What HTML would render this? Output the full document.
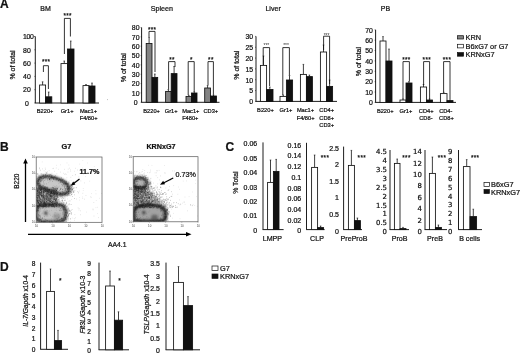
<!DOCTYPE html>
<html><head><meta charset="utf-8"><title>Figure</title>
<style>html,body{margin:0;padding:0;background:#fff;}svg{display:block;filter:blur(0.35px)}text{stroke:#111;stroke-width:0.22px;paint-order:stroke}text.t{stroke:none}</style></head>
<body><svg width="520" height="354" viewBox="0 0 520 354" font-family='"Liberation Sans", sans-serif'>
<defs><filter id="b1" x="-10%" y="-10%" width="120%" height="120%"><feGaussianBlur stdDeviation="0.95"/></filter><filter id="b2" x="-20%" y="-20%" width="140%" height="140%"><feGaussianBlur stdDeviation="1.6"/></filter></defs>
<rect width="520" height="354" fill="#fff"/>
<text x="0.00" y="8.30" font-size="12" text-anchor="start" font-weight="bold" fill="#111" >A</text>
<text x="45.60" y="11.10" font-size="7.0" text-anchor="middle" fill="#111" >BM</text>
<text x="14.90" y="65.00" font-size="7.0" text-anchor="middle" transform="rotate(-90 14.90 65.00)" fill="#111" >% of total</text>
<text x="28.20" y="39.28" font-size="6.9" text-anchor="middle" fill="#111" letter-spacing="-0.35">100</text>
<line x1="34.00" y1="36.50" x2="35.30" y2="36.50" stroke="#111" stroke-width="0.6"/>
<line x1="35.30" y1="36.50" x2="35.30" y2="103.00" stroke="#111" stroke-width="0.95"/>
<line x1="34.90" y1="103.00" x2="99.00" y2="103.00" stroke="#111" stroke-width="0.95"/>
<text x="26.90" y="105.78" font-size="6.9" text-anchor="middle" fill="#111" >0</text>
<line x1="34.30" y1="103.00" x2="35.30" y2="103.00" stroke="#111" stroke-width="0.5"/>
<text x="26.90" y="92.48" font-size="6.9" text-anchor="middle" fill="#111" >20</text>
<line x1="34.30" y1="89.70" x2="35.30" y2="89.70" stroke="#111" stroke-width="0.5"/>
<text x="26.90" y="79.18" font-size="6.9" text-anchor="middle" fill="#111" >40</text>
<line x1="34.30" y1="76.40" x2="35.30" y2="76.40" stroke="#111" stroke-width="0.5"/>
<text x="26.90" y="65.88" font-size="6.9" text-anchor="middle" fill="#111" >60</text>
<line x1="34.30" y1="63.10" x2="35.30" y2="63.10" stroke="#111" stroke-width="0.5"/>
<text x="26.90" y="52.58" font-size="6.9" text-anchor="middle" fill="#111" >80</text>
<line x1="34.30" y1="49.80" x2="35.30" y2="49.80" stroke="#111" stroke-width="0.5"/>
<line x1="42.60" y1="81.80" x2="42.60" y2="85.00" stroke="#111" stroke-width="0.8"/>
<line x1="41.80" y1="81.80" x2="43.40" y2="81.80" stroke="#111" stroke-width="0.6"/>
<rect x="39.60" y="85.00" width="6.00" height="18.00" fill="#fff" stroke="#111" stroke-width="0.85"/>
<line x1="48.70" y1="92.00" x2="48.70" y2="96.80" stroke="#111" stroke-width="0.8"/>
<line x1="47.90" y1="92.00" x2="49.50" y2="92.00" stroke="#111" stroke-width="0.6"/>
<rect x="45.60" y="96.80" width="6.20" height="6.20" fill="#111" stroke="#111" stroke-width="0.85"/>
<line x1="64.25" y1="61.00" x2="64.25" y2="63.60" stroke="#111" stroke-width="0.8"/>
<line x1="63.45" y1="61.00" x2="65.05" y2="61.00" stroke="#111" stroke-width="0.6"/>
<rect x="61.00" y="63.60" width="6.50" height="39.40" fill="#fff" stroke="#111" stroke-width="0.85"/>
<line x1="70.75" y1="41.00" x2="70.75" y2="49.00" stroke="#111" stroke-width="0.8"/>
<line x1="69.95" y1="41.00" x2="71.55" y2="41.00" stroke="#111" stroke-width="0.6"/>
<rect x="67.50" y="49.00" width="6.50" height="54.00" fill="#111" stroke="#111" stroke-width="0.85"/>
<line x1="86.00" y1="84.50" x2="86.00" y2="85.60" stroke="#111" stroke-width="0.8"/>
<line x1="85.20" y1="84.50" x2="86.80" y2="84.50" stroke="#111" stroke-width="0.6"/>
<rect x="83.00" y="85.60" width="6.00" height="17.40" fill="#fff" stroke="#111" stroke-width="0.85"/>
<line x1="92.00" y1="83.00" x2="92.00" y2="86.00" stroke="#111" stroke-width="0.8"/>
<line x1="91.20" y1="83.00" x2="92.80" y2="83.00" stroke="#111" stroke-width="0.6"/>
<rect x="89.00" y="86.00" width="6.00" height="17.00" fill="#111" stroke="#111" stroke-width="0.85"/>
<polyline points="43.40,72.00 43.40,65.70 48.40,65.70 48.40,89.00" fill="none" stroke="#111" stroke-width="0.85"/>
<text x="46.10" y="64.45" font-size="6.3" text-anchor="middle" fill="#111" letter-spacing="0.35">***</text>
<polyline points="64.40,54.00 64.40,18.40 70.40,18.40 70.40,36.50" fill="none" stroke="#111" stroke-width="0.85"/>
<text x="67.60" y="18.35" font-size="6.3" text-anchor="middle" fill="#111" letter-spacing="0.35">***</text>
<text x="45.10" y="112.70" font-size="5.7" text-anchor="middle" fill="#111" >B220+</text>
<text x="67.10" y="112.70" font-size="5.7" text-anchor="middle" fill="#111" >Gr1+</text>
<text x="88.50" y="112.70" font-size="5.7" text-anchor="middle" fill="#111" >Mac1+</text>
<text x="88.60" y="120.10" font-size="5.7" text-anchor="middle" fill="#111" >F4/80+</text>
<text x="161.90" y="11.00" font-size="7.15" text-anchor="middle" fill="#111" >Spleen</text>
<text x="126.50" y="67.70" font-size="7.0" text-anchor="middle" transform="rotate(-90 126.50 67.70)" fill="#111" >% of total</text>
<line x1="141.60" y1="27.50" x2="141.60" y2="102.30" stroke="#111" stroke-width="0.95"/>
<line x1="141.20" y1="102.30" x2="219.50" y2="102.30" stroke="#111" stroke-width="0.95"/>
<text x="135.70" y="105.08" font-size="6.9" text-anchor="middle" fill="#111" >0</text>
<line x1="140.60" y1="102.30" x2="141.60" y2="102.30" stroke="#111" stroke-width="0.5"/>
<text x="135.70" y="95.73" font-size="6.9" text-anchor="middle" fill="#111" >10</text>
<line x1="140.60" y1="92.95" x2="141.60" y2="92.95" stroke="#111" stroke-width="0.5"/>
<text x="135.70" y="86.38" font-size="6.9" text-anchor="middle" fill="#111" >20</text>
<line x1="140.60" y1="83.60" x2="141.60" y2="83.60" stroke="#111" stroke-width="0.5"/>
<text x="135.70" y="77.03" font-size="6.9" text-anchor="middle" fill="#111" >30</text>
<line x1="140.60" y1="74.25" x2="141.60" y2="74.25" stroke="#111" stroke-width="0.5"/>
<text x="135.70" y="67.68" font-size="6.9" text-anchor="middle" fill="#111" >40</text>
<line x1="140.60" y1="64.90" x2="141.60" y2="64.90" stroke="#111" stroke-width="0.5"/>
<text x="135.70" y="58.33" font-size="6.9" text-anchor="middle" fill="#111" >50</text>
<line x1="140.60" y1="55.55" x2="141.60" y2="55.55" stroke="#111" stroke-width="0.5"/>
<text x="135.70" y="48.98" font-size="6.9" text-anchor="middle" fill="#111" >60</text>
<line x1="140.60" y1="46.20" x2="141.60" y2="46.20" stroke="#111" stroke-width="0.5"/>
<text x="135.70" y="39.63" font-size="6.9" text-anchor="middle" fill="#111" >70</text>
<line x1="140.60" y1="36.85" x2="141.60" y2="36.85" stroke="#111" stroke-width="0.5"/>
<text x="135.70" y="30.28" font-size="6.9" text-anchor="middle" fill="#111" >80</text>
<line x1="140.60" y1="27.50" x2="141.60" y2="27.50" stroke="#111" stroke-width="0.5"/>
<line x1="149.10" y1="37.50" x2="149.10" y2="43.50" stroke="#111" stroke-width="0.8"/>
<line x1="148.30" y1="37.50" x2="149.90" y2="37.50" stroke="#111" stroke-width="0.6"/>
<rect x="146.20" y="43.50" width="5.80" height="58.80" fill="#838383" stroke="#111" stroke-width="0.85"/>
<line x1="154.85" y1="74.00" x2="154.85" y2="77.40" stroke="#111" stroke-width="0.8"/>
<line x1="154.05" y1="74.00" x2="155.65" y2="74.00" stroke="#111" stroke-width="0.6"/>
<rect x="152.00" y="77.40" width="5.70" height="24.90" fill="#111" stroke="#111" stroke-width="0.85"/>
<line x1="168.40" y1="89.50" x2="168.40" y2="91.40" stroke="#111" stroke-width="0.8"/>
<line x1="167.60" y1="89.50" x2="169.20" y2="89.50" stroke="#111" stroke-width="0.6"/>
<rect x="165.60" y="91.40" width="5.60" height="10.90" fill="#838383" stroke="#111" stroke-width="0.85"/>
<line x1="174.10" y1="66.50" x2="174.10" y2="73.60" stroke="#111" stroke-width="0.8"/>
<line x1="173.30" y1="66.50" x2="174.90" y2="66.50" stroke="#111" stroke-width="0.6"/>
<rect x="171.20" y="73.60" width="5.80" height="28.70" fill="#111" stroke="#111" stroke-width="0.85"/>
<line x1="188.75" y1="95.30" x2="188.75" y2="96.40" stroke="#111" stroke-width="0.8"/>
<line x1="187.95" y1="95.30" x2="189.55" y2="95.30" stroke="#111" stroke-width="0.6"/>
<rect x="186.00" y="96.40" width="5.50" height="5.90" fill="#838383" stroke="#111" stroke-width="0.85"/>
<line x1="194.25" y1="91.50" x2="194.25" y2="93.00" stroke="#111" stroke-width="0.8"/>
<line x1="193.45" y1="91.50" x2="195.05" y2="91.50" stroke="#111" stroke-width="0.6"/>
<rect x="191.50" y="93.00" width="5.50" height="9.30" fill="#111" stroke="#111" stroke-width="0.85"/>
<line x1="207.60" y1="85.50" x2="207.60" y2="88.00" stroke="#111" stroke-width="0.8"/>
<line x1="206.80" y1="85.50" x2="208.40" y2="85.50" stroke="#111" stroke-width="0.6"/>
<rect x="204.70" y="88.00" width="5.80" height="14.30" fill="#838383" stroke="#111" stroke-width="0.85"/>
<line x1="213.50" y1="95.00" x2="213.50" y2="96.00" stroke="#111" stroke-width="0.8"/>
<line x1="212.70" y1="95.00" x2="214.30" y2="95.00" stroke="#111" stroke-width="0.6"/>
<rect x="210.50" y="96.00" width="6.00" height="6.30" fill="#111" stroke="#111" stroke-width="0.85"/>
<polyline points="149.00,37.00 149.00,31.40 155.00,31.40 155.00,72.00" fill="none" stroke="#111" stroke-width="0.85"/>
<text x="152.20" y="31.75" font-size="6.3" text-anchor="middle" fill="#111" letter-spacing="0.35">***</text>
<polyline points="168.60,89.00 168.60,61.60 175.00,61.60 175.00,67.00" fill="none" stroke="#111" stroke-width="0.85"/>
<text x="172.00" y="62.15" font-size="6.3" text-anchor="middle" fill="#111" letter-spacing="0.35">**</text>
<polyline points="188.20,95.00 188.20,61.60 194.20,61.60 194.20,91.00" fill="none" stroke="#111" stroke-width="0.85"/>
<text x="191.40" y="62.15" font-size="6.3" text-anchor="middle" fill="#111" letter-spacing="0.35">*</text>
<polyline points="208.00,85.00 208.00,61.60 213.40,61.60 213.40,94.80" fill="none" stroke="#111" stroke-width="0.85"/>
<text x="210.90" y="62.15" font-size="6.3" text-anchor="middle" fill="#111" letter-spacing="0.35">**</text>
<text x="151.60" y="112.70" font-size="5.7" text-anchor="middle" fill="#111" >B220+</text>
<text x="171.20" y="112.70" font-size="5.7" text-anchor="middle" fill="#111" >Gr1+</text>
<text x="190.80" y="112.70" font-size="5.7" text-anchor="middle" fill="#111" >Mac1+</text>
<text x="210.80" y="112.70" font-size="5.7" text-anchor="middle" fill="#111" >CD3+</text>
<text x="190.30" y="120.30" font-size="5.7" text-anchor="middle" fill="#111" >F480+</text>
<line x1="107.00" y1="99.60" x2="107.60" y2="99.60" stroke="#666" stroke-width="0.7"/>
<text x="273.10" y="11.20" font-size="7.1" text-anchor="middle" fill="#111" >Liver</text>
<text x="239.50" y="65.20" font-size="7.0" text-anchor="middle" transform="rotate(-90 239.50 65.20)" fill="#111" >% of total</text>
<line x1="256.00" y1="36.40" x2="256.00" y2="101.40" stroke="#111" stroke-width="0.95"/>
<line x1="255.60" y1="101.40" x2="337.00" y2="101.40" stroke="#111" stroke-width="0.95"/>
<text x="253.20" y="104.18" font-size="6.9" text-anchor="end" fill="#111" >0</text>
<line x1="255.00" y1="101.40" x2="256.00" y2="101.40" stroke="#111" stroke-width="0.5"/>
<text x="253.20" y="93.35" font-size="6.9" text-anchor="end" fill="#111" >5</text>
<line x1="255.00" y1="90.57" x2="256.00" y2="90.57" stroke="#111" stroke-width="0.5"/>
<text x="253.20" y="82.52" font-size="6.9" text-anchor="end" fill="#111" >10</text>
<line x1="255.00" y1="79.73" x2="256.00" y2="79.73" stroke="#111" stroke-width="0.5"/>
<text x="253.20" y="71.68" font-size="6.9" text-anchor="end" fill="#111" >15</text>
<line x1="255.00" y1="68.90" x2="256.00" y2="68.90" stroke="#111" stroke-width="0.5"/>
<text x="253.20" y="60.85" font-size="6.9" text-anchor="end" fill="#111" >20</text>
<line x1="255.00" y1="58.07" x2="256.00" y2="58.07" stroke="#111" stroke-width="0.5"/>
<text x="253.20" y="50.02" font-size="6.9" text-anchor="end" fill="#111" >25</text>
<line x1="255.00" y1="47.23" x2="256.00" y2="47.23" stroke="#111" stroke-width="0.5"/>
<text x="253.20" y="39.18" font-size="6.9" text-anchor="end" fill="#111" >30</text>
<line x1="255.00" y1="36.40" x2="256.00" y2="36.40" stroke="#111" stroke-width="0.5"/>
<line x1="263.50" y1="56.00" x2="263.50" y2="65.40" stroke="#111" stroke-width="0.8"/>
<line x1="262.70" y1="56.00" x2="264.30" y2="56.00" stroke="#111" stroke-width="0.6"/>
<rect x="260.40" y="65.40" width="6.20" height="36.00" fill="#fff" stroke="#111" stroke-width="0.85"/>
<line x1="269.80" y1="87.00" x2="269.80" y2="89.50" stroke="#111" stroke-width="0.8"/>
<line x1="269.00" y1="87.00" x2="270.60" y2="87.00" stroke="#111" stroke-width="0.6"/>
<rect x="266.60" y="89.50" width="6.40" height="11.90" fill="#111" stroke="#111" stroke-width="0.85"/>
<line x1="283.20" y1="95.00" x2="283.20" y2="96.40" stroke="#111" stroke-width="0.8"/>
<line x1="282.40" y1="95.00" x2="284.00" y2="95.00" stroke="#111" stroke-width="0.6"/>
<rect x="280.00" y="96.40" width="6.40" height="5.00" fill="#fff" stroke="#111" stroke-width="0.85"/>
<line x1="289.50" y1="75.50" x2="289.50" y2="80.00" stroke="#111" stroke-width="0.8"/>
<line x1="288.70" y1="75.50" x2="290.30" y2="75.50" stroke="#111" stroke-width="0.6"/>
<rect x="286.40" y="80.00" width="6.20" height="21.40" fill="#111" stroke="#111" stroke-width="0.85"/>
<line x1="303.40" y1="64.40" x2="303.40" y2="74.40" stroke="#111" stroke-width="0.8"/>
<line x1="302.60" y1="64.40" x2="304.20" y2="64.40" stroke="#111" stroke-width="0.6"/>
<rect x="300.40" y="74.40" width="6.00" height="27.00" fill="#fff" stroke="#111" stroke-width="0.85"/>
<line x1="309.40" y1="75.00" x2="309.40" y2="76.60" stroke="#111" stroke-width="0.8"/>
<line x1="308.60" y1="75.00" x2="310.20" y2="75.00" stroke="#111" stroke-width="0.6"/>
<rect x="306.40" y="76.60" width="6.00" height="24.80" fill="#111" stroke="#111" stroke-width="0.85"/>
<line x1="323.50" y1="45.00" x2="323.50" y2="52.00" stroke="#111" stroke-width="0.8"/>
<line x1="322.70" y1="45.00" x2="324.30" y2="45.00" stroke="#111" stroke-width="0.6"/>
<rect x="320.40" y="52.00" width="6.20" height="49.40" fill="#fff" stroke="#111" stroke-width="0.85"/>
<line x1="329.60" y1="80.00" x2="329.60" y2="86.40" stroke="#111" stroke-width="0.8"/>
<line x1="328.80" y1="80.00" x2="330.40" y2="80.00" stroke="#111" stroke-width="0.6"/>
<rect x="326.60" y="86.40" width="6.00" height="15.00" fill="#111" stroke="#111" stroke-width="0.85"/>
<polyline points="263.20,65.00 263.20,47.60 269.60,47.60 269.60,86.00" fill="none" stroke="#111" stroke-width="0.85"/>
<text x="266.40" y="47.40" font-size="5.0" text-anchor="middle" fill="#333" class="t">***</text>
<polyline points="282.80,95.00 282.80,47.60 289.40,47.60 289.40,75.00" fill="none" stroke="#111" stroke-width="0.85"/>
<text x="286.10" y="47.40" font-size="5.0" text-anchor="middle" fill="#333" class="t">***</text>
<polyline points="323.60,50.00 323.60,36.20 329.60,36.20 329.60,84.00" fill="none" stroke="#111" stroke-width="0.85"/>
<text x="326.60" y="36.60" font-size="5.0" text-anchor="middle" fill="#333" class="t">***</text>
<text x="265.40" y="112.20" font-size="5.7" text-anchor="middle" fill="#111" >B220+</text>
<text x="286.00" y="112.20" font-size="5.7" text-anchor="middle" fill="#111" >Gr1+</text>
<text x="305.50" y="112.20" font-size="5.7" text-anchor="middle" fill="#111" >Mac1+</text>
<text x="326.70" y="112.20" font-size="5.7" text-anchor="middle" fill="#111" >CD4+</text>
<text x="305.60" y="120.20" font-size="5.7" text-anchor="middle" fill="#111" >F4/80+</text>
<text x="326.70" y="120.20" font-size="5.7" text-anchor="middle" fill="#111" >CD8+</text>
<text x="326.70" y="127.20" font-size="5.7" text-anchor="middle" fill="#111" >CD3+</text>
<text x="385.40" y="11.20" font-size="7.0" text-anchor="middle" fill="#111" >PB</text>
<text x="361.50" y="61.60" font-size="7.0" text-anchor="middle" transform="rotate(-90 361.50 61.60)" fill="#111" >% of total</text>
<line x1="375.60" y1="29.80" x2="375.60" y2="102.40" stroke="#111" stroke-width="0.95"/>
<line x1="375.20" y1="102.40" x2="456.00" y2="102.40" stroke="#111" stroke-width="0.95"/>
<text x="372.90" y="105.18" font-size="6.9" text-anchor="end" fill="#111" >0</text>
<line x1="374.60" y1="102.40" x2="375.60" y2="102.40" stroke="#111" stroke-width="0.5"/>
<text x="372.90" y="94.81" font-size="6.9" text-anchor="end" fill="#111" >10</text>
<line x1="374.60" y1="92.03" x2="375.60" y2="92.03" stroke="#111" stroke-width="0.5"/>
<text x="372.90" y="84.44" font-size="6.9" text-anchor="end" fill="#111" >20</text>
<line x1="374.60" y1="81.66" x2="375.60" y2="81.66" stroke="#111" stroke-width="0.5"/>
<text x="372.90" y="74.07" font-size="6.9" text-anchor="end" fill="#111" >30</text>
<line x1="374.60" y1="71.29" x2="375.60" y2="71.29" stroke="#111" stroke-width="0.5"/>
<text x="372.90" y="63.70" font-size="6.9" text-anchor="end" fill="#111" >40</text>
<line x1="374.60" y1="60.91" x2="375.60" y2="60.91" stroke="#111" stroke-width="0.5"/>
<text x="372.90" y="53.33" font-size="6.9" text-anchor="end" fill="#111" >50</text>
<line x1="374.60" y1="50.54" x2="375.60" y2="50.54" stroke="#111" stroke-width="0.5"/>
<text x="372.90" y="42.96" font-size="6.9" text-anchor="end" fill="#111" >60</text>
<line x1="374.60" y1="40.17" x2="375.60" y2="40.17" stroke="#111" stroke-width="0.5"/>
<text x="372.90" y="32.58" font-size="6.9" text-anchor="end" fill="#111" >70</text>
<line x1="374.60" y1="29.80" x2="375.60" y2="29.80" stroke="#111" stroke-width="0.5"/>
<line x1="383.00" y1="36.60" x2="383.00" y2="41.00" stroke="#111" stroke-width="0.8"/>
<line x1="382.20" y1="36.60" x2="383.80" y2="36.60" stroke="#111" stroke-width="0.6"/>
<rect x="380.00" y="41.00" width="6.00" height="61.40" fill="#fff" stroke="#111" stroke-width="0.85"/>
<line x1="389.00" y1="49.00" x2="389.00" y2="61.00" stroke="#111" stroke-width="0.8"/>
<line x1="388.20" y1="49.00" x2="389.80" y2="49.00" stroke="#111" stroke-width="0.6"/>
<rect x="386.00" y="61.00" width="6.00" height="41.40" fill="#111" stroke="#111" stroke-width="0.85"/>
<line x1="403.00" y1="99.00" x2="403.00" y2="100.00" stroke="#111" stroke-width="0.8"/>
<line x1="402.20" y1="99.00" x2="403.80" y2="99.00" stroke="#111" stroke-width="0.6"/>
<rect x="400.00" y="100.00" width="6.00" height="2.40" fill="#fff" stroke="#111" stroke-width="0.85"/>
<line x1="409.00" y1="81.50" x2="409.00" y2="83.00" stroke="#111" stroke-width="0.8"/>
<line x1="408.20" y1="81.50" x2="409.80" y2="81.50" stroke="#111" stroke-width="0.6"/>
<rect x="406.00" y="83.00" width="6.00" height="19.40" fill="#111" stroke="#111" stroke-width="0.85"/>
<line x1="423.50" y1="84.50" x2="423.50" y2="87.00" stroke="#111" stroke-width="0.8"/>
<line x1="422.70" y1="84.50" x2="424.30" y2="84.50" stroke="#111" stroke-width="0.6"/>
<rect x="420.40" y="87.00" width="6.20" height="15.40" fill="#fff" stroke="#111" stroke-width="0.85"/>
<line x1="429.55" y1="99.00" x2="429.55" y2="100.00" stroke="#111" stroke-width="0.8"/>
<line x1="428.75" y1="99.00" x2="430.35" y2="99.00" stroke="#111" stroke-width="0.6"/>
<rect x="426.60" y="100.00" width="5.90" height="2.40" fill="#111" stroke="#111" stroke-width="0.85"/>
<line x1="443.70" y1="92.30" x2="443.70" y2="93.60" stroke="#111" stroke-width="0.8"/>
<line x1="442.90" y1="92.30" x2="444.50" y2="92.30" stroke="#111" stroke-width="0.6"/>
<rect x="440.40" y="93.60" width="6.60" height="8.80" fill="#fff" stroke="#111" stroke-width="0.85"/>
<line x1="450.00" y1="100.00" x2="450.00" y2="100.60" stroke="#111" stroke-width="0.8"/>
<line x1="449.20" y1="100.00" x2="450.80" y2="100.00" stroke="#111" stroke-width="0.6"/>
<rect x="447.00" y="100.60" width="6.00" height="1.80" fill="#111" stroke="#111" stroke-width="0.85"/>
<polyline points="403.00,99.00 403.00,61.60 409.40,61.60 409.40,81.00" fill="none" stroke="#111" stroke-width="0.85"/>
<text x="406.40" y="62.15" font-size="6.3" text-anchor="middle" fill="#111" letter-spacing="0.35">***</text>
<polyline points="423.60,85.00 423.60,61.60 429.60,61.60 429.60,99.00" fill="none" stroke="#111" stroke-width="0.85"/>
<text x="426.80" y="62.15" font-size="6.3" text-anchor="middle" fill="#111" letter-spacing="0.35">***</text>
<polyline points="443.60,92.40 443.60,61.60 450.00,61.60 450.00,99.50" fill="none" stroke="#111" stroke-width="0.85"/>
<text x="447.00" y="62.15" font-size="6.3" text-anchor="middle" fill="#111" letter-spacing="0.35">***</text>
<text x="385.20" y="112.70" font-size="5.7" text-anchor="middle" fill="#111" >B220+</text>
<text x="405.90" y="112.70" font-size="5.7" text-anchor="middle" fill="#111" >Gr1+</text>
<text x="426.20" y="112.70" font-size="5.7" text-anchor="middle" fill="#111" >CD4+</text>
<text x="445.80" y="112.70" font-size="5.7" text-anchor="middle" fill="#111" >CD4-</text>
<text x="425.90" y="120.10" font-size="5.7" text-anchor="middle" fill="#111" >CD8-</text>
<text x="446.40" y="120.10" font-size="5.7" text-anchor="middle" fill="#111" >CD8+</text>
<rect x="457.40" y="35.70" width="6.20" height="3.30" fill="#838383" stroke="#111" stroke-width="0.7"/>
<rect x="457.40" y="44.30" width="6.20" height="3.60" fill="#fff" stroke="#111" stroke-width="0.7"/>
<rect x="457.40" y="52.60" width="6.20" height="3.60" fill="#111" stroke="#111" stroke-width="0.7"/>
<text x="465.60" y="39.80" font-size="7.35" text-anchor="start" fill="#111" >KRN</text>
<text x="465.60" y="48.60" font-size="7.35" text-anchor="start" fill="#111" >B6xG7 or G7</text>
<text x="465.60" y="57.30" font-size="7.35" text-anchor="start" fill="#111" >KRNxG7</text>
<text x="0.00" y="150.60" font-size="12" text-anchor="start" font-weight="bold" fill="#111" >B</text>
<text x="66.50" y="149.30" font-size="7.4" text-anchor="middle" font-weight="bold" fill="#111" >G7</text>
<text x="161.00" y="149.00" font-size="7.2" text-anchor="middle" font-weight="bold" fill="#111" >KRNxG7</text>
<text x="19.20" y="181.20" font-size="6.5" text-anchor="middle" transform="rotate(-90 19.20 181.20)" fill="#111" >B220</text>
<text x="117.20" y="246.80" font-size="6.8" text-anchor="middle" fill="#111" >AA4.1</text>
<line x1="25.50" y1="222.00" x2="25.50" y2="162.00" stroke="#000" stroke-width="1.3"/>
<polygon points="25.5,158.6 23.2,163.6 27.8,163.6" fill="#000"/>
<line x1="28.00" y1="234.30" x2="187.00" y2="234.30" stroke="#000" stroke-width="1.3"/>
<polygon points="191.5,234.3 186,232 186,236.6" fill="#000"/>
<clipPath id="c1"><rect x="36.2" y="157" width="65.8" height="65.30000000000001"/></clipPath>
<g clip-path="url(#c1)">
<g filter="url(#b2)" opacity="0.55">
<rect x="34.2" y="202.5" width="33" height="22" rx="7" fill="#777"/>
<ellipse cx="53.5" cy="185.5" rx="19" ry="9" transform="rotate(17 53.5 185.5)" fill="#777"/>
<rect x="34.2" y="186" width="24" height="22" fill="#888"/>
</g>
<g filter="url(#b1)">
<rect x="36.5" y="205.2" width="28.6" height="16.2" rx="5.5" fill="#c2c2c2" stroke="#333" stroke-width="2.7"/>
<ellipse cx="45.8" cy="213.2" rx="1.9" ry="2.1" fill="#4a4a4a"/>
<ellipse cx="57" cy="216.5" rx="4" ry="3" fill="#9a9a9a"/>
<path d="M39.4 178.4 C43 175.2 52 176.6 60 179.8 C67.4 182.8 70 187.5 68 191.2 C65.8 195 59 194.6 54 192.4 C48 189.8 42 188.6 39 185.6 C37.2 183.6 37.4 180.2 39.4 178.4Z" fill="#c8c8c8" stroke="#3a3a3a" stroke-width="2.7"/>
</g>
<path d="M39.4 200.4h0.55M47.5 194.9h0.55M46.9 188.7h0.55M37.7 189.7h0.55M53.6 190.4h0.55M49.4 206.0h0.55M44.5 206.5h0.55M54.2 193.5h0.55M38.7 193.9h0.55M44.0 199.8h0.55M47.7 189.2h0.55M40.5 200.9h0.55M42.8 199.1h0.55M42.5 203.1h0.55M53.0 191.9h0.55M47.2 204.6h0.55M45.5 189.4h0.55M52.1 190.9h0.55M37.0 200.7h0.55M74.3 198.5h0.55M44.6 198.9h0.55M45.8 204.0h0.55M56.1 196.5h0.55M56.4 199.9h0.55M44.3 203.4h0.55M44.3 200.7h0.55M45.9 191.2h0.55M37.4 202.6h0.55M41.4 195.4h0.55M49.6 198.0h0.55M43.6 203.4h0.55M38.8 194.2h0.55M50.5 206.2h0.55M39.9 192.4h0.55M46.4 199.2h0.55M36.3 196.0h0.55M48.1 206.1h0.55M55.5 200.5h0.55M55.1 202.8h0.55M38.1 203.0h0.55M44.6 190.0h0.55M41.0 191.2h0.55M43.3 189.0h0.55M39.4 189.9h0.55M36.7 204.6h0.55M38.2 190.0h0.55M43.5 194.9h0.55M54.0 206.9h0.55M46.4 189.6h0.55M43.4 193.0h0.55M37.8 206.0h0.55M39.3 198.3h0.55M47.3 206.6h0.55M38.8 200.9h0.55M43.9 191.2h0.55M60.0 193.6h0.55M53.2 206.7h0.55M41.1 203.1h0.55M36.8 197.4h0.55M36.8 188.5h0.55M41.6 201.2h0.55M46.2 195.9h0.55M71.0 194.3h0.55M41.0 191.7h0.55M49.3 205.1h0.55M38.8 196.6h0.55M38.0 200.2h0.55M41.8 202.6h0.55M44.9 202.8h0.55M53.0 206.5h0.55M44.6 206.0h0.55M37.4 190.4h0.55M39.4 205.2h0.55M52.1 206.6h0.55M57.0 194.0h0.55M39.0 188.3h0.55M46.3 205.7h0.55M54.5 203.7h0.55M41.5 193.6h0.55M48.5 192.9h0.55M39.0 205.3h0.55M45.8 199.1h0.55M50.0 195.4h0.55M53.4 197.5h0.55M45.4 191.5h0.55M53.0 191.3h0.55M51.4 198.6h0.55M47.1 198.6h0.55M36.4 189.1h0.55M41.4 193.3h0.55M54.2 202.2h0.55M37.1 195.9h0.55M53.0 200.9h0.55M47.4 197.1h0.55M36.8 201.0h0.55M46.3 198.2h0.55M40.1 203.8h0.55M38.8 196.4h0.55M41.3 189.4h0.55M42.5 190.1h0.55M65.4 200.2h0.55M54.7 206.4h0.55M56.2 195.6h0.55M57.0 203.8h0.55M45.3 197.8h0.55M40.3 194.1h0.55M53.9 195.8h0.55M43.2 199.9h0.55M37.6 206.7h0.55M38.4 206.4h0.55M41.8 188.8h0.55M37.1 195.4h0.55M43.5 203.4h0.55M39.3 205.5h0.55M50.9 189.7h0.55M50.7 196.1h0.55M55.9 200.1h0.55M60.0 188.3h0.55M50.0 196.1h0.55M47.8 205.6h0.55M38.9 198.0h0.55M38.5 191.1h0.55M40.4 193.9h0.55M52.1 193.5h0.55M39.9 194.6h0.55M41.5 188.3h0.55M44.8 196.5h0.55M39.1 189.1h0.55M51.1 203.7h0.55M46.8 201.1h0.55M43.0 193.9h0.55M41.5 195.1h0.55M37.3 190.5h0.55M51.8 192.9h0.55M38.0 204.0h0.55M55.4 200.4h0.55M41.3 193.6h0.55M39.5 196.5h0.55M56.4 206.5h0.55M41.3 206.3h0.55M43.7 188.0h0.55M46.2 197.6h0.55M46.8 188.1h0.55M38.1 195.6h0.55M36.7 193.8h0.55M48.5 198.1h0.55M48.4 204.6h0.55M43.0 206.7h0.55M51.4 200.2h0.55M53.7 204.9h0.55M54.8 201.7h0.55M47.1 197.1h0.55M49.3 203.1h0.55M61.8 200.7h0.55M51.1 191.6h0.55M39.0 194.9h0.55M53.8 198.6h0.55M51.0 196.8h0.55M53.0 202.2h0.55M47.4 200.5h0.55M51.7 192.8h0.55M41.8 201.9h0.55M51.7 206.5h0.55M44.2 197.1h0.55M51.3 202.3h0.55M39.7 189.9h0.55M51.8 193.8h0.55M36.5 189.2h0.55M50.3 201.2h0.55M40.6 192.8h0.55M46.0 196.9h0.55M55.0 191.8h0.55M38.6 196.2h0.55M37.2 206.4h0.55M41.8 192.0h0.55M40.7 189.8h0.55M56.2 190.5h0.55M54.1 197.2h0.55M39.1 205.0h0.55M36.7 188.1h0.55M45.7 193.7h0.55M43.4 194.0h0.55M45.9 187.0h0.55M40.0 205.5h0.55M42.2 205.0h0.55M44.0 195.5h0.55M47.4 195.6h0.55M37.2 189.9h0.55M43.2 192.7h0.55M36.2 197.2h0.55M44.0 206.2h0.55M47.2 203.2h0.55M64.7 198.0h0.55M53.4 188.0h0.55M58.5 199.9h0.55M37.2 205.6h0.55M46.1 194.5h0.55M51.7 206.5h0.55M50.0 193.7h0.55M44.5 191.2h0.55M40.6 205.2h0.55M40.8 205.2h0.55M43.3 196.0h0.55M40.2 189.7h0.55M38.1 192.5h0.55M48.2 204.9h0.55M48.6 197.5h0.55M43.3 189.2h0.55M56.5 190.4h0.55M49.4 204.4h0.55M41.9 192.7h0.55M45.6 206.1h0.55M43.7 204.5h0.55M36.9 201.5h0.55M54.6 187.0h0.55M55.7 203.7h0.55M39.3 206.4h0.55M38.5 190.9h0.55M50.5 205.9h0.55M50.5 196.1h0.55M37.0 202.9h0.55M55.5 200.3h0.55M38.9 192.8h0.55M55.2 201.0h0.55M37.7 198.0h0.55M44.3 192.2h0.55M48.0 196.2h0.55M37.0 199.9h0.55M46.3 191.9h0.55M37.8 201.1h0.55M36.7 197.5h0.55M45.7 200.3h0.55M41.4 191.5h0.55M43.3 196.0h0.55M44.2 201.8h0.55M40.5 206.4h0.55M53.4 192.4h0.55M52.2 193.6h0.55M59.9 196.9h0.55M40.9 195.9h0.55M43.7 194.9h0.55M56.7 190.7h0.55M37.5 195.5h0.55M38.7 204.7h0.55M68.6 193.6h0.55M55.9 202.2h0.55M50.2 195.2h0.55M43.2 191.2h0.55M42.1 194.7h0.55M36.7 189.5h0.55M39.7 203.4h0.55M48.9 195.6h0.55M46.1 195.1h0.55M40.9 204.9h0.55M44.8 203.4h0.55M48.7 187.8h0.55M37.5 205.5h0.55M51.9 205.1h0.55M41.9 206.2h0.55M37.9 193.3h0.55M36.3 202.4h0.55M58.4 199.7h0.55M46.3 196.5h0.55M37.8 206.1h0.55M41.5 196.2h0.55M55.7 191.5h0.55M38.1 202.5h0.55M62.2 193.6h0.55M43.8 202.9h0.55M40.3 202.3h0.55M37.6 188.6h0.55M43.0 206.6h0.55M47.2 188.7h0.55M46.7 201.5h0.55M41.1 195.9h0.55M37.0 200.5h0.55M48.0 189.4h0.55M53.2 192.9h0.55M44.0 202.0h0.55M41.4 192.7h0.55M54.8 199.0h0.55M44.5 206.9h0.55M41.1 203.4h0.55M42.7 196.5h0.55M36.6 203.8h0.55M47.5 189.4h0.55M56.6 199.1h0.55M39.1 194.4h0.55M46.5 202.6h0.55M39.6 189.1h0.55M49.2 192.1h0.55M39.2 191.9h0.55M48.8 200.4h0.55M36.4 194.2h0.55M41.0 191.1h0.55M47.3 198.0h0.55M38.3 195.5h0.55M49.6 189.7h0.55M50.8 195.8h0.55M42.7 206.1h0.55M48.1 194.8h0.55M54.3 206.9h0.55M40.3 201.8h0.55M36.3 205.1h0.55M53.4 195.7h0.55M44.3 187.3h0.55M49.7 205.3h0.55M49.3 195.0h0.55M39.3 193.4h0.55M55.6 190.1h0.55M53.1 206.4h0.55M38.9 205.9h0.55M38.2 196.7h0.55M55.6 195.4h0.55M55.2 190.2h0.55M54.1 191.4h0.55M54.0 203.8h0.55M40.8 195.6h0.55M44.3 190.3h0.55M51.4 205.0h0.55M48.0 202.4h0.55M53.8 190.2h0.55M47.8 199.9h0.55M45.0 199.1h0.55M50.0 196.5h0.55M36.7 199.8h0.55M41.1 202.5h0.55M44.7 196.5h0.55M38.9 196.2h0.55M45.5 197.7h0.55M49.6 189.6h0.55M38.5 202.6h0.55M37.3 197.6h0.55M56.2 190.6h0.55M58.9 203.3h0.55M56.8 197.3h0.55M36.8 205.3h0.55M52.8 205.7h0.55M43.6 202.4h0.55M55.0 193.2h0.55M46.5 205.4h0.55M41.7 197.6h0.55M37.0 191.5h0.55M55.9 200.9h0.55M49.2 190.4h0.55M49.1 199.7h0.55M54.5 198.5h0.55M54.7 190.0h0.55M47.6 199.6h0.55M53.0 193.0h0.55M47.9 202.3h0.55M39.9 202.1h0.55M53.4 192.8h0.55M42.4 206.7h0.55M50.1 193.9h0.55M36.9 190.8h0.55M51.5 204.9h0.55M41.0 200.4h0.55M36.3 194.7h0.55M43.7 192.3h0.55M48.6 191.9h0.55M43.1 196.5h0.55M55.9 192.6h0.55M38.2 200.1h0.55M39.0 192.3h0.55M49.7 198.7h0.55M49.8 196.4h0.55M50.1 201.7h0.55M55.2 188.8h0.55M44.7 192.5h0.55M52.6 188.2h0.55M56.0 190.7h0.55M49.0 197.6h0.55M39.6 193.2h0.55M37.2 204.9h0.55M44.2 201.3h0.55M53.9 202.2h0.55M51.8 196.6h0.55M38.4 192.4h0.55M43.2 202.2h0.55M48.6 192.3h0.55M45.4 203.0h0.55M41.8 200.2h0.55M54.4 191.3h0.55M47.0 191.7h0.55M37.2 205.9h0.55M49.6 193.6h0.55M55.3 200.0h0.55M61.7 200.3h0.55M62.5 201.0h0.55M41.3 195.7h0.55M47.1 191.2h0.55M41.3 188.6h0.55M38.2 189.1h0.55M38.8 193.9h0.55M36.8 188.8h0.55M50.6 201.7h0.55M48.6 194.9h0.55M52.3 203.4h0.55M62.0 205.3h0.55M47.5 189.1h0.55M38.6 188.7h0.55M43.7 203.5h0.55M54.6 192.7h0.55M38.3 202.4h0.55M42.9 196.1h0.55M41.6 193.4h0.55M44.5 206.3h0.55M54.1 199.7h0.55M44.9 196.3h0.55M45.3 193.9h0.55M45.7 204.2h0.55M53.4 191.2h0.55M40.4 202.5h0.55M38.5 187.1h0.55M46.5 203.1h0.55M46.6 194.6h0.55M38.4 192.7h0.55M50.9 197.5h0.55M49.6 189.5h0.55M69.7 200.9h0.55M45.3 195.0h0.55M54.9 189.6h0.55M45.7 187.5h0.55M41.7 205.1h0.55M44.2 204.8h0.55M45.9 198.1h0.55M36.6 194.0h0.55M39.5 204.0h0.55M56.4 201.8h0.55M45.4 202.7h0.55M38.8 196.8h0.55M36.9 193.0h0.55M45.3 203.9h0.55M39.5 192.7h0.55M47.2 191.1h0.55M40.2 206.5h0.55M65.0 189.0h0.55M56.9 203.1h0.55M57.6 195.7h0.55M49.6 190.0h0.55M44.4 188.6h0.55M52.8 201.2h0.55M49.5 196.8h0.55M48.9 195.7h0.55M48.6 198.5h0.55M44.3 195.4h0.55M51.4 204.7h0.55M44.7 200.6h0.55M62.3 196.1h0.55M49.4 189.9h0.55M52.6 201.5h0.55M36.2 196.1h0.55M50.9 195.2h0.55M44.3 200.1h0.55M40.0 194.8h0.55M56.7 188.7h0.55M39.6 202.9h0.55M42.6 198.5h0.55M51.3 197.7h0.55M37.0 203.6h0.55M44.8 206.0h0.55M50.6 195.5h0.55M65.2 194.1h0.55M42.0 195.6h0.55M45.0 196.0h0.55M64.3 194.0h0.55M40.9 202.1h0.55M45.9 203.0h0.55M40.7 190.5h0.55M37.9 203.2h0.55M53.9 191.5h0.55M39.7 194.1h0.55M47.0 196.4h0.55M47.7 190.4h0.55M59.6 194.1h0.55M37.7 192.1h0.55M40.1 188.1h0.55M49.7 192.6h0.55M42.5 197.1h0.55M49.6 200.5h0.55M55.7 204.2h0.55M53.6 205.2h0.55M53.0 199.7h0.55M36.4 206.1h0.55M56.6 192.0h0.55M39.2 192.4h0.55M40.8 205.1h0.55M42.8 190.4h0.55M55.2 200.4h0.55M51.6 202.8h0.55M43.2 197.6h0.55M56.5 195.8h0.55M46.5 191.7h0.55M46.6 189.1h0.55M39.2 197.3h0.55M47.5 204.4h0.55M53.9 196.9h0.55M50.2 204.0h0.55M45.0 206.3h0.55M49.6 200.1h0.55M49.0 201.0h0.55M39.9 193.6h0.55M52.3 205.0h0.55M51.3 199.9h0.55M54.3 195.0h0.55M47.2 202.6h0.55M45.3 196.0h0.55M53.6 193.6h0.55M37.3 195.1h0.55M41.9 197.6h0.55M50.2 193.6h0.55M42.5 199.1h0.55M56.7 202.7h0.55M51.4 204.8h0.55M37.2 193.7h0.55M40.2 205.5h0.55M49.7 205.2h0.55M56.9 199.3h0.55M42.4 200.6h0.55M50.2 196.7h0.55M54.0 189.0h0.55M37.0 202.7h0.55M43.7 203.5h0.55M47.3 198.2h0.55M42.5 196.0h0.55M45.2 200.2h0.55M53.3 187.8h0.55M53.2 198.9h0.55M42.3 195.9h0.55M44.3 199.2h0.55M52.0 195.2h0.55M49.7 192.0h0.55M36.5 188.1h0.55M38.1 189.4h0.55M60.2 189.6h0.55M51.3 192.6h0.55M51.1 190.7h0.55M52.5 201.6h0.55M36.9 199.6h0.55M42.0 196.2h0.55M37.1 201.3h0.55M36.5 200.4h0.55M72.3 188.6h0.55M51.5 191.2h0.55M41.1 194.4h0.55M45.4 200.9h0.55M52.9 194.9h0.55M36.6 199.6h0.55M44.3 202.9h0.55M40.1 192.8h0.55M56.7 201.4h0.55M53.9 193.6h0.55M62.3 199.0h0.55M45.2 204.9h0.55M50.6 199.4h0.55M39.9 203.1h0.55M36.2 193.0h0.55M48.5 203.5h0.55M61.8 203.2h0.55M43.2 198.4h0.55M54.1 203.3h0.55M47.3 188.7h0.55M52.9 191.8h0.55M42.9 205.6h0.55M48.9 200.9h0.55M40.5 192.8h0.55M40.2 188.8h0.55M51.2 202.4h0.55M48.4 205.0h0.55M52.0 198.8h0.55M40.2 191.4h0.55M38.4 194.3h0.55M44.7 197.8h0.55M37.1 206.9h0.55M38.4 200.0h0.55M46.7 193.9h0.55M36.6 188.6h0.55M51.9 204.3h0.55M48.1 193.0h0.55M66.5 202.3h0.55M51.4 206.3h0.55M37.0 191.8h0.55M38.0 189.0h0.55M54.5 196.7h0.55M40.5 199.0h0.55M38.7 206.2h0.55M48.1 200.2h0.55M38.9 200.4h0.55M45.6 191.0h0.55M46.1 187.8h0.55M43.6 205.2h0.55M36.7 203.7h0.55M52.7 201.5h0.55M40.9 189.9h0.55M36.6 205.8h0.55M41.9 202.2h0.55M43.0 192.9h0.55M46.3 191.2h0.55M39.2 200.9h0.55M51.3 191.7h0.55M55.7 192.2h0.55M54.1 204.3h0.55M45.9 188.9h0.55M47.9 203.8h0.55M48.4 203.5h0.55M49.4 190.7h0.55M37.4 201.6h0.55M39.2 204.5h0.55M44.8 191.0h0.55M53.8 194.4h0.55M46.5 194.0h0.55M40.0 189.3h0.55M64.0 200.4h0.55M46.2 193.4h0.55M40.4 194.9h0.55M46.6 207.0h0.55M45.7 204.9h0.55M51.5 193.6h0.55M42.9 187.3h0.55M40.4 187.0h0.55M42.7 197.5h0.55M45.3 205.3h0.55M48.2 190.6h0.55M52.4 201.5h0.55M37.9 189.7h0.55M47.4 191.1h0.55M36.5 201.2h0.55M44.4 188.3h0.55M40.9 195.2h0.55M60.2 193.7h0.55M44.9 204.3h0.55M36.5 205.3h0.55M54.5 193.1h0.55M53.7 195.0h0.55M44.0 199.3h0.55M47.1 196.5h0.55M38.7 201.6h0.55M44.4 201.2h0.55M52.0 189.2h0.55M45.4 206.1h0.55M47.0 198.1h0.55M36.6 206.4h0.55M40.0 190.0h0.55M53.4 188.6h0.55M50.9 191.7h0.55M48.8 199.0h0.55M51.0 190.0h0.55M37.1 189.5h0.55M46.7 193.3h0.55M44.7 190.6h0.55M54.3 190.8h0.55M51.9 191.1h0.55M40.4 205.8h0.55M45.0 204.0h0.55M44.5 205.9h0.55M41.7 193.7h0.55M56.8 203.3h0.55M45.0 203.3h0.55M52.2 206.2h0.55M41.8 192.0h0.55M49.5 194.9h0.55M37.7 196.2h0.55M36.6 190.6h0.55M41.7 199.7h0.55M68.7 204.7h0.55M55.8 192.3h0.55M40.5 192.5h0.55M55.6 199.8h0.55M47.1 196.2h0.55M39.0 200.0h0.55M48.7 206.2h0.55M41.8 196.9h0.55M39.3 190.4h0.55M42.4 195.7h0.55M41.3 189.7h0.55M53.8 199.6h0.55M49.9 191.8h0.55M47.8 196.2h0.55M49.1 196.9h0.55M41.3 192.2h0.55M44.2 199.1h0.55M43.6 204.4h0.55M47.9 197.3h0.55M56.9 193.6h0.55M39.0 204.4h0.55M37.5 195.4h0.55M51.6 190.1h0.55M56.3 202.0h0.55M43.3 194.7h0.55M40.6 199.3h0.55M43.5 201.8h0.55M51.4 202.2h0.55M52.7 201.5h0.55M55.9 187.1h0.55M56.5 198.7h0.55M56.4 198.9h0.55M52.7 204.6h0.55M47.4 196.2h0.55M46.7 192.9h0.55M47.9 195.3h0.55M52.7 204.1h0.55M45.5 191.5h0.55M39.2 198.9h0.55M38.0 205.5h0.55M53.9 203.9h0.55M40.4 205.2h0.55M37.2 198.7h0.55M55.5 202.7h0.55M57.2 197.8h0.55M50.6 195.4h0.55M48.7 194.7h0.55M50.4 200.5h0.55M38.3 195.1h0.55M48.0 198.9h0.55M52.0 195.8h0.55M39.8 206.9h0.55M47.3 203.5h0.55M42.9 206.6h0.55M43.0 204.9h0.55M36.7 203.4h0.55M47.4 190.1h0.55M46.9 197.6h0.55M40.0 200.0h0.55M45.7 194.1h0.55M38.9 195.2h0.55M39.3 193.1h0.55M48.1 203.8h0.55M50.2 191.7h0.55M47.8 193.1h0.55M36.5 197.6h0.55M49.1 189.4h0.55M52.1 190.0h0.55M39.8 197.9h0.55M42.7 199.3h0.55M38.3 202.4h0.55M51.2 194.7h0.55M41.8 189.9h0.55M37.0 198.6h0.55M45.6 195.3h0.55M54.9 199.1h0.55M54.3 192.0h0.55M55.7 204.2h0.55M55.1 203.5h0.55M48.9 206.2h0.55M56.1 192.6h0.55M51.3 192.2h0.55M54.6 197.2h0.55M43.4 191.9h0.55M43.7 191.5h0.55M40.7 189.3h0.55M44.3 195.7h0.55M38.8 203.7h0.55M41.3 191.6h0.55M41.2 188.7h0.55M53.6 193.8h0.55M51.0 189.8h0.55M53.7 190.4h0.55M53.8 203.3h0.55M43.6 201.7h0.55M56.3 192.0h0.55M46.2 196.1h0.55M51.0 193.0h0.55M36.5 198.8h0.55M41.4 199.6h0.55M54.5 190.3h0.55M47.6 193.1h0.55M51.6 198.4h0.55M44.4 189.6h0.55M54.1 194.1h0.55M49.8 189.2h0.55M43.8 197.5h0.55M37.6 193.9h0.55M38.8 201.6h0.55M44.7 205.3h0.55M56.8 189.6h0.55M36.8 200.9h0.55M54.9 194.0h0.55M50.0 201.3h0.55M54.0 194.7h0.55M39.1 205.3h0.55M42.5 201.3h0.55M37.0 191.1h0.55M42.6 195.2h0.55M42.7 200.1h0.55M53.8 198.8h0.55M36.6 200.7h0.55M36.2 203.9h0.55M51.2 192.7h0.55M54.1 199.5h0.55M41.3 190.1h0.55M43.9 202.0h0.55M50.8 195.5h0.55M66.3 203.6h0.55M38.1 206.0h0.55M55.7 201.1h0.55M45.7 196.1h0.55M50.9 196.1h0.55M55.7 190.4h0.55M53.5 187.9h0.55M39.9 197.9h0.55M46.4 199.8h0.55M41.4 189.1h0.55M44.8 191.8h0.55M39.1 201.4h0.55M37.0 197.3h0.55M55.9 194.7h0.55M54.8 190.7h0.55M43.2 203.5h0.55M52.2 191.2h0.55M46.6 199.0h0.55M52.3 203.8h0.55M42.3 194.8h0.55M37.5 193.3h0.55M50.9 196.5h0.55M43.0 196.9h0.55M39.7 189.4h0.55M57.0 202.3h0.55M51.3 206.6h0.55M38.5 197.3h0.55M40.2 198.3h0.55M55.5 200.2h0.55M54.9 192.0h0.55M39.1 188.5h0.55M44.3 203.8h0.55M40.1 200.1h0.55M43.8 202.7h0.55M40.0 201.8h0.55M40.1 203.7h0.55M43.9 198.5h0.55M53.7 192.5h0.55M48.1 199.9h0.55M44.6 205.9h0.55M46.7 191.0h0.55M48.4 189.5h0.55M65.4 190.3h0.55M56.6 189.7h0.55M45.4 191.6h0.55M63.0 204.1h0.55M36.7 195.5h0.55M50.1 197.8h0.55M43.3 196.3h0.55M50.1 190.3h0.55M45.5 198.7h0.55M40.3 189.6h0.55M45.9 206.5h0.55M63.1 204.3h0.55M55.1 203.2h0.55M50.4 199.6h0.55M48.2 206.1h0.55M49.8 193.7h0.55M54.8 188.5h0.55M50.5 196.5h0.55M50.1 195.1h0.55M44.9 198.1h0.55M44.5 190.2h0.55M54.9 198.4h0.55M54.3 192.8h0.55M47.3 192.8h0.55M47.8 192.3h0.55M38.6 197.8h0.55M37.9 195.8h0.55M45.4 204.4h0.55M51.2 202.4h0.55M57.0 201.7h0.55M53.6 195.4h0.55M56.4 198.7h0.55M40.8 189.7h0.55M45.8 194.4h0.55M48.7 192.0h0.55M51.1 196.1h0.55M39.8 199.4h0.55M65.1 204.4h0.55M51.9 194.5h0.55M48.3 200.6h0.55M45.9 201.7h0.55M45.6 201.4h0.55M48.9 189.9h0.55M53.1 190.1h0.55M41.1 190.9h0.55M53.8 199.0h0.55M36.6 190.1h0.55M45.8 190.7h0.55M42.3 201.1h0.55M39.2 204.6h0.55M50.7 203.4h0.55M49.0 190.0h0.55M54.5 203.2h0.55M40.0 203.5h0.55M37.3 194.9h0.55M39.5 204.1h0.55M54.5 199.6h0.55M43.1 192.1h0.55M39.7 190.4h0.55M46.0 199.0h0.55M43.6 188.1h0.55M43.2 188.4h0.55M56.9 188.9h0.55M50.3 193.2h0.55M46.7 193.0h0.55M47.3 206.2h0.55M38.4 187.7h0.55M52.4 204.6h0.55M49.5 194.3h0.55M52.9 204.6h0.55M50.9 200.6h0.55M52.2 202.1h0.55M49.5 194.7h0.55M44.7 189.1h0.55M43.0 206.8h0.55M43.9 192.6h0.55M43.5 190.6h0.55M54.5 196.6h0.55M48.1 193.7h0.55M37.6 193.7h0.55M51.5 198.5h0.55M53.2 198.7h0.55M40.0 199.0h0.55M62.8 194.1h0.55M61.6 188.4h0.55M55.1 193.2h0.55M36.7 191.1h0.55M51.0 192.1h0.55M40.4 199.5h0.55M48.5 200.0h0.55M51.6 206.3h0.55M58.6 204.5h0.55M39.1 191.6h0.55M54.6 200.2h0.55M48.4 191.2h0.55M51.9 200.3h0.55M50.5 194.4h0.55M44.9 188.9h0.55M44.5 199.0h0.55M45.9 188.3h0.55M50.3 198.3h0.55M54.3 201.5h0.55M38.2 191.0h0.55M52.3 189.7h0.55M42.9 195.5h0.55M48.6 198.5h0.55M46.3 201.8h0.55M51.1 202.5h0.55M43.7 193.2h0.55M51.4 192.6h0.55M56.0 190.5h0.55M46.2 200.5h0.55M38.4 194.2h0.55M39.4 188.8h0.55M39.0 189.1h0.55M47.9 191.5h0.55M59.5 194.3h0.55M39.9 202.0h0.55M38.0 202.6h0.55M56.8 197.5h0.55M39.1 193.9h0.55M48.2 205.1h0.55M51.6 189.2h0.55M39.3 195.0h0.55M53.0 195.2h0.55M42.8 205.9h0.55M37.9 192.2h0.55M41.1 191.9h0.55M46.7 199.9h0.55M57.1 192.1h0.55M39.5 204.4h0.55M38.7 203.5h0.55M43.2 197.2h0.55M59.4 190.2h0.55M48.8 198.6h0.55M45.1 191.2h0.55M51.8 204.3h0.55M54.3 206.9h0.55M36.7 190.1h0.55M54.9 187.2h0.55M49.5 189.0h0.55M50.5 189.7h0.55M55.5 201.6h0.55M54.8 206.6h0.55M41.1 203.1h0.55M52.3 191.6h0.55M38.4 188.4h0.55M40.1 193.3h0.55M48.0 189.7h0.55M40.0 201.0h0.55M51.7 197.5h0.55M43.6 197.4h0.55M47.3 194.0h0.55M56.5 204.8h0.55M37.5 192.3h0.55M37.1 197.7h0.55M47.9 194.9h0.55M50.7 200.4h0.55M47.7 201.1h0.55M44.9 204.5h0.55M46.1 195.4h0.55M43.4 194.7h0.55M44.8 190.7h0.55M55.3 205.5h0.55M49.0 195.2h0.55M40.4 190.2h0.55M36.8 202.7h0.55M56.7 193.5h0.55M42.8 198.0h0.55M56.6 188.0h0.55M46.3 198.8h0.55M49.5 191.7h0.55M36.8 201.2h0.55M47.3 199.6h0.55M49.9 193.4h0.55M45.8 199.3h0.55M55.3 197.0h0.55M38.9 197.4h0.55M40.8 190.7h0.55M53.0 197.5h0.55M39.3 191.8h0.55M53.5 196.7h0.55M50.1 204.4h0.55M44.2 203.8h0.55M62.4 189.5h0.55M41.5 190.0h0.55M53.1 197.9h0.55M38.0 195.5h0.55M41.4 196.6h0.55M50.6 202.2h0.55M50.5 195.0h0.55M41.2 195.0h0.55M44.2 188.3h0.55M48.2 189.1h0.55M51.3 193.2h0.55M41.3 203.8h0.55M49.6 204.3h0.55M45.1 203.1h0.55M39.1 195.9h0.55M51.2 193.6h0.55M49.8 203.4h0.55M44.3 199.0h0.55M39.2 190.8h0.55M39.4 200.3h0.55M37.7 202.4h0.55M47.2 197.4h0.55M49.3 202.1h0.55M48.6 196.8h0.55M53.8 195.9h0.55M54.9 196.4h0.55M46.9 203.7h0.55M37.1 187.8h0.55M50.4 198.1h0.55M37.1 191.4h0.55M53.4 189.9h0.55M52.0 198.7h0.55M50.5 201.5h0.55M37.4 201.1h0.55M48.5 207.0h0.55M43.2 204.4h0.55M43.2 197.8h0.55M57.0 193.2h0.55M42.8 192.8h0.55M51.9 195.4h0.55M42.6 204.5h0.55M41.9 204.1h0.55M40.4 189.0h0.55M44.0 196.8h0.55M48.5 194.9h0.55M45.9 198.1h0.55M42.8 198.1h0.55M48.1 194.1h0.55M52.9 193.5h0.55M66.1 203.0h0.55M45.7 205.8h0.55M54.6 189.1h0.55M49.6 188.9h0.55M53.2 190.6h0.55M44.4 198.2h0.55M57.2 200.5h0.55M40.6 203.9h0.55M55.5 191.9h0.55M38.2 202.9h0.55M36.4 195.3h0.55M37.7 200.7h0.55M37.4 201.2h0.55M53.8 193.6h0.55M48.4 194.1h0.55M39.4 205.3h0.55M53.9 190.9h0.55M66.6 206.6h0.55M36.9 195.2h0.55M39.1 188.9h0.55M51.5 196.2h0.55M53.5 189.3h0.55M59.0 206.9h0.55M58.2 197.5h0.55M43.5 202.3h0.55M55.7 189.8h0.55M54.3 199.4h0.55M38.1 190.7h0.55M55.0 204.1h0.55M55.6 188.6h0.55M56.5 194.5h0.55M38.7 193.7h0.55M41.4 202.1h0.55M52.7 193.7h0.55M47.9 189.8h0.55M52.7 199.3h0.55M36.9 197.8h0.55M49.8 190.5h0.55M43.6 195.1h0.55M39.9 190.3h0.55M56.0 194.3h0.55M47.4 190.0h0.55M54.7 190.2h0.55M47.5 190.2h0.55M39.6 198.2h0.55M43.9 191.8h0.55M40.5 190.4h0.55M54.5 197.5h0.55M47.6 187.3h0.55M60.9 198.4h0.55M38.0 191.6h0.55M42.4 187.6h0.55M47.1 193.5h0.55M45.2 188.7h0.55M41.1 199.3h0.55M37.4 191.9h0.55M56.8 188.8h0.55M41.1 200.8h0.55M50.2 196.2h0.55M57.6 187.2h0.55M48.4 188.8h0.55M51.6 200.9h0.55M43.4 190.7h0.55M40.8 194.3h0.55M43.7 206.9h0.55M52.5 202.6h0.55M38.3 202.0h0.55M42.4 203.9h0.55M54.8 188.8h0.55M41.1 206.3h0.55M43.0 201.9h0.55M53.6 205.8h0.55M37.0 203.0h0.55M45.3 203.7h0.55M62.7 204.4h0.55M56.4 198.1h0.55M63.7 202.7h0.55M53.8 192.4h0.55M45.8 192.5h0.55M55.3 201.0h0.55M60.7 194.8h0.55M41.9 205.8h0.55M56.6 195.1h0.55M49.9 203.9h0.55M48.7 203.9h0.55M52.4 187.3h0.55M53.3 196.0h0.55M36.7 196.1h0.55M40.7 194.7h0.55M44.7 188.8h0.55M50.9 196.4h0.55M44.1 203.1h0.55M50.5 188.8h0.55M40.7 206.2h0.55M40.9 204.9h0.55M46.4 204.9h0.55M46.7 206.2h0.55M57.0 191.6h0.55M45.2 187.0h0.55M56.0 196.6h0.55M50.8 192.0h0.55M38.3 198.5h0.55M49.8 205.6h0.55M37.4 200.3h0.55M49.3 196.4h0.55M49.5 199.6h0.55M47.2 200.9h0.55M51.9 197.0h0.55M56.7 189.1h0.55M43.4 196.0h0.55M52.5 204.8h0.55M36.2 193.5h0.55M56.2 204.9h0.55M48.5 199.0h0.55M44.4 202.2h0.55M39.9 192.6h0.55M40.7 195.4h0.55M53.2 200.0h0.55M42.3 206.3h0.55M48.5 200.8h0.55M39.6 198.9h0.55M39.7 189.8h0.55M54.6 191.1h0.55M48.6 190.4h0.55M37.3 193.7h0.55M56.5 206.3h0.55M42.7 205.9h0.55M42.9 196.3h0.55M41.7 195.5h0.55M56.4 193.1h0.55M55.3 196.6h0.55M52.0 193.3h0.55M52.1 196.9h0.55M50.3 202.3h0.55M43.8 205.4h0.55M42.3 200.0h0.55M52.4 188.8h0.55M54.6 198.3h0.55M55.9 193.0h0.55M37.7 198.4h0.55M42.5 203.2h0.55M42.6 200.3h0.55M49.2 199.7h0.55M38.4 205.8h0.55M50.1 193.8h0.55M53.1 194.6h0.55M54.5 198.1h0.55M50.3 205.1h0.55M43.3 189.3h0.55M46.7 204.2h0.55M48.8 198.5h0.55M53.9 203.0h0.55M42.9 190.0h0.55M36.6 205.0h0.55M52.7 201.9h0.55M53.3 189.6h0.55M59.3 201.1h0.55M37.0 199.1h0.55M41.4 192.5h0.55M40.9 189.8h0.55M61.1 194.2h0.55M40.2 188.4h0.55M36.7 199.6h0.55M42.0 189.1h0.55M47.9 203.3h0.55M53.6 190.1h0.55M49.4 194.5h0.55M48.1 192.1h0.55M37.2 191.2h0.55M42.5 187.6h0.55M52.4 187.6h0.55M45.1 189.2h0.55M39.2 195.0h0.55M48.6 192.3h0.55M54.5 206.9h0.55M48.3 206.7h0.55M46.2 190.5h0.55M50.5 201.5h0.55M43.4 191.6h0.55M42.1 191.7h0.55M39.2 197.3h0.55M40.4 201.4h0.55M41.8 198.6h0.55M59.1 206.0h0.55M40.1 201.5h0.55M45.0 187.3h0.55M39.8 201.4h0.55M37.3 190.3h0.55M49.3 206.8h0.55M37.1 191.3h0.55M55.1 203.3h0.55M38.3 190.0h0.55M52.5 197.0h0.55M57.4 196.5h0.55M49.3 189.6h0.55M48.0 197.7h0.55M41.5 188.4h0.55M44.5 206.6h0.55M51.6 195.3h0.55M68.9 203.8h0.55M36.5 192.1h0.55M44.2 188.2h0.55M39.7 187.9h0.55M51.4 197.7h0.55M43.0 199.9h0.55M56.1 191.1h0.55M55.2 195.3h0.55M48.6 190.4h0.55M45.8 199.1h0.55M38.1 201.1h0.55M37.6 201.8h0.55M46.1 195.6h0.55M38.5 200.0h0.55M46.3 196.4h0.55M55.3 199.4h0.55M41.2 206.8h0.55M44.4 203.0h0.55M51.6 187.8h0.55M56.7 203.3h0.55M37.2 192.6h0.55M53.4 191.4h0.55M54.3 205.4h0.55M39.4 188.3h0.55M44.7 189.1h0.55M38.4 203.1h0.55M47.0 190.0h0.55M44.9 204.8h0.55M63.5 198.1h0.55M36.6 197.0h0.55M57.0 188.6h0.55M47.7 193.5h0.55M36.4 202.2h0.55M53.6 203.4h0.55M38.8 200.4h0.55M45.2 190.1h0.55M50.3 197.9h0.55M38.2 201.9h0.55M40.0 194.4h0.55M52.2 190.8h0.55M41.5 206.6h0.55M41.7 189.3h0.55M36.4 199.0h0.55M45.8 195.7h0.55M54.8 201.7h0.55M61.3 205.3h0.55M36.9 200.6h0.55M39.6 195.6h0.55M50.5 195.8h0.55M66.5 192.1h0.55M43.5 194.2h0.55M45.5 206.6h0.55M57.8 203.7h0.55M46.0 202.1h0.55M41.4 195.8h0.55M41.0 204.8h0.55M47.6 202.5h0.55M57.3 202.9h0.55M38.4 203.7h0.55M49.4 195.0h0.55M56.5 191.1h0.55M49.8 198.2h0.55M62.1 200.8h0.55M53.2 188.8h0.55M42.2 205.2h0.55M41.7 201.6h0.55M42.9 200.7h0.55M49.6 201.9h0.55M36.3 187.6h0.55M47.0 191.2h0.55M56.5 200.2h0.55M50.0 199.4h0.55M37.9 188.3h0.55M43.8 190.7h0.55M46.6 206.4h0.55M41.0 192.5h0.55M39.0 193.1h0.55M50.7 196.5h0.55M42.0 188.9h0.55M50.7 187.6h0.55M58.3 191.5h0.55M43.0 192.6h0.55M40.2 205.2h0.55M50.0 199.2h0.55M55.9 190.6h0.55M38.2 206.7h0.55M49.9 198.8h0.55M37.6 188.3h0.55M60.8 194.3h0.55M62.4 189.8h0.55M36.3 197.5h0.55M41.4 203.1h0.55M44.2 202.5h0.55M40.3 192.2h0.55M43.9 200.2h0.55M54.5 189.0h0.55M49.6 203.7h0.55M36.8 196.3h0.55M45.9 201.5h0.55M38.7 197.1h0.55M41.0 196.4h0.55M37.6 194.9h0.55M55.9 198.5h0.55M40.9 202.1h0.55M54.5 206.3h0.55M62.1 197.5h0.55M39.8 204.4h0.55M37.9 193.0h0.55M57.6 196.2h0.55M49.9 193.4h0.55M50.1 194.9h0.55M56.9 197.2h0.55M36.4 200.4h0.55M36.7 196.9h0.55M43.1 197.7h0.55M46.7 199.5h0.55M51.7 205.9h0.55M56.2 204.1h0.55M55.2 191.5h0.55M48.8 205.1h0.55M40.8 188.7h0.55M39.2 191.6h0.55M64.9 195.0h0.55M52.8 187.3h0.55M37.9 197.2h0.55M52.1 196.8h0.55M43.3 203.7h0.55M57.2 196.7h0.55M56.4 194.1h0.55M43.4 200.7h0.55M44.1 191.1h0.55M42.9 187.0h0.55M37.0 198.2h0.55M51.6 189.8h0.55M38.7 206.2h0.55M39.1 197.9h0.55M54.8 189.1h0.55M39.7 199.1h0.55M44.8 204.9h0.55M58.6 192.4h0.55M63.2 195.2h0.55M55.4 190.0h0.55M42.3 193.5h0.55M46.2 197.6h0.55M46.8 203.1h0.55M43.1 191.9h0.55M36.8 198.7h0.55M65.0 190.9h0.55M55.0 198.8h0.55M50.7 192.9h0.55M43.9 198.0h0.55M57.5 188.5h0.55M47.4 200.4h0.55M47.3 187.2h0.55M50.4 201.5h0.55M51.2 202.7h0.55M45.2 206.2h0.55M44.8 206.3h0.55M68.2 191.6h0.55M49.3 202.3h0.55M40.9 192.1h0.55M36.9 190.6h0.55M45.0 189.5h0.55M56.0 199.0h0.55M51.0 196.3h0.55M46.3 188.3h0.55M52.1 190.2h0.55M56.4 202.6h0.55M48.7 201.1h0.55M51.7 190.9h0.55M39.6 203.4h0.55M46.4 204.0h0.55M44.1 187.3h0.55M51.4 193.2h0.55M36.3 191.3h0.55M41.1 187.1h0.55M41.8 201.5h0.55M43.0 205.7h0.55M37.0 190.0h0.55M47.2 194.1h0.55M46.3 192.9h0.55M38.0 191.1h0.55M49.3 201.2h0.55M52.8 201.8h0.55M46.5 191.6h0.55M40.4 190.1h0.55M37.9 194.7h0.55M39.4 203.0h0.55M48.5 191.6h0.55M61.0 203.1h0.55M36.9 200.3h0.55M39.1 191.7h0.55M38.5 200.0h0.55M41.6 196.0h0.55M51.4 188.6h0.55M42.4 191.4h0.55M49.6 201.1h0.55M43.9 193.2h0.55M41.7 192.2h0.55M41.0 202.7h0.55M43.6 202.9h0.55M42.8 201.7h0.55M49.0 189.7h0.55M47.0 190.9h0.55M70.8 204.5h0.55M40.4 190.3h0.55M47.1 194.9h0.55M60.0 189.1h0.55M44.3 197.2h0.55M50.2 192.2h0.55M46.2 201.5h0.55M40.6 194.4h0.55M55.7 205.7h0.55M48.4 199.7h0.55M37.0 206.6h0.55M45.7 189.6h0.55M49.2 193.7h0.55M52.0 202.6h0.55M38.0 195.5h0.55M56.4 189.0h0.55M52.3 190.6h0.55M37.7 191.1h0.55M53.7 191.2h0.55M52.3 196.1h0.55M38.8 192.6h0.55M44.3 201.8h0.55M43.5 205.1h0.55M56.3 199.5h0.55M46.0 201.6h0.55M42.5 206.2h0.55M53.3 194.4h0.55M41.6 196.9h0.55M42.9 190.0h0.55" stroke="#222" stroke-width="0.55" opacity="0.7" fill="none"/>
<path d="M64.8 183.3h0.55M55.2 177.7h0.55M41.8 188.7h0.55M64.3 180.8h0.55M65.7 183.7h0.55M57.0 179.1h0.55M37.5 174.3h0.55M46.4 188.2h0.55M65.6 182.7h0.55M42.4 187.0h0.55M41.6 186.6h0.55M66.6 195.0h0.55M53.9 194.2h0.55M45.0 177.8h0.55M67.6 184.9h0.55M67.1 186.5h0.55M63.3 179.3h0.55M56.1 178.9h0.55M61.9 181.1h0.55M36.2 186.7h0.55M65.8 182.0h0.55M41.3 189.3h0.55M60.8 182.3h0.55M68.1 182.1h0.55M70.8 184.2h0.55M55.5 176.1h0.55M48.2 177.3h0.55M65.9 184.1h0.55M40.6 179.7h0.55M59.2 179.6h0.55M59.4 179.3h0.55M43.7 188.3h0.55M51.2 193.3h0.55M71.2 192.3h0.55M60.4 180.3h0.55M68.9 193.5h0.55M54.7 177.9h0.55M35.8 185.3h0.55M62.0 179.9h0.55M44.2 177.3h0.55M62.5 185.4h0.55M53.9 177.6h0.55M43.9 190.7h0.55M63.4 192.4h0.55M39.0 176.7h0.55M39.9 181.9h0.55M34.9 184.3h0.55M55.4 192.0h0.55M44.7 186.9h0.55M48.7 174.5h0.55M64.3 194.3h0.55M40.9 177.7h0.55M38.0 183.7h0.55M63.9 192.1h0.55M35.1 178.6h0.55M44.9 187.1h0.55M54.3 193.1h0.55M54.3 190.7h0.55M70.0 184.5h0.55M39.9 186.4h0.55M51.1 176.7h0.55M46.5 190.1h0.55M43.8 189.1h0.55M39.9 179.4h0.55M37.6 180.6h0.55M68.7 188.3h0.55M65.3 189.1h0.55M57.8 192.9h0.55M64.4 186.0h0.55M65.1 184.1h0.55M39.7 187.7h0.55M68.8 191.2h0.55M31.6 178.7h0.55M66.3 187.8h0.55M33.5 178.8h0.55M61.4 193.3h0.55M43.1 176.4h0.55M43.5 178.7h0.55M50.5 191.9h0.55M33.9 178.8h0.55M36.4 181.8h0.55M42.6 188.6h0.55M52.1 177.7h0.55M51.2 191.3h0.55M35.3 179.0h0.55M71.8 185.9h0.55M55.7 191.6h0.55M55.2 179.6h0.55M51.7 177.9h0.55M62.6 182.8h0.55M75.9 187.5h0.55M34.8 182.8h0.55M70.6 195.7h0.55M47.3 175.9h0.55M60.2 191.9h0.55M71.3 190.8h0.55M42.9 188.8h0.55M56.3 192.6h0.55M59.1 192.2h0.55M45.0 191.0h0.55M60.6 194.2h0.55M57.7 194.4h0.55M45.8 189.3h0.55M36.7 181.3h0.55M33.8 182.8h0.55M69.4 187.9h0.55M35.4 181.4h0.55M64.1 196.0h0.55M61.4 196.1h0.55M72.4 189.5h0.55M40.3 185.3h0.55M40.0 188.3h0.55M49.7 177.9h0.55M66.9 183.6h0.55M34.5 175.2h0.55M53.3 177.9h0.55M44.9 187.2h0.55M43.0 185.4h0.55M38.5 183.8h0.55M45.1 175.1h0.55M54.1 177.5h0.55M41.2 187.2h0.55M65.9 182.9h0.55M49.3 179.0h0.55M40.5 189.2h0.55M39.7 185.3h0.55M59.9 196.3h0.55M62.6 179.3h0.55M68.2 191.1h0.55M33.6 179.7h0.55M39.3 187.6h0.55M39.2 179.8h0.55M67.4 186.9h0.55M45.0 188.4h0.55M42.9 186.0h0.55M50.9 190.7h0.55M42.2 186.8h0.55M70.6 186.4h0.55M38.2 179.0h0.55M64.1 180.9h0.55M60.6 193.9h0.55M57.2 193.5h0.55M68.8 193.0h0.55M53.7 192.3h0.55M68.0 192.5h0.55M52.1 175.5h0.55M72.1 186.3h0.55M68.1 186.7h0.55M68.8 194.9h0.55M57.1 193.0h0.55M55.6 177.8h0.55M64.5 192.5h0.55M66.8 184.1h0.55M66.3 188.6h0.55M70.6 192.7h0.55M70.3 191.7h0.55M51.3 178.0h0.55M60.0 193.5h0.55M57.6 192.2h0.55M67.5 188.6h0.55M38.8 187.9h0.55M39.6 185.9h0.55M50.9 192.6h0.55M78.4 192.8h0.55M50.8 177.1h0.55M62.2 194.9h0.55M41.9 188.0h0.55M38.5 179.6h0.55M47.4 175.5h0.55M60.0 179.9h0.55M44.5 180.5h0.55M39.9 176.4h0.55M46.6 187.6h0.55M69.0 182.9h0.55M67.5 186.3h0.55M59.0 193.6h0.55M39.7 186.3h0.55M60.8 180.7h0.55M59.2 180.0h0.55M60.5 180.5h0.55M39.8 184.7h0.55M53.4 179.5h0.55M31.7 184.7h0.55M67.7 187.0h0.55M43.1 177.7h0.55M48.8 192.7h0.55M69.7 185.8h0.55M59.8 182.7h0.55M69.3 189.9h0.55M56.0 179.8h0.55M50.4 191.4h0.55M64.8 183.5h0.55M37.7 181.2h0.55M72.4 196.5h0.55M69.6 187.2h0.55M56.4 179.7h0.55M36.6 176.3h0.55M39.7 184.2h0.55M73.9 187.9h0.55M67.6 195.1h0.55M47.3 193.1h0.55M33.2 182.6h0.55M53.1 178.0h0.55M42.8 174.4h0.55M62.4 191.3h0.55M55.2 193.4h0.55M46.0 177.2h0.55M71.9 186.9h0.55M73.0 188.3h0.55M39.4 177.9h0.55M61.6 180.9h0.55M63.6 184.0h0.55M35.8 185.3h0.55M63.7 193.4h0.55M55.8 177.4h0.55M71.8 194.1h0.55M65.5 188.8h0.55M62.6 193.4h0.55M45.1 177.8h0.55M62.9 180.8h0.55M68.2 191.4h0.55M65.3 183.0h0.55M70.8 185.2h0.55M35.9 181.7h0.55M52.3 177.9h0.55M67.0 187.0h0.55M59.2 195.7h0.55M66.9 196.1h0.55M57.4 192.5h0.55M60.3 194.0h0.55M64.5 186.7h0.55M51.3 192.7h0.55M70.0 186.3h0.55M37.8 173.9h0.55M70.9 189.4h0.55M41.6 180.7h0.55M64.5 183.4h0.55M69.4 186.4h0.55M60.3 181.4h0.55M53.3 190.9h0.55M33.3 181.4h0.55M62.8 186.3h0.55M60.0 193.3h0.55M41.6 185.2h0.55M60.8 195.1h0.55M34.1 179.9h0.55M50.1 190.8h0.55M57.4 177.9h0.55M37.9 175.9h0.55M36.6 187.7h0.55M71.9 189.1h0.55M40.1 177.7h0.55M67.5 188.5h0.55M43.8 190.5h0.55M70.0 191.9h0.55M47.4 191.6h0.55M47.6 180.4h0.55M49.6 178.6h0.55M38.0 187.9h0.55M39.2 179.3h0.55M65.0 183.7h0.55M43.3 178.5h0.55M45.3 191.1h0.55M69.9 189.3h0.55M71.4 194.6h0.55M56.1 193.6h0.55M32.7 178.7h0.55M45.7 175.0h0.55M46.3 172.9h0.55M49.4 179.2h0.55M51.6 177.2h0.55M37.6 184.0h0.55M68.8 188.9h0.55M73.7 192.2h0.55M34.9 184.4h0.55M61.6 182.2h0.55M70.6 191.4h0.55M64.7 181.7h0.55M67.3 194.8h0.55M66.4 184.6h0.55M40.5 180.9h0.55M32.2 185.0h0.55M49.0 174.8h0.55M72.7 190.4h0.55M65.0 193.8h0.55M60.6 192.9h0.55M43.9 186.9h0.55M63.9 188.5h0.55M67.2 189.4h0.55M59.3 192.5h0.55M53.1 179.1h0.55M67.5 185.6h0.55M50.7 192.7h0.55M62.4 194.8h0.55M40.0 177.3h0.55M38.5 180.8h0.55M41.9 179.2h0.55M39.0 179.2h0.55M72.9 192.3h0.55M52.7 193.3h0.55M56.4 178.7h0.55M51.9 195.0h0.55M64.1 192.1h0.55M42.9 188.9h0.55M57.4 178.8h0.55M66.5 181.3h0.55M43.7 183.8h0.55M41.6 177.3h0.55M59.0 194.5h0.55M43.1 189.1h0.55M65.1 192.6h0.55M46.7 189.4h0.55M34.9 179.2h0.55M60.8 193.6h0.55M47.2 189.4h0.55M50.1 174.7h0.55M37.1 183.8h0.55M64.6 194.4h0.55M64.1 183.0h0.55M44.0 177.7h0.55M66.0 191.6h0.55M65.5 193.7h0.55M54.8 178.7h0.55M58.6 192.2h0.55M48.8 179.1h0.55M67.8 194.4h0.55M70.3 185.8h0.55M38.8 185.5h0.55M57.6 195.6h0.55M72.7 191.0h0.55M43.5 188.7h0.55M54.5 195.2h0.55M39.8 185.4h0.55M59.8 192.6h0.55M60.2 189.1h0.55M66.9 186.5h0.55M63.2 192.0h0.55M57.3 193.7h0.55M49.3 179.8h0.55M47.1 190.9h0.55M71.0 187.6h0.55M60.8 192.5h0.55M33.4 180.3h0.55M49.4 175.7h0.55M39.0 177.3h0.55M51.9 177.7h0.55M61.6 180.0h0.55M70.2 193.3h0.55M40.4 177.9h0.55M50.5 178.6h0.55M41.2 187.1h0.55M68.0 189.0h0.55M35.9 183.2h0.55M53.1 177.9h0.55M65.3 183.8h0.55M65.6 184.2h0.55M51.9 176.7h0.55M46.7 176.0h0.55M72.9 191.6h0.55M67.4 184.2h0.55M67.5 189.6h0.55M61.4 177.9h0.55M61.0 184.4h0.55M47.0 179.1h0.55M68.2 187.8h0.55M37.9 179.9h0.55M38.2 181.5h0.55M34.5 179.1h0.55M40.0 177.3h0.55M34.4 179.5h0.55M40.7 181.4h0.55M58.8 194.9h0.55M38.3 179.4h0.55M49.9 175.0h0.55M58.1 180.5h0.55M69.2 186.9h0.55M38.7 180.5h0.55M37.1 185.3h0.55M51.0 176.8h0.55M53.6 179.5h0.55M55.0 192.1h0.55M45.3 190.4h0.55M41.1 187.6h0.55M55.2 191.2h0.55M53.1 193.3h0.55M49.3 179.2h0.55M44.5 177.4h0.55M66.3 191.8h0.55M35.6 188.4h0.55M35.8 178.8h0.55M45.3 174.3h0.55M53.6 192.5h0.55M40.4 189.5h0.55M54.4 176.8h0.55M38.3 181.4h0.55M34.9 180.5h0.55M51.1 175.4h0.55M63.6 184.2h0.55M39.4 183.6h0.55M71.6 189.7h0.55M58.8 194.5h0.55M71.2 186.9h0.55M63.2 183.5h0.55M72.2 185.0h0.55M35.8 183.8h0.55M36.3 187.1h0.55M66.0 195.3h0.55M40.5 185.5h0.55M40.9 177.4h0.55M38.7 186.0h0.55M37.6 186.7h0.55M56.8 178.9h0.55M44.4 188.6h0.55M56.9 191.9h0.55M68.0 190.8h0.55M48.4 189.6h0.55M57.4 195.6h0.55M53.3 190.6h0.55M42.1 178.7h0.55M68.2 191.6h0.55M45.4 188.7h0.55M40.1 181.0h0.55M64.4 194.3h0.55M35.6 184.4h0.55M40.1 187.5h0.55M69.5 189.8h0.55M52.3 193.3h0.55M41.7 178.4h0.55M35.8 187.0h0.55M62.3 180.7h0.55M49.3 191.9h0.55M66.9 189.1h0.55M67.1 192.0h0.55M42.2 176.3h0.55M59.1 178.9h0.55M42.1 186.0h0.55M61.4 180.0h0.55M56.1 178.1h0.55M35.9 183.1h0.55M36.8 182.2h0.55M55.5 194.0h0.55M66.4 193.5h0.55M43.1 186.8h0.55M46.8 191.4h0.55M52.0 181.5h0.55M59.5 193.6h0.55M39.8 180.9h0.55M66.0 183.5h0.55M55.9 194.4h0.55M44.4 188.4h0.55M43.8 178.2h0.55M66.1 192.9h0.55M69.2 188.3h0.55M45.5 176.4h0.55M38.7 179.6h0.55M66.2 182.3h0.55M47.0 187.4h0.55M38.4 187.9h0.55M36.5 185.3h0.55M45.3 175.0h0.55M38.8 183.2h0.55M60.1 179.7h0.55M35.4 182.1h0.55M53.8 179.2h0.55M71.0 192.3h0.55M46.3 173.3h0.55M49.0 178.8h0.55M56.9 193.7h0.55M58.4 192.5h0.55M51.1 190.7h0.55M43.5 175.5h0.55M60.7 195.6h0.55M38.4 180.5h0.55M65.1 195.8h0.55M37.9 181.4h0.55M46.0 189.8h0.55M49.4 179.1h0.55M58.3 180.1h0.55M38.9 177.6h0.55M65.3 181.3h0.55M39.0 178.0h0.55M39.8 183.3h0.55M72.3 189.7h0.55M62.5 191.8h0.55M37.4 173.7h0.55M71.8 189.7h0.55M53.3 178.3h0.55M60.9 196.9h0.55M62.9 181.9h0.55M67.7 185.1h0.55M35.0 183.0h0.55M41.4 180.6h0.55M67.4 183.4h0.55M38.9 189.8h0.55M69.1 191.5h0.55M68.4 193.5h0.55M42.3 176.4h0.55M46.6 191.2h0.55M46.7 193.4h0.55M64.1 184.3h0.55M65.3 188.8h0.55M47.6 191.9h0.55M71.2 187.2h0.55M53.7 191.0h0.55M69.0 195.2h0.55M43.3 178.0h0.55M68.1 183.2h0.55M33.0 181.3h0.55M58.6 180.6h0.55M70.7 188.7h0.55M48.2 191.2h0.55M52.3 190.1h0.55M50.2 178.1h0.55M55.0 193.9h0.55M67.7 188.0h0.55M34.1 179.5h0.55M69.8 191.7h0.55M62.9 184.7h0.55M40.9 187.8h0.55M53.8 176.9h0.55M47.5 178.5h0.55M62.2 195.1h0.55M65.8 186.4h0.55M59.6 179.8h0.55M56.8 193.4h0.55M60.5 181.8h0.55M65.7 193.3h0.55M32.4 180.1h0.55M41.5 186.5h0.55M38.2 183.5h0.55M70.9 190.9h0.55M62.2 182.4h0.55M41.4 179.9h0.55M62.3 192.7h0.55M58.0 180.1h0.55M61.4 178.0h0.55M47.7 176.4h0.55M48.7 178.5h0.55M70.6 188.5h0.55M37.0 184.7h0.55M35.7 179.6h0.55M67.6 183.6h0.55M38.4 186.1h0.55M38.4 177.0h0.55M56.8 192.0h0.55M36.6 183.2h0.55M36.5 180.1h0.55M69.1 187.1h0.55M57.7 196.1h0.55M38.2 177.4h0.55M36.7 178.5h0.55M43.3 191.6h0.55M53.2 177.7h0.55M43.3 174.9h0.55M41.3 186.8h0.55M44.7 176.9h0.55M48.9 176.2h0.55M53.9 176.7h0.55M68.1 195.3h0.55M64.0 190.3h0.55M51.3 193.3h0.55M67.7 194.0h0.55M36.7 180.9h0.55M34.2 181.7h0.55M39.5 187.0h0.55M61.6 191.5h0.55M54.3 194.4h0.55M65.3 193.9h0.55M49.6 176.4h0.55M54.4 188.8h0.55M69.4 192.1h0.55M66.6 186.9h0.55M39.5 185.8h0.55M71.1 188.3h0.55M39.9 180.9h0.55M57.8 178.8h0.55M62.4 182.4h0.55M38.2 185.1h0.55M64.6 185.2h0.55M36.6 177.2h0.55M38.8 182.6h0.55M39.5 178.7h0.55M68.0 183.4h0.55M68.3 184.5h0.55M74.6 190.7h0.55M43.5 176.8h0.55M63.5 182.9h0.55M46.2 190.5h0.55M51.7 177.7h0.55M45.8 178.0h0.55M46.2 177.1h0.55M37.6 183.3h0.55M45.3 188.8h0.55M62.6 193.2h0.55M47.8 177.6h0.55M43.4 191.7h0.55M37.6 178.4h0.55M53.6 178.7h0.55M68.4 193.3h0.55M52.9 178.0h0.55M39.6 187.2h0.55M34.1 179.5h0.55M35.6 184.5h0.55M45.2 191.2h0.55M67.9 188.6h0.55M53.7 194.0h0.55M68.4 188.8h0.55M66.0 181.3h0.55M39.0 185.8h0.55M63.4 192.6h0.55M63.7 189.9h0.55M56.7 194.5h0.55M37.0 183.2h0.55M60.2 192.8h0.55M43.3 181.8h0.55M71.0 185.4h0.55M52.8 191.5h0.55M68.3 191.5h0.55M34.9 182.7h0.55M41.3 178.2h0.55M50.6 174.6h0.55M66.9 195.1h0.55M46.2 190.4h0.55M40.6 186.7h0.55M63.4 193.7h0.55M61.6 194.1h0.55M54.4 193.7h0.55M57.4 194.0h0.55M33.5 178.4h0.55M34.0 184.2h0.55M51.2 192.5h0.55M74.2 194.8h0.55M55.2 175.8h0.55M34.5 184.8h0.55M40.4 176.9h0.55M67.2 192.4h0.55M50.6 179.3h0.55M49.3 190.5h0.55M35.5 180.1h0.55M47.2 192.3h0.55M40.8 177.9h0.55M43.5 175.7h0.55M67.7 193.9h0.55M53.6 191.5h0.55M62.3 192.1h0.55M52.4 177.9h0.55M44.5 186.4h0.55M48.0 192.8h0.55M77.6 191.6h0.55M64.3 187.1h0.55M50.4 192.8h0.55M55.6 191.7h0.55M67.0 189.5h0.55M42.5 180.2h0.55M68.2 193.9h0.55M50.7 191.5h0.55M41.7 176.5h0.55M51.4 176.2h0.55M65.5 193.3h0.55M37.8 181.8h0.55M45.5 177.1h0.55M57.4 193.4h0.55M67.8 188.3h0.55M38.6 186.9h0.55M50.0 177.4h0.55M42.5 185.3h0.55M40.9 178.8h0.55M69.9 188.2h0.55M71.9 189.3h0.55M46.0 183.9h0.55M64.4 182.3h0.55M51.4 175.3h0.55M72.8 188.0h0.55M50.8 189.8h0.55M58.5 180.8h0.55M40.3 187.1h0.55M61.9 179.5h0.55M49.0 179.5h0.55M60.5 195.1h0.55M55.8 194.9h0.55M42.2 189.0h0.55M52.0 177.2h0.55M54.2 193.8h0.55M63.4 183.2h0.55M46.2 190.3h0.55M73.0 192.1h0.55M37.6 183.6h0.55M66.1 183.5h0.55M34.1 187.3h0.55M53.7 193.0h0.55M50.9 192.8h0.55M51.3 177.5h0.55M41.8 178.7h0.55M47.6 191.0h0.55M64.0 187.8h0.55M73.0 184.6h0.55M64.1 194.2h0.55M51.5 177.8h0.55M61.0 181.3h0.55M60.1 182.1h0.55" stroke="#222" stroke-width="0.55" opacity="0.6" fill="none"/>
<path d="M59.1 220.6h0.55M38.4 219.0h0.55M56.5 222.0h0.55M53.0 205.7h0.55M42.6 208.3h0.55M56.1 206.2h0.55M38.4 210.2h0.55M37.0 222.2h0.55M62.5 218.6h0.55M68.1 208.8h0.55M42.8 207.2h0.55M52.7 206.6h0.55M39.1 216.0h0.55M44.1 222.6h0.55M61.2 218.5h0.55M51.1 221.5h0.55M44.2 204.4h0.55M61.1 220.4h0.55M37.6 213.9h0.55M71.4 213.2h0.55M35.2 216.8h0.55M57.1 220.4h0.55M67.1 211.8h0.55M35.0 216.4h0.55M64.8 214.4h0.55M66.6 210.8h0.55M35.5 219.1h0.55M39.8 209.5h0.55M51.8 222.5h0.55M36.6 220.1h0.55M42.4 206.8h0.55M38.5 207.6h0.55M67.5 213.3h0.55M68.7 214.3h0.55M66.0 219.5h0.55M59.7 205.0h0.55M44.6 202.3h0.55M38.0 208.9h0.55M35.2 208.3h0.55M50.2 223.1h0.55M37.7 206.0h0.55M38.9 220.6h0.55M35.8 214.0h0.55M49.6 203.7h0.55M55.7 204.9h0.55M38.5 208.2h0.55M64.4 205.1h0.55M66.1 216.1h0.55M61.9 207.3h0.55M63.8 209.3h0.55M58.9 204.4h0.55M37.7 209.3h0.55M40.1 219.6h0.55M36.6 205.8h0.55M45.4 219.4h0.55M37.6 209.9h0.55M59.6 210.4h0.55M64.2 214.9h0.55M38.6 215.4h0.55M65.6 211.8h0.55M41.7 208.1h0.55M35.0 211.5h0.55M46.7 204.2h0.55M44.2 222.0h0.55M64.8 205.4h0.55M68.0 215.5h0.55M41.2 205.7h0.55M40.3 219.4h0.55M52.8 222.5h0.55M40.3 208.5h0.55M45.7 219.6h0.55M53.0 205.7h0.55M66.3 210.7h0.55M37.1 220.7h0.55M41.7 221.5h0.55M37.2 210.3h0.55M52.9 203.9h0.55M49.4 222.8h0.55M33.9 213.9h0.55M59.4 205.7h0.55M41.9 217.6h0.55M64.4 216.9h0.55M43.0 222.2h0.55M45.4 223.0h0.55M46.5 205.0h0.55M55.9 204.8h0.55M32.6 213.0h0.55M59.2 203.3h0.55M54.5 224.8h0.55M52.5 222.1h0.55M69.6 213.6h0.55M61.7 218.0h0.55M52.2 203.8h0.55M57.5 206.8h0.55M65.1 212.7h0.55M68.1 208.0h0.55M45.3 221.6h0.55M58.6 207.2h0.55M36.6 209.7h0.55M34.1 210.7h0.55M63.4 221.9h0.55M51.4 221.0h0.55M46.0 204.8h0.55M53.2 204.7h0.55M52.2 204.2h0.55M48.2 223.3h0.55M52.3 206.3h0.55M60.0 221.9h0.55M61.6 218.5h0.55M61.2 223.3h0.55M65.3 217.7h0.55M43.5 205.7h0.55M64.9 218.3h0.55M64.4 205.4h0.55M38.0 218.5h0.55M42.3 221.6h0.55M51.6 223.5h0.55M53.4 206.1h0.55M35.6 211.7h0.55M39.8 219.4h0.55M47.2 222.3h0.55M54.8 224.7h0.55M44.1 221.5h0.55M38.1 204.4h0.55M38.5 214.4h0.55M68.8 209.3h0.55M39.4 215.8h0.55M50.6 222.0h0.55M50.3 224.1h0.55M52.5 203.2h0.55M56.7 218.5h0.55M32.5 214.8h0.55M37.4 220.8h0.55M42.3 218.6h0.55M60.8 219.2h0.55M62.9 209.8h0.55M42.9 205.9h0.55M47.1 224.1h0.55M40.2 215.8h0.55M65.0 207.9h0.55M60.6 210.7h0.55M61.8 221.1h0.55M62.7 209.7h0.55M40.1 217.4h0.55M71.0 212.8h0.55M58.0 204.6h0.55M39.3 220.5h0.55M51.1 204.8h0.55M36.5 215.2h0.55M56.1 204.1h0.55M49.1 201.2h0.55M53.8 224.6h0.55M41.3 219.2h0.55M64.4 206.9h0.55M64.8 210.6h0.55M62.3 218.9h0.55M63.0 216.8h0.55M36.2 216.5h0.55M65.3 212.6h0.55M36.2 218.5h0.55M59.8 223.2h0.55M36.6 211.1h0.55M36.7 217.8h0.55M33.2 213.9h0.55M33.4 217.2h0.55M54.9 222.5h0.55M67.1 216.8h0.55M54.0 203.3h0.55M63.5 207.3h0.55M32.7 217.7h0.55M36.0 211.4h0.55M65.5 217.3h0.55M43.5 205.6h0.55M63.3 209.4h0.55M57.7 205.0h0.55M35.2 210.2h0.55M41.9 205.6h0.55M34.4 214.3h0.55M66.4 215.5h0.55M49.0 221.1h0.55M35.8 216.7h0.55M58.2 222.8h0.55M56.1 206.5h0.55M41.2 221.7h0.55M55.7 206.0h0.55M39.8 218.8h0.55M34.3 209.4h0.55M41.0 202.4h0.55M35.9 211.6h0.55M43.3 221.3h0.55M52.5 223.0h0.55M36.2 216.7h0.55M62.3 206.2h0.55M47.0 220.7h0.55M52.3 222.6h0.55M49.0 205.1h0.55M41.5 221.3h0.55M56.3 206.3h0.55M62.5 212.9h0.55M71.2 214.3h0.55M64.3 205.8h0.55M38.4 219.8h0.55M52.5 204.4h0.55M54.2 203.5h0.55M35.7 210.5h0.55M64.2 215.3h0.55M52.7 203.8h0.55M69.3 213.5h0.55M50.5 221.9h0.55M42.5 207.7h0.55M36.3 216.7h0.55M54.3 220.9h0.55M38.1 211.8h0.55M55.5 221.4h0.55M45.2 222.0h0.55M41.3 221.6h0.55M49.6 204.7h0.55M49.7 204.4h0.55M62.9 219.9h0.55M63.2 218.5h0.55M50.9 222.0h0.55M62.8 207.2h0.55M65.1 210.1h0.55M44.5 202.7h0.55M36.3 210.0h0.55M71.3 210.1h0.55M66.1 214.2h0.55M56.6 223.4h0.55M36.2 217.6h0.55M59.1 205.5h0.55M43.6 224.8h0.55M49.2 223.1h0.55M54.7 223.6h0.55M63.7 220.5h0.55M57.8 222.1h0.55M33.3 217.2h0.55M46.8 220.5h0.55M49.0 204.5h0.55M40.4 223.0h0.55M37.9 210.3h0.55M35.7 214.9h0.55M63.8 206.9h0.55M35.6 206.1h0.55M65.2 206.2h0.55M66.2 215.4h0.55M36.8 211.6h0.55M58.3 206.0h0.55M41.9 204.3h0.55M56.1 221.5h0.55M65.4 212.6h0.55M57.1 222.2h0.55M49.2 222.5h0.55M63.9 220.5h0.55M59.3 223.0h0.55M55.8 203.0h0.55M62.3 205.5h0.55M62.7 220.6h0.55M31.9 215.6h0.55M64.6 209.8h0.55M68.2 210.7h0.55M39.7 223.5h0.55M55.6 222.0h0.55M34.7 210.6h0.55M60.1 206.0h0.55M52.9 204.1h0.55M61.7 218.1h0.55M69.3 210.6h0.55M48.5 202.9h0.55M44.8 221.7h0.55M51.0 205.2h0.55M68.2 216.4h0.55M56.0 205.0h0.55M34.6 215.3h0.55M37.2 211.1h0.55M66.0 214.9h0.55M61.2 206.1h0.55M46.2 207.6h0.55M68.5 209.9h0.55M69.1 210.5h0.55M49.1 203.1h0.55M34.7 205.9h0.55M35.7 217.2h0.55M37.2 207.9h0.55M65.2 215.1h0.55M65.1 209.1h0.55M61.8 221.0h0.55M66.9 213.2h0.55M59.8 220.4h0.55M62.7 208.3h0.55M60.3 219.4h0.55M37.2 218.5h0.55M37.1 218.1h0.55M66.9 217.0h0.55M66.3 210.8h0.55M59.6 205.6h0.55M45.8 204.9h0.55M36.2 213.9h0.55M35.0 212.8h0.55M57.1 202.9h0.55M34.2 219.0h0.55M49.8 223.0h0.55M40.0 204.8h0.55M34.8 209.0h0.55M36.6 212.8h0.55M67.0 212.8h0.55M43.2 222.1h0.55M44.2 223.1h0.55M68.1 215.7h0.55M61.3 210.2h0.55M45.7 204.3h0.55M49.5 204.0h0.55M49.6 205.1h0.55M54.4 221.1h0.55M52.9 204.7h0.55M57.8 220.6h0.55M57.5 202.8h0.55M67.9 212.1h0.55M64.3 219.8h0.55M48.9 204.2h0.55M53.0 205.9h0.55M39.4 212.8h0.55M42.5 206.7h0.55M43.2 206.6h0.55M51.4 204.8h0.55M35.3 208.9h0.55M35.5 218.5h0.55M38.1 217.0h0.55M39.2 219.2h0.55M40.1 216.7h0.55M67.9 219.9h0.55M66.5 214.5h0.55M37.8 216.1h0.55M38.5 208.7h0.55M68.1 214.5h0.55M63.3 206.1h0.55M36.0 215.5h0.55M42.0 224.2h0.55M60.1 204.6h0.55M51.6 222.9h0.55M56.3 202.6h0.55M36.4 215.2h0.55M55.9 203.9h0.55M61.9 206.0h0.55M38.4 208.5h0.55M66.4 212.6h0.55M59.4 220.0h0.55M65.8 217.0h0.55M56.5 205.1h0.55M45.1 207.5h0.55M66.3 209.4h0.55M37.4 206.3h0.55M35.5 218.5h0.55M51.0 224.8h0.55M61.5 219.5h0.55M52.5 222.0h0.55M42.7 223.2h0.55M35.7 217.1h0.55M48.7 204.9h0.55M40.9 224.3h0.55M44.3 221.0h0.55M37.1 207.0h0.55M38.6 206.3h0.55M40.9 206.4h0.55M62.7 220.4h0.55M35.4 209.8h0.55M38.1 206.4h0.55M62.7 208.5h0.55M37.4 208.7h0.55M48.9 223.0h0.55M50.2 222.3h0.55M35.2 217.3h0.55M56.4 222.0h0.55M62.1 220.7h0.55M36.9 220.0h0.55M51.6 205.2h0.55M37.2 219.7h0.55M53.1 203.1h0.55M64.0 209.3h0.55M51.0 224.5h0.55M44.5 205.0h0.55M39.4 219.9h0.55M63.9 206.8h0.55M41.3 220.5h0.55M37.4 212.1h0.55M55.2 223.1h0.55M43.6 204.0h0.55M32.4 210.4h0.55M36.3 217.4h0.55M65.4 217.5h0.55M58.7 204.2h0.55M36.5 210.7h0.55M46.9 223.5h0.55M48.8 221.6h0.55M55.1 202.5h0.55M45.1 203.2h0.55M61.6 218.9h0.55M67.2 216.3h0.55M33.9 211.7h0.55M57.2 206.0h0.55M51.5 222.3h0.55M66.9 212.4h0.55M64.5 215.9h0.55M66.7 212.4h0.55M65.8 221.5h0.55M43.4 207.0h0.55M45.5 224.5h0.55M64.9 219.5h0.55M70.4 211.9h0.55M41.5 206.4h0.55M49.4 222.0h0.55M65.2 218.6h0.55M38.9 207.4h0.55M41.1 221.6h0.55M67.4 209.0h0.55M51.2 223.9h0.55M40.8 204.3h0.55M33.2 212.8h0.55M66.2 221.1h0.55M58.4 222.0h0.55M32.7 215.1h0.55M36.5 210.5h0.55M39.6 214.9h0.55M66.6 216.0h0.55M44.5 222.0h0.55M59.1 219.6h0.55M60.5 219.4h0.55M46.4 223.7h0.55M61.4 218.5h0.55M44.6 204.4h0.55M58.8 220.4h0.55M42.6 205.7h0.55M59.7 222.2h0.55M36.7 219.5h0.55M34.4 210.2h0.55M38.8 211.0h0.55M66.4 219.1h0.55M41.5 223.8h0.55M63.6 209.4h0.55M51.9 206.2h0.55M37.4 209.5h0.55M62.8 219.9h0.55M63.0 206.4h0.55M44.9 220.9h0.55M65.0 219.6h0.55M46.6 203.8h0.55M60.1 208.5h0.55M43.5 223.3h0.55M44.4 203.0h0.55M40.4 220.1h0.55M59.4 204.7h0.55M34.8 215.9h0.55M44.8 221.1h0.55M35.2 212.7h0.55M43.9 219.0h0.55M46.6 206.5h0.55M51.8 202.6h0.55M37.0 210.5h0.55M63.9 206.7h0.55M55.9 204.6h0.55M56.7 222.9h0.55M70.2 210.9h0.55M34.4 211.7h0.55M37.9 210.7h0.55M36.5 210.3h0.55M65.2 218.9h0.55M61.0 220.6h0.55M44.6 206.4h0.55M46.4 206.2h0.55M65.8 209.4h0.55M51.9 223.0h0.55M53.6 203.3h0.55M52.8 202.8h0.55M57.4 219.2h0.55M50.8 204.5h0.55M39.5 218.6h0.55M66.7 211.1h0.55M53.7 204.6h0.55M49.8 205.0h0.55M34.5 214.3h0.55M61.4 207.8h0.55M45.6 206.2h0.55M56.7 204.1h0.55M35.0 211.7h0.55M63.7 207.8h0.55M48.6 206.6h0.55M60.7 221.3h0.55M43.1 221.2h0.55M42.5 218.7h0.55M66.6 213.2h0.55M62.1 219.9h0.55M63.7 217.4h0.55M50.3 222.5h0.55M32.1 217.3h0.55M60.6 204.3h0.55M37.6 210.4h0.55M37.7 207.6h0.55M38.9 223.8h0.55M49.3 204.6h0.55M58.8 204.6h0.55M41.7 221.6h0.55M58.5 218.0h0.55M60.5 203.8h0.55M66.7 211.0h0.55M68.3 215.0h0.55M48.9 224.3h0.55M45.8 223.0h0.55M44.8 206.4h0.55M46.5 221.9h0.55M50.0 204.8h0.55M38.3 214.9h0.55M35.5 215.6h0.55M34.8 215.6h0.55M37.9 206.5h0.55M65.3 205.4h0.55M61.3 205.5h0.55M57.2 220.8h0.55M49.4 222.6h0.55M58.7 217.3h0.55M65.8 213.8h0.55M36.7 207.5h0.55M64.0 220.1h0.55M63.1 208.8h0.55M43.6 221.6h0.55M67.8 211.3h0.55M37.2 208.3h0.55M36.2 211.1h0.55M49.4 201.2h0.55M63.3 219.1h0.55M38.0 221.4h0.55M66.4 211.0h0.55M50.7 225.9h0.55M50.0 223.4h0.55M37.8 210.4h0.55M67.6 209.2h0.55M67.2 210.2h0.55M57.4 205.5h0.55M62.6 214.3h0.55M50.7 224.5h0.55M41.1 220.0h0.55M47.4 204.8h0.55M39.6 203.8h0.55M67.8 218.3h0.55M45.9 204.9h0.55M65.9 218.2h0.55M67.7 213.4h0.55M54.6 205.6h0.55M69.0 211.5h0.55M49.2 222.2h0.55M31.8 212.2h0.55M43.5 205.4h0.55M58.6 206.7h0.55M61.1 205.1h0.55M56.1 222.7h0.55M35.8 211.4h0.55M34.2 208.4h0.55M32.7 217.9h0.55M56.4 220.9h0.55M35.2 218.0h0.55M69.7 213.7h0.55M63.0 221.3h0.55M50.6 223.9h0.55M59.9 208.6h0.55M59.9 223.8h0.55M37.9 207.9h0.55M39.0 221.6h0.55M51.9 223.1h0.55M36.2 208.1h0.55M65.1 217.8h0.55M45.1 203.9h0.55M35.3 217.2h0.55M66.1 212.7h0.55M33.6 215.1h0.55M58.0 220.3h0.55M43.0 223.0h0.55M55.5 204.2h0.55M39.2 206.3h0.55M34.9 216.4h0.55M50.8 204.3h0.55M43.6 205.6h0.55M38.2 207.1h0.55M51.5 205.4h0.55M44.6 204.5h0.55M39.5 207.9h0.55M34.8 215.7h0.55M30.7 209.6h0.55M39.8 211.0h0.55M43.2 222.1h0.55M50.1 202.3h0.55M51.1 221.3h0.55M44.3 216.7h0.55M63.2 210.6h0.55M62.5 205.9h0.55M54.5 220.7h0.55M70.2 218.5h0.55M46.6 220.5h0.55M39.7 206.3h0.55M65.4 209.5h0.55M65.3 217.6h0.55M66.1 215.6h0.55M35.0 211.9h0.55" stroke="#222" stroke-width="0.55" opacity="0.6" fill="none"/>
<path d="M46.1 214.2h0.55M47.1 190.3h0.55M56.3 201.5h0.55M41.4 197.3h0.55M39.3 168.2h0.55M74.3 181.5h0.55M55.8 195.0h0.55M77.3 170.0h0.55M45.4 211.7h0.55M65.0 173.9h0.55M40.2 196.3h0.55M57.7 190.7h0.55M98.4 217.6h0.55M61.5 217.6h0.55M39.3 175.6h0.55M70.2 169.9h0.55M52.2 202.1h0.55M64.9 184.9h0.55M41.5 196.7h0.55M85.5 169.1h0.55M47.2 171.7h0.55M53.4 220.8h0.55M69.3 168.2h0.55M59.3 190.5h0.55M63.2 211.7h0.55M59.0 210.6h0.55M39.1 168.7h0.55M47.0 173.0h0.55M58.9 195.9h0.55M70.8 180.7h0.55M43.1 185.5h0.55M44.9 168.1h0.55M58.8 209.6h0.55M38.6 211.3h0.55M92.8 209.8h0.55M67.8 218.1h0.55M45.1 208.5h0.55M38.3 180.2h0.55M45.3 221.4h0.55M54.1 171.3h0.55M46.8 221.9h0.55M40.8 194.8h0.55M44.1 209.4h0.55M61.7 186.2h0.55M67.3 205.9h0.55M55.0 215.9h0.55M51.7 207.8h0.55M76.0 199.0h0.55M60.1 172.1h0.55M51.7 173.2h0.55M40.4 170.6h0.55M46.7 206.7h0.55M39.8 179.1h0.55M66.4 207.0h0.55M50.2 180.3h0.55M63.4 198.5h0.55M49.9 176.0h0.55M46.9 214.7h0.55M70.6 177.3h0.55M74.0 182.3h0.55M43.9 184.3h0.55M36.6 197.2h0.55M84.1 199.2h0.55M41.7 202.4h0.55M69.4 187.8h0.55M55.9 168.0h0.55M74.9 174.8h0.55M41.0 174.0h0.55M41.8 175.1h0.55M67.9 169.1h0.55M38.6 182.0h0.55M36.3 188.6h0.55M36.6 182.0h0.55M37.7 181.2h0.55M46.4 187.4h0.55M56.5 185.5h0.55M77.8 207.9h0.55M41.2 194.6h0.55M52.2 216.6h0.55M36.5 192.7h0.55M47.5 216.1h0.55M75.3 174.6h0.55M64.4 174.3h0.55M36.4 185.2h0.55M60.4 201.9h0.55M58.5 201.5h0.55M42.2 168.9h0.55M42.0 213.2h0.55M67.7 172.1h0.55M72.0 209.5h0.55M45.8 178.8h0.55M54.1 214.4h0.55M53.7 188.6h0.55M73.9 218.5h0.55M38.0 204.4h0.55M64.9 180.6h0.55M43.6 211.0h0.55M43.0 178.0h0.55M47.9 202.6h0.55M49.6 202.4h0.55M78.8 208.6h0.55M42.9 179.3h0.55M49.3 181.1h0.55M39.1 175.9h0.55M54.3 215.9h0.55M45.7 203.4h0.55M49.4 199.9h0.55M44.3 196.6h0.55M45.8 198.6h0.55M37.8 200.5h0.55M69.3 181.0h0.55M54.5 199.8h0.55M55.9 219.1h0.55M39.9 189.4h0.55M60.5 213.3h0.55M48.9 221.3h0.55M39.6 206.7h0.55M63.4 202.5h0.55M92.7 209.0h0.55M51.0 179.7h0.55M57.7 180.5h0.55M46.1 210.2h0.55M42.4 194.4h0.55M70.2 191.1h0.55M45.7 221.4h0.55M70.2 221.9h0.55M41.5 204.1h0.55M52.6 194.8h0.55M58.5 187.3h0.55M45.0 169.4h0.55M62.9 184.6h0.55M41.3 173.7h0.55M44.6 177.3h0.55M37.0 192.0h0.55M51.2 196.6h0.55M57.3 189.0h0.55M39.0 198.2h0.55M39.4 220.4h0.55M40.2 185.2h0.55M56.3 208.1h0.55M75.4 168.3h0.55M37.9 175.2h0.55M41.9 189.6h0.55M56.5 188.8h0.55M59.3 199.1h0.55M41.3 220.0h0.55M54.8 212.7h0.55M59.2 186.1h0.55M90.1 196.9h0.55M48.6 199.4h0.55M69.4 188.2h0.55M51.0 202.7h0.55M46.5 187.9h0.55M84.3 182.9h0.55M48.5 182.6h0.55M45.9 194.3h0.55M47.0 179.4h0.55M37.5 211.0h0.55M56.5 210.3h0.55M46.6 206.5h0.55M39.1 216.1h0.55M46.8 187.3h0.55M46.0 216.1h0.55M59.1 193.8h0.55M36.8 194.8h0.55M48.8 170.7h0.55M59.3 199.0h0.55M74.6 214.6h0.55M50.9 193.3h0.55M56.6 173.8h0.55M40.4 207.1h0.55M85.7 195.5h0.55M70.0 219.5h0.55M63.9 200.1h0.55M78.6 176.9h0.55M50.1 181.0h0.55M53.4 199.5h0.55M56.2 192.9h0.55M48.1 206.8h0.55M38.5 197.0h0.55M51.3 218.7h0.55M75.0 217.8h0.55M44.5 189.0h0.55M37.0 192.3h0.55M37.7 216.9h0.55M72.5 175.5h0.55M93.7 216.0h0.55M38.4 192.3h0.55M55.4 195.9h0.55M51.0 210.4h0.55M43.2 221.2h0.55M52.6 168.6h0.55M43.7 208.5h0.55M42.5 190.9h0.55M50.2 215.4h0.55M43.3 180.3h0.55M45.1 172.1h0.55M39.0 189.0h0.55M56.5 206.7h0.55M39.8 169.9h0.55M63.5 173.3h0.55M38.9 199.3h0.55M54.7 212.8h0.55M42.7 205.3h0.55M43.8 170.8h0.55M43.4 182.2h0.55M74.0 220.3h0.55M80.0 214.7h0.55M63.9 209.2h0.55M63.7 193.5h0.55M65.9 174.4h0.55M37.0 179.7h0.55M56.9 201.7h0.55M58.2 214.3h0.55M39.3 220.5h0.55M36.4 182.2h0.55M40.1 174.0h0.55M80.2 210.8h0.55M58.7 200.9h0.55M53.3 168.3h0.55M60.0 209.6h0.55M55.0 195.9h0.55M48.0 203.3h0.55M46.4 172.3h0.55M49.3 211.0h0.55M46.6 197.5h0.55M71.5 199.4h0.55M80.6 180.9h0.55M75.9 187.9h0.55M53.5 191.5h0.55M93.6 202.5h0.55M66.6 177.8h0.55M53.1 193.6h0.55M45.7 206.5h0.55M62.2 185.0h0.55M39.5 200.3h0.55M46.8 202.0h0.55M58.5 183.6h0.55M37.2 196.8h0.55M62.5 180.1h0.55M38.6 187.2h0.55M62.0 181.7h0.55M60.8 218.7h0.55M76.7 181.4h0.55M64.2 169.3h0.55M49.6 214.2h0.55M44.8 191.8h0.55M54.2 204.9h0.55M47.4 210.5h0.55M53.9 204.8h0.55M45.0 179.7h0.55M41.4 181.9h0.55M67.0 198.9h0.55M42.4 217.9h0.55M82.6 193.3h0.55M52.7 195.9h0.55M41.0 218.6h0.55M60.3 194.3h0.55M56.8 178.7h0.55M36.5 201.7h0.55" stroke="#666" stroke-width="0.55" opacity="0.5" fill="none"/>
<path d="M69.7 189.5h0.55M97.2 207.3h0.55M41.9 161.9h0.55M82.3 197.0h0.55M79.1 191.0h0.55M38.6 188.0h0.55M91.2 197.3h0.55M39.1 167.7h0.55M95.7 193.8h0.55M47.0 203.8h0.55M97.0 213.6h0.55M78.7 210.0h0.55M42.0 188.7h0.55M89.5 181.2h0.55M45.7 213.7h0.55M82.6 160.5h0.55M40.4 194.5h0.55M99.0 198.3h0.55M93.9 166.5h0.55M74.1 171.3h0.55M58.0 169.3h0.55M66.7 162.9h0.55M79.4 200.1h0.55M95.7 207.6h0.55M41.2 213.9h0.55M71.9 218.0h0.55M68.6 165.0h0.55M82.5 170.7h0.55M101.0 193.4h0.55M95.6 190.5h0.55M57.7 201.1h0.55M82.9 188.5h0.55M54.3 186.1h0.55M83.2 174.2h0.55M46.6 190.0h0.55M79.5 164.1h0.55M54.1 220.2h0.55M53.8 207.9h0.55M56.3 165.3h0.55M68.2 213.9h0.55M87.3 163.0h0.55M82.5 198.5h0.55M67.9 201.2h0.55M70.5 171.3h0.55M82.0 168.0h0.55M56.6 212.8h0.55M73.6 191.7h0.55M82.9 190.5h0.55M61.5 194.2h0.55M37.7 181.8h0.55M38.8 221.7h0.55M95.9 200.5h0.55M46.6 213.0h0.55M54.8 209.9h0.55M79.0 197.5h0.55M85.0 176.6h0.55M91.1 193.6h0.55M86.0 212.1h0.55M52.9 185.5h0.55M60.0 164.8h0.55" stroke="#888" stroke-width="0.55" opacity="0.5" fill="none"/>
</g>
<rect x="36.20" y="157.00" width="65.80" height="65.30" fill="none" stroke="#555" stroke-width="0.7"/>
<line x1="36.20" y1="222.30" x2="36.20" y2="223.30" stroke="#666" stroke-width="0.4"/>
<text x="36.50" y="227.10" font-size="2.9" text-anchor="middle" fill="#444" class="t">10</text>
<line x1="35.20" y1="222.30" x2="36.20" y2="222.30" stroke="#666" stroke-width="0.4"/>
<text x="35.00" y="223.10" font-size="2.9" text-anchor="end" fill="#444" class="t">10</text>
<line x1="52.65" y1="222.30" x2="52.65" y2="223.30" stroke="#666" stroke-width="0.4"/>
<text x="52.95" y="227.10" font-size="2.9" text-anchor="middle" fill="#444" class="t">10</text>
<line x1="35.20" y1="205.98" x2="36.20" y2="205.98" stroke="#666" stroke-width="0.4"/>
<text x="35.00" y="206.78" font-size="2.9" text-anchor="end" fill="#444" class="t">10</text>
<line x1="69.10" y1="222.30" x2="69.10" y2="223.30" stroke="#666" stroke-width="0.4"/>
<text x="69.40" y="227.10" font-size="2.9" text-anchor="middle" fill="#444" class="t">10</text>
<line x1="35.20" y1="189.65" x2="36.20" y2="189.65" stroke="#666" stroke-width="0.4"/>
<text x="35.00" y="190.45" font-size="2.9" text-anchor="end" fill="#444" class="t">10</text>
<line x1="85.55" y1="222.30" x2="85.55" y2="223.30" stroke="#666" stroke-width="0.4"/>
<text x="85.85" y="227.10" font-size="2.9" text-anchor="middle" fill="#444" class="t">10</text>
<line x1="35.20" y1="173.32" x2="36.20" y2="173.32" stroke="#666" stroke-width="0.4"/>
<text x="35.00" y="174.12" font-size="2.9" text-anchor="end" fill="#444" class="t">10</text>
<line x1="102.00" y1="222.30" x2="102.00" y2="223.30" stroke="#666" stroke-width="0.4"/>
<text x="102.30" y="227.10" font-size="2.9" text-anchor="middle" fill="#444" class="t">10</text>
<line x1="35.20" y1="157.00" x2="36.20" y2="157.00" stroke="#666" stroke-width="0.4"/>
<text x="35.00" y="157.80" font-size="2.9" text-anchor="end" fill="#444" class="t">10</text>
<clipPath id="c2"><rect x="133.2" y="156.7" width="64.80000000000001" height="65.10000000000002"/></clipPath>
<g clip-path="url(#c2)">
<g filter="url(#b2)" opacity="0.55">
<rect x="131.2" y="203" width="36" height="22" rx="8" fill="#666"/>
<ellipse cx="140" cy="183.5" rx="9" ry="7.5" fill="#777"/>
<path d="M131.2 188 L146 188 L166 206 L131.2 208Z" fill="#8a8a8a"/>
</g>
<g filter="url(#b1)">
<path d="M133.79999999999998 220.8 L133.79999999999998 213 C133.79999999999998 206.6 140 205.2 149 205.2 C159 205.2 165.2 207 165.2 214 L165.2 217 C165.2 220 163.6 220.8 161 220.8Z" fill="#a2a2a2" stroke="#2c2c2c" stroke-width="3.2"/>
<ellipse cx="143.8" cy="212.6" rx="2" ry="2.2" fill="#4a4a4a"/>
<ellipse cx="154.5" cy="217" rx="3.6" ry="2.6" fill="#666"/>
<ellipse cx="140.0" cy="182.8" rx="6.6" ry="4.9" transform="rotate(10 140 182.8)" fill="#b4b4b4" stroke="#3a3a3a" stroke-width="2.6"/>
</g>
<path d="M141.7 205.3h0.55M148.8 198.0h0.55M149.1 205.4h0.55M139.7 201.1h0.55M144.4 197.8h0.55M133.3 190.9h0.55M153.7 200.7h0.55M170.7 205.8h0.55M137.1 207.3h0.55M144.2 188.3h0.55M146.2 193.9h0.55M143.6 207.1h0.55M142.3 202.8h0.55M144.9 206.5h0.55M142.8 187.2h0.55M147.6 187.5h0.55M145.0 206.9h0.55M143.6 195.4h0.55M163.7 199.4h0.55M139.6 205.7h0.55M153.9 193.2h0.55M134.7 200.2h0.55M138.8 200.4h0.55M136.6 205.8h0.55M166.1 194.0h0.55M138.0 190.3h0.55M151.8 200.0h0.55M141.4 202.3h0.55M134.8 189.5h0.55M180.5 204.2h0.55M159.6 203.4h0.55M140.7 198.0h0.55M142.0 204.1h0.55M154.5 200.7h0.55M138.0 189.9h0.55M147.1 204.9h0.55M147.3 203.2h0.55M160.1 187.3h0.55M134.8 187.4h0.55M140.1 206.9h0.55M151.7 193.9h0.55M151.5 197.7h0.55M149.3 199.9h0.55M141.2 207.1h0.55M146.0 192.1h0.55M135.0 189.1h0.55M150.7 189.2h0.55M134.2 195.5h0.55M137.6 187.3h0.55M137.2 205.5h0.55M136.0 187.0h0.55M138.3 191.7h0.55M133.7 195.3h0.55M147.2 195.2h0.55M143.6 194.9h0.55M135.3 207.0h0.55M141.9 190.2h0.55M144.6 193.7h0.55M157.6 201.9h0.55M137.8 194.0h0.55M139.5 206.4h0.55M145.2 193.0h0.55M137.4 197.7h0.55M152.2 195.1h0.55M137.9 201.6h0.55M148.9 198.3h0.55M143.4 201.8h0.55M141.0 187.9h0.55M136.8 188.5h0.55M138.4 190.0h0.55M152.1 200.6h0.55M153.1 191.1h0.55M135.7 191.4h0.55M141.5 201.0h0.55M133.4 198.7h0.55M162.7 200.9h0.55M148.2 195.4h0.55M145.4 195.7h0.55M147.7 188.0h0.55M156.0 194.2h0.55M156.3 200.1h0.55M150.0 205.0h0.55M143.6 194.2h0.55M142.7 191.6h0.55M144.3 190.6h0.55M148.8 197.2h0.55M171.9 207.0h0.55M142.4 206.8h0.55M142.6 204.4h0.55M134.8 207.5h0.55M152.5 205.2h0.55M145.5 195.6h0.55M143.3 195.3h0.55M144.5 192.0h0.55M141.7 188.7h0.55M150.9 205.3h0.55M141.4 192.5h0.55M139.9 204.3h0.55M141.2 190.6h0.55M145.4 193.2h0.55M144.1 187.8h0.55M135.0 204.0h0.55M136.7 190.5h0.55M147.1 203.7h0.55M135.0 191.1h0.55M134.9 187.8h0.55M141.3 201.6h0.55M133.3 196.4h0.55M152.4 206.7h0.55M143.8 195.2h0.55M161.4 197.1h0.55M141.6 198.8h0.55M134.9 193.6h0.55M145.3 206.5h0.55M151.0 204.5h0.55M147.0 198.2h0.55M149.8 190.4h0.55M136.6 189.6h0.55M136.3 198.4h0.55M133.4 189.6h0.55M170.3 200.4h0.55M165.2 200.5h0.55M169.1 197.5h0.55M136.1 196.8h0.55M166.9 204.9h0.55M140.0 196.5h0.55M136.7 190.8h0.55M136.5 198.8h0.55M135.2 190.8h0.55M142.8 201.2h0.55M142.2 199.6h0.55M160.8 192.5h0.55M160.7 201.0h0.55M156.1 204.2h0.55M144.1 202.8h0.55M141.9 206.0h0.55M150.2 207.3h0.55M138.2 204.1h0.55M148.8 200.9h0.55M153.7 196.0h0.55M138.5 194.7h0.55M153.5 197.9h0.55M136.2 205.2h0.55M133.6 196.2h0.55M135.4 188.1h0.55M139.9 205.4h0.55M145.2 191.0h0.55M153.4 200.9h0.55M146.7 195.0h0.55M147.2 206.9h0.55M148.5 197.2h0.55M136.8 195.1h0.55M152.4 201.2h0.55M152.2 206.4h0.55M148.7 202.7h0.55M135.5 188.1h0.55M151.4 188.0h0.55M142.5 205.1h0.55M133.3 190.0h0.55M158.3 196.6h0.55M139.6 204.9h0.55M145.1 197.3h0.55M146.7 202.0h0.55M138.2 205.1h0.55M141.1 194.6h0.55M138.0 196.6h0.55M148.9 201.5h0.55M148.9 196.9h0.55M139.7 186.3h0.55M136.0 198.0h0.55M135.1 207.1h0.55M136.9 190.5h0.55M140.3 189.4h0.55M141.5 186.9h0.55M140.2 192.0h0.55M133.7 192.7h0.55M146.2 205.9h0.55M137.0 199.1h0.55M146.6 188.5h0.55M134.8 188.0h0.55M142.0 198.1h0.55M157.0 199.5h0.55M142.6 206.0h0.55M137.3 190.1h0.55M135.4 201.5h0.55M137.6 195.2h0.55M155.9 192.2h0.55M139.3 198.3h0.55M134.5 202.4h0.55M145.6 199.6h0.55M148.4 194.3h0.55M136.4 200.7h0.55M136.3 189.7h0.55M139.1 192.9h0.55M150.6 204.7h0.55M134.9 206.9h0.55M138.6 186.8h0.55M134.8 186.8h0.55M148.4 202.8h0.55M144.7 186.2h0.55M135.7 188.7h0.55M137.7 196.4h0.55M134.2 193.6h0.55M156.1 207.2h0.55M152.5 204.6h0.55M170.2 205.7h0.55M142.1 198.4h0.55M134.4 193.1h0.55M138.1 190.8h0.55M148.7 193.1h0.55M162.2 202.9h0.55M140.7 187.9h0.55M159.0 204.6h0.55M133.9 191.2h0.55M155.0 201.3h0.55M146.6 198.9h0.55M138.3 189.1h0.55M146.2 186.4h0.55M157.0 199.9h0.55M138.5 193.2h0.55M155.9 196.5h0.55M135.3 187.6h0.55M134.3 197.2h0.55M148.0 191.7h0.55M135.8 190.5h0.55M159.3 194.0h0.55M134.6 205.4h0.55M144.8 198.2h0.55M143.6 186.2h0.55M138.6 188.5h0.55M154.5 197.4h0.55M133.7 192.4h0.55M138.5 206.0h0.55M138.0 204.0h0.55M143.1 205.5h0.55M160.5 204.9h0.55M165.3 205.4h0.55M142.2 191.5h0.55M140.9 203.6h0.55M152.7 205.8h0.55M177.9 203.7h0.55M134.5 198.6h0.55M141.4 202.2h0.55M145.7 197.0h0.55M135.5 197.2h0.55M147.0 204.6h0.55M142.2 204.6h0.55M153.7 197.2h0.55M134.1 198.6h0.55M134.6 195.8h0.55M139.3 207.3h0.55M142.8 187.7h0.55M134.5 191.6h0.55M137.3 203.6h0.55M142.4 203.6h0.55M144.2 206.5h0.55M162.4 194.2h0.55M144.2 198.0h0.55M134.4 201.0h0.55M133.9 191.8h0.55M136.4 188.3h0.55M146.5 207.1h0.55M142.3 200.9h0.55M150.6 193.0h0.55M157.4 197.6h0.55M148.4 203.3h0.55M138.2 198.8h0.55M141.3 188.8h0.55M134.2 193.2h0.55M145.6 189.0h0.55M135.0 191.3h0.55M133.4 187.0h0.55M152.0 195.9h0.55M148.1 188.8h0.55M137.3 202.5h0.55M145.4 197.9h0.55M147.9 207.8h0.55M146.4 207.5h0.55M142.4 191.7h0.55M136.3 195.3h0.55M147.3 192.9h0.55M160.8 201.2h0.55M149.5 190.0h0.55M134.6 197.1h0.55M152.5 204.7h0.55M148.0 203.3h0.55M136.1 203.1h0.55M137.6 196.5h0.55M142.0 191.9h0.55M141.7 196.0h0.55M159.1 197.8h0.55M145.8 192.2h0.55M135.4 192.0h0.55M141.4 204.7h0.55M145.9 206.2h0.55M145.9 205.9h0.55M190.4 205.0h0.55M138.1 192.7h0.55M133.2 187.5h0.55M142.9 186.3h0.55M149.7 191.6h0.55M135.7 189.4h0.55M135.2 188.7h0.55M136.8 188.7h0.55M139.0 188.3h0.55M149.9 186.9h0.55M147.5 203.7h0.55M147.2 192.6h0.55M138.0 204.0h0.55M136.2 207.0h0.55M148.6 190.9h0.55M140.5 187.0h0.55M136.3 188.1h0.55M140.4 200.7h0.55M135.3 200.8h0.55M145.1 190.7h0.55M152.6 205.2h0.55M150.6 199.7h0.55M144.7 187.3h0.55M149.4 197.3h0.55M158.6 199.0h0.55M134.4 197.7h0.55M141.0 192.1h0.55M133.8 186.1h0.55M148.9 197.5h0.55M145.4 190.6h0.55M149.3 197.2h0.55M142.1 196.1h0.55M144.3 197.2h0.55M160.4 197.3h0.55M137.0 203.3h0.55M138.3 191.7h0.55M141.5 192.9h0.55M143.9 192.5h0.55M135.1 208.0h0.55M149.0 201.4h0.55M147.7 206.3h0.55M156.5 207.1h0.55M149.4 194.3h0.55M148.1 193.0h0.55M136.7 189.2h0.55M145.1 193.7h0.55M137.1 196.2h0.55M173.3 206.2h0.55M140.7 202.9h0.55M140.1 186.2h0.55M136.7 190.4h0.55M140.5 196.5h0.55M138.9 188.9h0.55M142.5 191.4h0.55M134.9 201.1h0.55M136.7 204.4h0.55M143.5 202.6h0.55M139.7 191.8h0.55M159.2 201.3h0.55M166.2 200.4h0.55M144.5 198.1h0.55M136.6 195.3h0.55M149.5 207.6h0.55M142.6 187.7h0.55M133.8 207.4h0.55M164.4 202.5h0.55M133.4 190.0h0.55M137.3 198.1h0.55M135.3 187.8h0.55M144.2 206.2h0.55M143.6 203.4h0.55M158.9 189.5h0.55M146.1 189.1h0.55M144.5 188.2h0.55M163.4 203.4h0.55M139.1 193.4h0.55M144.3 186.9h0.55M146.4 197.2h0.55M137.6 202.8h0.55M141.3 190.7h0.55M136.3 204.7h0.55M142.5 202.0h0.55M139.6 186.9h0.55M136.0 202.8h0.55M137.7 201.8h0.55M138.4 186.9h0.55M133.9 200.1h0.55M135.5 204.4h0.55M147.9 205.7h0.55M147.9 200.3h0.55M146.8 206.4h0.55M150.0 202.9h0.55M150.4 196.8h0.55M136.6 195.1h0.55M139.9 193.4h0.55M138.3 192.9h0.55M147.4 202.4h0.55M146.5 204.6h0.55M148.8 188.8h0.55M136.1 203.2h0.55M149.1 194.5h0.55M167.2 199.4h0.55M137.6 200.4h0.55M139.2 198.5h0.55M147.9 194.9h0.55M149.3 202.6h0.55M133.3 198.5h0.55M144.0 207.9h0.55M141.2 198.8h0.55M136.6 188.0h0.55M136.8 201.5h0.55M149.4 191.6h0.55M135.5 196.7h0.55M160.2 206.0h0.55M133.4 188.0h0.55M135.7 199.8h0.55M146.7 197.8h0.55M140.7 200.7h0.55M152.7 205.1h0.55M143.0 203.5h0.55M150.6 188.6h0.55M151.1 193.5h0.55M137.7 190.6h0.55M140.5 195.2h0.55M152.7 201.6h0.55M142.9 207.0h0.55M133.3 195.4h0.55M133.4 195.2h0.55M143.4 186.5h0.55M145.8 188.5h0.55M147.2 192.6h0.55M134.9 186.7h0.55M137.4 188.4h0.55M141.5 188.0h0.55M170.8 196.5h0.55M157.4 187.1h0.55M144.7 190.0h0.55M144.4 207.1h0.55M149.7 203.1h0.55M143.1 193.9h0.55M140.4 207.5h0.55M147.8 191.6h0.55M146.0 195.6h0.55M135.6 198.4h0.55M156.7 188.0h0.55M151.3 194.8h0.55M133.8 197.1h0.55M164.1 202.2h0.55M135.2 194.4h0.55M143.2 199.6h0.55M135.0 186.4h0.55M140.3 193.7h0.55M167.5 202.2h0.55M135.6 188.0h0.55M158.8 206.9h0.55M141.1 204.5h0.55M169.3 206.7h0.55M138.5 186.8h0.55M151.2 203.2h0.55M146.8 189.3h0.55M145.4 187.8h0.55M136.4 201.1h0.55M157.6 189.9h0.55M145.2 191.6h0.55M159.2 204.0h0.55M138.1 195.7h0.55M139.8 195.2h0.55M134.1 187.6h0.55M144.5 192.2h0.55M156.7 194.0h0.55M169.8 205.3h0.55M148.7 205.7h0.55M145.0 201.6h0.55M136.7 198.4h0.55M134.8 192.9h0.55M137.3 200.0h0.55M146.5 193.5h0.55M145.2 207.6h0.55M164.6 207.9h0.55M171.6 207.0h0.55M142.0 197.6h0.55M137.7 203.4h0.55M135.6 196.7h0.55M168.2 199.7h0.55M141.5 201.3h0.55M135.4 196.1h0.55M143.6 187.4h0.55M165.3 194.4h0.55M136.3 189.0h0.55M135.3 199.4h0.55M136.3 191.0h0.55M160.0 206.4h0.55M135.6 186.3h0.55M151.1 196.7h0.55M145.4 195.3h0.55M134.1 197.5h0.55M144.2 193.4h0.55M133.8 204.6h0.55M138.9 203.8h0.55M148.9 197.0h0.55M142.8 204.6h0.55M137.1 186.3h0.55M166.5 196.8h0.55M147.1 206.5h0.55M139.3 194.9h0.55M133.4 202.6h0.55M147.6 197.4h0.55M148.4 186.9h0.55M168.1 190.2h0.55M137.9 189.1h0.55M135.8 191.9h0.55M150.0 206.4h0.55M133.7 186.4h0.55M148.9 204.7h0.55M142.1 188.2h0.55M169.9 207.4h0.55M152.6 203.7h0.55M137.0 190.8h0.55M133.9 188.7h0.55M157.6 198.7h0.55M134.0 188.9h0.55M140.1 206.4h0.55M176.2 202.6h0.55M141.9 207.5h0.55M133.4 190.5h0.55M143.4 199.8h0.55M159.2 199.1h0.55M136.1 197.7h0.55M147.3 192.9h0.55M151.5 187.1h0.55M147.9 196.7h0.55M150.1 195.5h0.55M155.4 204.5h0.55M166.4 198.8h0.55M160.3 199.1h0.55M136.7 193.4h0.55M136.2 188.3h0.55M136.5 206.3h0.55M158.0 206.5h0.55M165.0 199.4h0.55M143.1 202.4h0.55M136.8 187.7h0.55M141.6 202.3h0.55M135.5 198.3h0.55M135.0 191.8h0.55M164.7 199.6h0.55M140.7 202.5h0.55M146.4 195.9h0.55M147.6 195.5h0.55M158.6 205.5h0.55M135.1 192.6h0.55M138.7 186.2h0.55M135.6 201.1h0.55M150.9 207.9h0.55M145.4 201.8h0.55M161.0 204.6h0.55M142.0 189.1h0.55M139.6 192.0h0.55M148.3 194.3h0.55M135.7 192.5h0.55M142.6 187.3h0.55M152.3 201.3h0.55M134.7 194.7h0.55M134.6 188.8h0.55M142.6 186.4h0.55M137.6 191.0h0.55M137.1 197.6h0.55M133.3 207.2h0.55M158.0 205.5h0.55M141.9 197.2h0.55M144.4 197.8h0.55M156.6 206.7h0.55M140.2 201.0h0.55M137.7 204.1h0.55M151.7 193.0h0.55M149.8 207.3h0.55M149.4 202.6h0.55M146.7 203.2h0.55M144.1 187.3h0.55M138.5 201.8h0.55M148.8 193.5h0.55M145.9 194.4h0.55M146.0 201.0h0.55M141.1 197.6h0.55M139.0 196.6h0.55M140.9 192.3h0.55M137.5 194.6h0.55M142.6 207.5h0.55M135.0 197.1h0.55M141.7 186.6h0.55M138.2 194.5h0.55M137.0 207.6h0.55M136.7 198.9h0.55M133.9 191.4h0.55M137.6 193.4h0.55M140.1 196.7h0.55M149.0 192.0h0.55M141.8 197.4h0.55M138.3 202.5h0.55M137.8 200.4h0.55M135.1 196.6h0.55M162.0 193.7h0.55M136.5 204.7h0.55M144.8 186.1h0.55M151.9 204.1h0.55M138.3 196.9h0.55M135.6 194.2h0.55M156.9 199.8h0.55M135.8 187.2h0.55M159.4 192.2h0.55M143.0 192.5h0.55M142.1 206.8h0.55M143.0 207.6h0.55M138.4 189.8h0.55M137.4 195.8h0.55M160.6 205.5h0.55M137.5 187.6h0.55M134.1 192.8h0.55M141.5 188.9h0.55M139.8 202.0h0.55M153.6 207.3h0.55M135.5 200.2h0.55M148.5 188.9h0.55M158.0 205.5h0.55M143.7 189.1h0.55M163.8 201.3h0.55M155.0 202.8h0.55M137.9 186.5h0.55M137.3 202.2h0.55M140.0 186.1h0.55M156.7 202.1h0.55M133.4 194.1h0.55M145.2 193.2h0.55M163.4 194.0h0.55M144.5 190.9h0.55M133.5 195.7h0.55M138.5 192.8h0.55M171.6 196.3h0.55M148.8 204.8h0.55M144.1 203.6h0.55M134.2 207.4h0.55M161.3 204.2h0.55M155.7 206.2h0.55M137.7 194.5h0.55M140.7 186.2h0.55M134.5 186.0h0.55M149.6 207.8h0.55M151.0 186.3h0.55M137.1 193.9h0.55M156.8 200.8h0.55M155.2 196.7h0.55M150.8 202.7h0.55M156.2 196.5h0.55M142.8 196.9h0.55M155.5 196.5h0.55M135.9 202.2h0.55M135.1 193.4h0.55M148.7 200.8h0.55M157.2 194.3h0.55M157.7 203.1h0.55M141.2 194.4h0.55M146.3 199.3h0.55M151.7 186.7h0.55M138.9 187.4h0.55M191.9 205.6h0.55M158.7 201.9h0.55M133.5 201.8h0.55M143.1 188.6h0.55M154.2 204.8h0.55M145.0 190.8h0.55M146.5 197.0h0.55M134.4 196.8h0.55M152.1 196.1h0.55M136.6 207.5h0.55M147.6 206.0h0.55M152.6 194.4h0.55M156.3 199.1h0.55M140.6 192.6h0.55M152.5 200.9h0.55M151.0 196.9h0.55M146.0 200.2h0.55M133.3 186.1h0.55M160.0 205.7h0.55M137.2 204.3h0.55M175.0 205.6h0.55M157.9 194.6h0.55M141.0 202.0h0.55M144.0 195.2h0.55M140.2 194.1h0.55M149.0 204.7h0.55M148.6 187.3h0.55M135.0 198.3h0.55M141.4 200.1h0.55M163.3 205.2h0.55M142.1 194.4h0.55M133.2 191.5h0.55M145.7 204.7h0.55M146.6 200.1h0.55M142.8 190.1h0.55M133.5 198.7h0.55M142.0 190.1h0.55M135.8 191.8h0.55M151.1 202.3h0.55M154.8 202.5h0.55M156.9 194.3h0.55M138.8 198.1h0.55M140.7 198.8h0.55M155.2 206.0h0.55M144.2 186.2h0.55M136.7 195.0h0.55M153.4 206.0h0.55M139.9 186.2h0.55M150.5 199.7h0.55M145.6 204.3h0.55M137.8 188.9h0.55M141.1 191.5h0.55M138.4 186.8h0.55M140.3 197.6h0.55M140.7 206.7h0.55M142.3 194.2h0.55M147.4 200.1h0.55M144.8 189.3h0.55M145.2 187.0h0.55M140.6 188.9h0.55M134.7 187.1h0.55M139.4 206.4h0.55M142.2 201.2h0.55M140.7 187.2h0.55M144.3 187.9h0.55M164.4 206.0h0.55M147.9 202.6h0.55M147.5 197.2h0.55M149.2 200.4h0.55M133.6 204.4h0.55M147.8 192.6h0.55M149.7 207.2h0.55M144.5 193.6h0.55M137.6 190.6h0.55M135.2 193.8h0.55M141.8 196.5h0.55M150.6 192.2h0.55M140.8 188.5h0.55M140.9 196.7h0.55M154.8 200.9h0.55M134.3 190.9h0.55M143.3 193.2h0.55M156.6 205.6h0.55M149.3 194.7h0.55M137.7 196.1h0.55M153.9 206.9h0.55M137.9 188.0h0.55M140.6 204.6h0.55M137.0 192.6h0.55M133.6 201.2h0.55M140.3 197.3h0.55M159.0 202.4h0.55M133.3 191.8h0.55M144.8 187.1h0.55M137.3 206.6h0.55M147.4 193.9h0.55M147.7 187.7h0.55M138.6 188.6h0.55M137.3 188.2h0.55M151.4 203.4h0.55M159.4 195.1h0.55M135.9 193.1h0.55M146.8 197.8h0.55M143.4 204.0h0.55M138.5 201.5h0.55M143.0 197.1h0.55M135.5 198.0h0.55M134.8 203.9h0.55M147.5 195.9h0.55M157.5 198.2h0.55M134.7 202.3h0.55M159.8 206.1h0.55M135.8 187.2h0.55M141.3 200.0h0.55M138.9 190.8h0.55M134.2 189.8h0.55M148.8 197.9h0.55M135.7 186.3h0.55M133.3 197.6h0.55M137.0 187.2h0.55M138.0 189.3h0.55M138.0 196.2h0.55M135.1 189.6h0.55M157.4 193.1h0.55M136.8 187.6h0.55M134.6 200.3h0.55M169.1 202.6h0.55M135.4 189.2h0.55M162.9 201.9h0.55M154.7 204.7h0.55M158.9 195.6h0.55M135.0 194.4h0.55M140.5 191.6h0.55M134.5 189.1h0.55M139.7 206.4h0.55M150.4 207.4h0.55M140.3 201.2h0.55M135.6 194.0h0.55M144.6 192.4h0.55M139.8 207.4h0.55M156.3 191.9h0.55M138.8 187.7h0.55M145.0 203.3h0.55M141.5 204.4h0.55M150.0 195.4h0.55M135.8 206.8h0.55M154.2 206.5h0.55M151.3 202.0h0.55M157.3 200.4h0.55M137.0 202.8h0.55M136.4 190.3h0.55M136.3 198.0h0.55M138.7 188.3h0.55M150.2 207.9h0.55M142.9 202.1h0.55M136.8 195.4h0.55M154.1 199.4h0.55M152.4 193.1h0.55M139.7 186.5h0.55M154.0 200.2h0.55M142.6 203.7h0.55M156.5 204.1h0.55M146.5 188.8h0.55M137.7 188.1h0.55M138.6 189.7h0.55M146.0 206.6h0.55M146.6 192.1h0.55M135.2 206.7h0.55M147.8 192.7h0.55M148.2 198.5h0.55M157.3 206.8h0.55M149.4 198.0h0.55M135.5 187.0h0.55M146.6 188.6h0.55M142.1 200.2h0.55M147.8 204.1h0.55M133.5 204.5h0.55M149.0 197.8h0.55M157.6 207.7h0.55M138.7 187.7h0.55M142.3 205.8h0.55M135.5 200.5h0.55M133.5 190.3h0.55M148.4 189.6h0.55M161.0 206.0h0.55M133.5 207.6h0.55M165.7 203.6h0.55M139.3 206.6h0.55M146.9 201.3h0.55M141.2 201.5h0.55M140.1 194.0h0.55M142.5 189.1h0.55M151.2 196.4h0.55M143.1 190.7h0.55M154.5 206.6h0.55M147.1 200.2h0.55M142.4 190.4h0.55M147.2 199.5h0.55M152.5 190.1h0.55M137.5 199.6h0.55M144.6 191.4h0.55M148.5 187.2h0.55M147.8 196.5h0.55M133.9 186.1h0.55M138.8 188.3h0.55M143.8 192.4h0.55M138.4 195.9h0.55M135.6 204.2h0.55M138.1 202.7h0.55M140.6 187.7h0.55M152.8 193.0h0.55M136.3 197.1h0.55M156.8 204.7h0.55M133.3 187.0h0.55M135.6 189.0h0.55M142.0 205.8h0.55M160.1 187.2h0.55M147.8 194.9h0.55M139.3 198.2h0.55M136.6 193.4h0.55M134.9 194.1h0.55M161.8 201.3h0.55M155.2 190.0h0.55M138.6 189.8h0.55M163.1 193.7h0.55M151.3 186.6h0.55M152.7 201.2h0.55M138.6 204.5h0.55M139.7 188.1h0.55M141.9 202.6h0.55M141.5 201.7h0.55M138.2 202.8h0.55M158.3 201.4h0.55M145.8 206.9h0.55M140.6 191.4h0.55M152.1 191.8h0.55M151.6 205.9h0.55M167.8 198.8h0.55M159.0 207.4h0.55M147.7 194.2h0.55M154.1 196.1h0.55M145.5 195.2h0.55M138.0 205.8h0.55M144.8 189.2h0.55M134.0 189.8h0.55M137.7 198.5h0.55M155.2 199.6h0.55M149.1 198.0h0.55M145.7 201.0h0.55M137.0 186.5h0.55M136.3 189.5h0.55M139.8 199.1h0.55M145.1 194.3h0.55M165.5 204.3h0.55M152.6 207.2h0.55M137.5 207.7h0.55M135.9 202.8h0.55M145.8 197.5h0.55M164.4 204.6h0.55M153.0 200.7h0.55M145.6 199.0h0.55M140.2 194.9h0.55M157.9 201.7h0.55M143.6 205.3h0.55M154.6 187.9h0.55M136.1 190.3h0.55M143.7 203.9h0.55M136.5 186.3h0.55M136.8 195.4h0.55M134.8 186.3h0.55M147.2 192.3h0.55M145.8 191.6h0.55M150.7 194.9h0.55M142.2 192.3h0.55M142.2 193.8h0.55M133.4 195.4h0.55M139.0 202.5h0.55M133.3 193.7h0.55M134.9 198.5h0.55M147.7 198.3h0.55M143.6 194.0h0.55M149.6 187.4h0.55M153.1 205.9h0.55M143.6 198.0h0.55M152.1 195.0h0.55M150.7 193.0h0.55M138.8 187.3h0.55M163.0 199.2h0.55M144.8 202.6h0.55M142.5 201.2h0.55M140.7 198.5h0.55M136.9 193.6h0.55M148.5 201.2h0.55M144.1 203.3h0.55M138.5 188.4h0.55M144.5 201.3h0.55M136.7 192.5h0.55M145.4 201.9h0.55M147.9 201.7h0.55M137.9 187.4h0.55M134.3 203.8h0.55M155.3 196.8h0.55M142.6 195.8h0.55M135.5 202.5h0.55M151.3 196.1h0.55M150.9 197.7h0.55M153.3 207.6h0.55M133.4 197.7h0.55M136.6 187.2h0.55M139.4 198.8h0.55M142.5 192.0h0.55M141.9 192.4h0.55M140.2 189.8h0.55M144.1 187.8h0.55M144.2 207.4h0.55M138.2 192.2h0.55M160.0 194.0h0.55M134.4 188.2h0.55M141.4 198.6h0.55M139.9 193.8h0.55M150.8 195.8h0.55M148.8 196.6h0.55M143.4 187.5h0.55M152.2 195.6h0.55M135.6 194.6h0.55M136.7 200.3h0.55M146.1 201.1h0.55M145.6 204.8h0.55M143.3 191.8h0.55M135.7 198.2h0.55M149.3 194.6h0.55M164.1 201.2h0.55M144.6 208.0h0.55M145.2 194.0h0.55M151.9 205.1h0.55M144.5 189.9h0.55M137.2 197.9h0.55M160.5 194.1h0.55M149.5 207.0h0.55M138.7 198.1h0.55M145.7 206.5h0.55M159.2 198.5h0.55M151.8 199.6h0.55M156.1 200.1h0.55M142.1 200.3h0.55M156.2 197.6h0.55M153.6 193.0h0.55M134.6 200.9h0.55M139.1 204.5h0.55M151.4 207.0h0.55M142.8 205.9h0.55M146.4 197.0h0.55M145.6 187.0h0.55M151.6 199.1h0.55M134.1 196.3h0.55M135.7 194.8h0.55M141.2 191.5h0.55M142.2 199.4h0.55M141.1 205.7h0.55M135.3 186.3h0.55M152.4 204.4h0.55M135.0 186.7h0.55M152.9 188.3h0.55M133.3 187.0h0.55M148.5 193.1h0.55M135.5 190.9h0.55M162.5 200.2h0.55M153.5 188.1h0.55M140.8 192.5h0.55M138.5 190.7h0.55M135.6 186.7h0.55M146.0 202.4h0.55M134.3 203.9h0.55M136.5 198.9h0.55M150.0 204.7h0.55M146.4 195.4h0.55M149.5 204.1h0.55M135.9 196.9h0.55M141.1 196.4h0.55M158.2 204.4h0.55M149.4 200.4h0.55M134.3 202.9h0.55M147.7 188.9h0.55M133.9 197.8h0.55M151.8 193.3h0.55M134.9 189.7h0.55M157.4 199.2h0.55M135.5 188.5h0.55M133.7 207.4h0.55M154.0 190.1h0.55M151.9 201.8h0.55M150.9 201.4h0.55M146.4 195.0h0.55M137.9 196.3h0.55M153.8 201.7h0.55M154.0 193.3h0.55M139.1 205.5h0.55M139.4 199.0h0.55M140.0 191.3h0.55M137.3 201.9h0.55M136.7 202.2h0.55M137.4 187.0h0.55M154.0 198.8h0.55M144.6 198.0h0.55M144.9 206.5h0.55M157.1 204.2h0.55M134.5 197.2h0.55M138.9 201.5h0.55M146.1 200.6h0.55M145.2 196.0h0.55M140.7 206.2h0.55M140.7 206.9h0.55M173.0 202.8h0.55M156.7 195.6h0.55M144.7 189.4h0.55M133.9 194.5h0.55M133.2 203.3h0.55M161.2 190.7h0.55M137.2 192.2h0.55M143.9 201.9h0.55M143.9 192.0h0.55M139.9 191.4h0.55M171.3 204.1h0.55M141.4 189.5h0.55M145.9 186.6h0.55M142.0 198.0h0.55M162.8 207.1h0.55M134.5 191.7h0.55M145.0 194.8h0.55M140.0 202.5h0.55M139.0 193.0h0.55M154.7 205.7h0.55M146.2 200.2h0.55M140.5 191.0h0.55M150.0 203.9h0.55M143.1 205.3h0.55M164.0 192.5h0.55M143.6 192.7h0.55M141.0 197.9h0.55M144.5 199.8h0.55M141.4 195.3h0.55M151.9 202.0h0.55M138.0 198.6h0.55M142.4 189.3h0.55M134.2 194.0h0.55M135.8 202.9h0.55M155.4 197.5h0.55M134.9 187.5h0.55M133.8 188.8h0.55M138.4 205.1h0.55M160.6 197.2h0.55M138.5 195.0h0.55M152.3 193.6h0.55M142.6 196.2h0.55M160.9 201.8h0.55M134.5 197.3h0.55M155.6 202.3h0.55M133.9 195.2h0.55M158.1 206.6h0.55M134.7 198.3h0.55M152.7 188.3h0.55M143.3 191.3h0.55M134.0 203.0h0.55M151.2 192.2h0.55M133.8 199.1h0.55M137.8 204.5h0.55M133.6 197.5h0.55M145.8 198.2h0.55M136.0 202.3h0.55M136.9 191.1h0.55M155.0 200.0h0.55M149.5 202.0h0.55M139.1 194.1h0.55M137.8 199.4h0.55M135.2 200.2h0.55M147.5 189.1h0.55M175.8 207.4h0.55M144.0 200.7h0.55M134.8 190.7h0.55M150.5 194.3h0.55M134.8 201.2h0.55M149.2 190.8h0.55M150.9 207.2h0.55M144.2 206.4h0.55M140.5 207.9h0.55M139.1 191.4h0.55M139.5 196.8h0.55M143.0 202.1h0.55M139.6 186.4h0.55M144.2 201.6h0.55M140.8 191.7h0.55M134.0 186.3h0.55M143.5 205.0h0.55M145.2 206.6h0.55M139.8 194.1h0.55M135.0 195.1h0.55M148.7 205.3h0.55M164.6 206.1h0.55M138.6 191.1h0.55M135.9 200.3h0.55M148.9 198.0h0.55M145.5 190.8h0.55M140.5 199.4h0.55M137.9 203.1h0.55M138.6 190.1h0.55M154.6 195.6h0.55M135.3 196.0h0.55M141.8 201.3h0.55M144.2 194.2h0.55M137.3 191.9h0.55M134.0 189.6h0.55M143.7 189.4h0.55M140.8 205.2h0.55M139.1 189.5h0.55M133.8 198.3h0.55M137.9 206.3h0.55M141.6 201.5h0.55M145.3 195.6h0.55M134.6 188.1h0.55M156.3 192.3h0.55M154.5 205.8h0.55M152.1 189.1h0.55M138.9 195.3h0.55M141.4 191.4h0.55M143.4 186.5h0.55M136.0 190.7h0.55M137.8 191.7h0.55M141.2 203.3h0.55M141.8 205.2h0.55M137.0 198.6h0.55M147.6 192.5h0.55M147.4 198.3h0.55M133.5 192.0h0.55M163.8 206.2h0.55M140.6 193.7h0.55M138.1 196.2h0.55M140.2 198.8h0.55M151.9 197.9h0.55M139.7 187.0h0.55M140.1 189.3h0.55M150.3 198.0h0.55M147.7 205.5h0.55M134.2 199.4h0.55M142.3 205.2h0.55M163.5 206.5h0.55M148.1 198.1h0.55M141.3 195.6h0.55M149.3 201.7h0.55M149.9 203.5h0.55M147.7 206.8h0.55M146.3 194.2h0.55M135.0 197.9h0.55M133.6 203.0h0.55M137.0 201.9h0.55M141.2 190.2h0.55M143.2 189.0h0.55M134.6 197.5h0.55M147.0 207.0h0.55M140.1 187.2h0.55M150.7 200.9h0.55M142.3 199.2h0.55M135.9 187.0h0.55M141.9 197.8h0.55M143.5 194.7h0.55M139.5 205.4h0.55M155.5 198.5h0.55M140.7 192.3h0.55M137.9 192.6h0.55M138.0 190.2h0.55M151.4 194.0h0.55M140.3 188.6h0.55M140.7 198.1h0.55M138.1 200.4h0.55M133.2 204.0h0.55M144.4 205.1h0.55M138.1 195.4h0.55M149.6 204.3h0.55M154.4 188.0h0.55M157.3 205.9h0.55M142.6 207.4h0.55M146.5 201.9h0.55M142.6 207.0h0.55M138.2 205.9h0.55M165.6 206.2h0.55M147.3 190.7h0.55M149.3 198.6h0.55M152.2 206.2h0.55M137.6 189.7h0.55M139.4 192.0h0.55M143.6 205.7h0.55M146.8 203.7h0.55M136.1 186.0h0.55M144.4 188.6h0.55M176.9 207.2h0.55M144.5 192.2h0.55M138.4 194.1h0.55M145.3 206.0h0.55M148.8 192.3h0.55M136.2 188.4h0.55M140.6 190.2h0.55M137.3 198.6h0.55M145.1 205.3h0.55M134.9 194.1h0.55M133.2 198.1h0.55M135.0 186.7h0.55M134.3 196.3h0.55M143.7 199.6h0.55M136.3 204.4h0.55M151.1 207.4h0.55M175.4 207.4h0.55M145.6 194.1h0.55M138.1 203.3h0.55M134.8 189.7h0.55M149.0 198.0h0.55M134.1 207.8h0.55M134.2 194.5h0.55M151.7 205.3h0.55M143.6 199.2h0.55M144.8 204.5h0.55M156.8 207.0h0.55M149.7 207.4h0.55M138.9 200.3h0.55M143.9 202.1h0.55M150.4 194.5h0.55M140.4 201.8h0.55M138.6 188.2h0.55M139.0 198.2h0.55M141.5 192.5h0.55M162.5 194.2h0.55M152.7 197.6h0.55M148.2 198.1h0.55M146.4 203.9h0.55M146.5 197.5h0.55M133.9 190.1h0.55M140.5 190.7h0.55M136.9 186.9h0.55M139.0 195.1h0.55M136.9 202.6h0.55M143.4 195.9h0.55M146.3 203.5h0.55M148.0 201.0h0.55M142.9 191.8h0.55M141.5 202.4h0.55M137.6 186.7h0.55M144.3 207.7h0.55M143.2 206.5h0.55M141.0 187.1h0.55M142.4 201.0h0.55M148.3 203.2h0.55M134.5 187.9h0.55M141.6 190.7h0.55M133.6 199.6h0.55M145.3 205.7h0.55M141.9 205.6h0.55M137.9 198.9h0.55M135.2 187.2h0.55M135.9 190.8h0.55M136.4 197.1h0.55M147.9 204.0h0.55M133.4 195.1h0.55M135.3 199.4h0.55M153.1 195.6h0.55M142.6 193.4h0.55M148.4 206.4h0.55M151.5 197.6h0.55M143.7 196.6h0.55M143.0 196.8h0.55M156.5 208.0h0.55M164.9 192.7h0.55M134.9 203.9h0.55M136.3 198.2h0.55M140.9 195.2h0.55M142.4 195.4h0.55M137.6 196.6h0.55M150.8 198.6h0.55M147.8 201.6h0.55M133.2 190.3h0.55M137.0 196.4h0.55M151.5 200.9h0.55M144.0 199.3h0.55M142.8 187.0h0.55M140.8 206.3h0.55M145.3 201.5h0.55M135.7 188.9h0.55M134.6 200.2h0.55M142.2 187.9h0.55M138.4 192.1h0.55M154.5 194.8h0.55M136.3 205.5h0.55M134.7 190.5h0.55M135.4 205.6h0.55M137.9 192.3h0.55M136.1 194.7h0.55M133.7 206.3h0.55M133.5 197.7h0.55M137.0 198.6h0.55M140.7 206.5h0.55M169.2 205.2h0.55M146.2 200.6h0.55M137.8 198.8h0.55M134.2 195.2h0.55M140.0 205.0h0.55M138.7 200.7h0.55M153.1 205.2h0.55M138.1 189.2h0.55M143.2 205.9h0.55M149.7 203.6h0.55M137.7 197.2h0.55M150.7 193.1h0.55M172.5 207.3h0.55M152.7 207.9h0.55M143.3 200.5h0.55M171.8 206.0h0.55M149.8 203.5h0.55M144.3 192.2h0.55M145.0 189.6h0.55M135.0 191.6h0.55M141.7 206.0h0.55M143.4 207.9h0.55M151.4 202.4h0.55M151.6 201.1h0.55M137.4 188.8h0.55M138.9 191.3h0.55M145.7 200.5h0.55M134.9 191.3h0.55M168.7 203.2h0.55M135.5 206.5h0.55M142.2 196.7h0.55M137.7 204.3h0.55M142.5 196.6h0.55M144.5 199.0h0.55M134.1 202.3h0.55M153.0 200.7h0.55M139.3 197.6h0.55M150.4 193.6h0.55M147.8 203.0h0.55M136.2 195.6h0.55M163.7 201.2h0.55M138.2 203.8h0.55M134.4 206.7h0.55M137.0 195.9h0.55M148.0 188.2h0.55M153.9 198.9h0.55M143.6 193.5h0.55M136.5 194.3h0.55M161.6 200.1h0.55M133.6 192.6h0.55M144.5 203.6h0.55M135.3 199.3h0.55M160.6 207.7h0.55M154.6 201.3h0.55M137.7 198.5h0.55M140.3 192.3h0.55M163.3 204.0h0.55M142.3 207.2h0.55M147.2 194.7h0.55M156.7 201.5h0.55M166.1 202.4h0.55M133.9 194.4h0.55M138.4 203.2h0.55M136.6 195.4h0.55M136.0 196.9h0.55M138.5 205.8h0.55M161.1 202.7h0.55M143.2 200.5h0.55M140.1 200.8h0.55M150.9 198.9h0.55M136.3 193.8h0.55M145.5 205.9h0.55M143.4 200.3h0.55M140.9 189.4h0.55M159.4 196.2h0.55M137.6 203.6h0.55M145.2 191.2h0.55M147.7 203.6h0.55M140.5 194.5h0.55M137.2 190.6h0.55M150.7 192.9h0.55M140.9 188.3h0.55M147.6 207.7h0.55M161.0 194.5h0.55M158.7 201.9h0.55M141.0 196.1h0.55M137.4 189.4h0.55M137.3 196.4h0.55M138.2 196.5h0.55M140.6 189.8h0.55M142.0 200.6h0.55M147.4 203.2h0.55M138.2 187.7h0.55M147.0 190.7h0.55M145.3 189.0h0.55M149.4 207.5h0.55M140.3 197.9h0.55M140.6 200.8h0.55M147.2 201.9h0.55M149.7 196.7h0.55M137.9 188.6h0.55M135.5 196.4h0.55M141.5 197.5h0.55M152.3 201.5h0.55M136.3 200.7h0.55M142.2 195.3h0.55M133.8 186.2h0.55M138.1 198.5h0.55M145.1 194.8h0.55M134.1 193.5h0.55M165.8 205.0h0.55M144.8 192.1h0.55M137.4 188.9h0.55M183.8 202.1h0.55M144.7 206.0h0.55M133.9 205.9h0.55M141.8 203.8h0.55M135.4 188.4h0.55M142.7 201.5h0.55M148.0 187.2h0.55M148.2 197.3h0.55M156.4 195.9h0.55M136.5 191.0h0.55M147.1 201.5h0.55M141.9 192.9h0.55M136.0 191.0h0.55M141.0 190.2h0.55M150.5 205.2h0.55M148.9 203.8h0.55M155.4 200.9h0.55M172.9 206.5h0.55M149.6 204.5h0.55M159.3 200.1h0.55M142.5 186.7h0.55M148.9 198.0h0.55M142.6 206.9h0.55M169.8 207.6h0.55M133.9 193.5h0.55M133.9 203.6h0.55M143.0 187.9h0.55M133.2 187.6h0.55M135.8 200.0h0.55M140.8 191.4h0.55" stroke="#222" stroke-width="0.55" opacity="0.7" fill="none"/>
<path d="M141.3 177.7h0.55M137.8 188.6h0.55M147.2 181.3h0.55M131.8 185.3h0.55M146.6 179.1h0.55M137.5 179.3h0.55M149.4 184.4h0.55M134.9 178.5h0.55M147.4 189.8h0.55M143.7 189.2h0.55M148.1 185.3h0.55M138.6 189.1h0.55M134.6 180.8h0.55M134.2 182.7h0.55M137.1 187.7h0.55M135.4 179.4h0.55M149.0 183.2h0.55M133.9 181.4h0.55M142.7 187.6h0.55M135.3 178.4h0.55M142.3 175.3h0.55M137.2 183.9h0.55M134.1 181.6h0.55M131.7 182.9h0.55M150.7 181.8h0.55M136.6 189.1h0.55M134.5 180.0h0.55M129.9 183.4h0.55M137.7 188.5h0.55M146.6 186.6h0.55M148.0 179.3h0.55M136.3 177.5h0.55M148.8 184.7h0.55M147.2 181.9h0.55M135.5 184.9h0.55M145.6 185.7h0.55M132.9 183.0h0.55M140.0 180.0h0.55M136.7 177.0h0.55M131.5 182.8h0.55M147.7 184.7h0.55M134.3 181.2h0.55M139.3 190.8h0.55M132.1 177.1h0.55M139.8 178.9h0.55M144.6 179.9h0.55M146.4 185.2h0.55M133.5 179.5h0.55M133.5 187.3h0.55M139.6 188.5h0.55M146.6 180.5h0.55M136.5 186.3h0.55M139.5 176.1h0.55M141.8 190.8h0.55M144.3 175.1h0.55M146.4 177.7h0.55M150.0 184.3h0.55M145.0 175.5h0.55M138.2 189.4h0.55M140.5 187.2h0.55M137.9 178.5h0.55M145.2 178.2h0.55M138.9 177.5h0.55M136.5 176.5h0.55M135.3 187.3h0.55M149.7 180.9h0.55M146.6 186.4h0.55M150.0 182.5h0.55M150.6 182.8h0.55M145.3 187.7h0.55M142.8 189.9h0.55M149.6 182.9h0.55M145.1 182.4h0.55M136.5 175.7h0.55M148.2 186.2h0.55M147.0 182.5h0.55M146.7 188.5h0.55M134.3 182.7h0.55M142.2 186.3h0.55M133.1 181.1h0.55M143.9 182.9h0.55M144.8 187.0h0.55M140.0 179.8h0.55M137.7 186.7h0.55M132.6 184.6h0.55M136.1 186.6h0.55M143.9 179.3h0.55M146.1 183.6h0.55M140.9 178.3h0.55M134.2 187.4h0.55M146.4 188.7h0.55M145.0 182.4h0.55M136.5 177.3h0.55M149.6 183.0h0.55M147.3 183.2h0.55M144.4 188.9h0.55M139.3 188.5h0.55M145.1 179.2h0.55M133.2 185.8h0.55M132.2 182.2h0.55M136.5 187.3h0.55M135.8 187.8h0.55M131.0 182.9h0.55M145.0 177.6h0.55M132.5 179.3h0.55M148.6 186.8h0.55M146.6 189.1h0.55M143.8 188.5h0.55M138.5 191.1h0.55M146.7 189.5h0.55M136.6 177.6h0.55M135.6 181.1h0.55M136.1 189.0h0.55M144.7 185.0h0.55M137.9 176.6h0.55M144.1 189.7h0.55M134.6 183.6h0.55M138.1 186.6h0.55M143.7 184.1h0.55M132.1 181.0h0.55M134.7 179.1h0.55M145.0 182.0h0.55M147.4 181.6h0.55M143.0 185.7h0.55M139.8 188.5h0.55M143.7 180.2h0.55M141.4 177.9h0.55M135.7 177.7h0.55M145.0 186.2h0.55M134.3 186.6h0.55M137.1 179.5h0.55M145.6 184.8h0.55M145.4 180.2h0.55M137.7 181.4h0.55M134.4 177.1h0.55M136.8 180.0h0.55M150.5 185.2h0.55M144.9 178.2h0.55M134.4 187.2h0.55M145.5 177.1h0.55M140.7 176.7h0.55M142.6 189.5h0.55M140.2 177.4h0.55M130.7 187.9h0.55M142.7 188.0h0.55M146.2 178.9h0.55M146.3 183.9h0.55M148.6 184.8h0.55M142.4 191.7h0.55M134.0 185.9h0.55M147.8 177.3h0.55M139.6 179.0h0.55M136.3 181.8h0.55M134.5 179.8h0.55M149.5 182.0h0.55M140.8 174.6h0.55M132.6 185.5h0.55M135.6 186.2h0.55M132.5 180.0h0.55M144.6 178.6h0.55M135.5 177.5h0.55M136.9 178.7h0.55M147.8 178.4h0.55M143.4 179.6h0.55M136.2 179.5h0.55M133.3 182.6h0.55M148.3 182.3h0.55M138.0 188.5h0.55M140.9 189.5h0.55M141.0 178.2h0.55M142.0 186.7h0.55M148.7 189.6h0.55M134.3 180.5h0.55M150.1 186.6h0.55M137.2 178.2h0.55M134.6 191.5h0.55M134.6 175.2h0.55M134.9 178.4h0.55M146.8 180.2h0.55M140.1 177.9h0.55M134.0 187.8h0.55M134.6 175.7h0.55M134.6 189.4h0.55M148.5 185.7h0.55M141.0 189.8h0.55M140.3 177.1h0.55M139.4 190.1h0.55M142.6 177.8h0.55M139.9 178.6h0.55M143.9 186.5h0.55M144.9 176.7h0.55M142.9 187.8h0.55M146.7 186.1h0.55M135.3 192.0h0.55M139.1 188.5h0.55M142.2 177.6h0.55M141.8 177.6h0.55M146.8 179.6h0.55M143.2 177.7h0.55M146.4 181.8h0.55M132.4 175.6h0.55M137.7 176.9h0.55M144.2 189.9h0.55M136.5 179.8h0.55M148.5 184.3h0.55M151.1 183.9h0.55M143.8 190.3h0.55M145.9 188.2h0.55M141.3 179.9h0.55M147.7 179.8h0.55M148.4 182.1h0.55M142.9 176.4h0.55M135.9 189.3h0.55M135.6 179.4h0.55M140.1 188.8h0.55M135.1 185.4h0.55M139.1 177.1h0.55M143.5 187.7h0.55M142.2 189.1h0.55M139.4 179.6h0.55M143.1 177.6h0.55M150.1 183.4h0.55M136.6 187.1h0.55M142.2 178.3h0.55M141.5 186.8h0.55M141.9 189.7h0.55M136.8 178.5h0.55M146.6 186.9h0.55M135.4 177.7h0.55M143.6 180.3h0.55M136.3 177.8h0.55M137.1 181.5h0.55M132.3 182.0h0.55M147.8 186.6h0.55M145.2 186.3h0.55M132.6 180.7h0.55M143.7 178.4h0.55M146.2 175.6h0.55M142.7 187.9h0.55M146.7 185.3h0.55M141.8 188.9h0.55M148.0 184.2h0.55M143.9 176.0h0.55M144.6 184.8h0.55M148.9 184.2h0.55M137.0 187.1h0.55M138.6 178.9h0.55M144.6 187.7h0.55M145.3 186.5h0.55M143.8 183.9h0.55M141.4 187.8h0.55M133.1 183.6h0.55M133.0 183.1h0.55M133.0 186.4h0.55M143.8 176.7h0.55M143.8 176.5h0.55M135.8 181.5h0.55M142.6 174.8h0.55M147.2 183.1h0.55M131.3 185.5h0.55M143.5 179.4h0.55M134.5 182.8h0.55M145.7 179.8h0.55M144.1 188.9h0.55M140.9 192.3h0.55M130.6 180.5h0.55M142.0 179.3h0.55M141.7 189.4h0.55M144.9 180.3h0.55M140.0 176.7h0.55M146.9 177.7h0.55M133.8 185.9h0.55M143.3 178.8h0.55M132.4 184.1h0.55M137.9 188.5h0.55M134.1 189.9h0.55M135.3 179.3h0.55M142.0 176.8h0.55M141.5 178.0h0.55M142.7 186.7h0.55M131.3 183.1h0.55M136.5 181.3h0.55M135.1 178.8h0.55M145.0 178.1h0.55M147.8 183.9h0.55M137.5 176.3h0.55M137.0 175.6h0.55M139.8 186.5h0.55M140.5 189.9h0.55M147.3 187.2h0.55M145.8 182.2h0.55M146.5 185.0h0.55M146.9 180.1h0.55M143.4 191.2h0.55M139.2 190.1h0.55M138.4 190.2h0.55M133.9 180.8h0.55M144.6 186.7h0.55M134.6 182.8h0.55M134.5 188.2h0.55M145.3 189.6h0.55M134.0 177.7h0.55M138.1 178.9h0.55M142.3 187.4h0.55M145.1 181.0h0.55M139.9 188.7h0.55M133.7 188.3h0.55M142.8 177.9h0.55M144.9 186.6h0.55M141.1 188.3h0.55M138.6 187.1h0.55M132.8 187.1h0.55M146.6 177.5h0.55M130.7 186.4h0.55M142.1 178.5h0.55M147.0 179.2h0.55M135.8 179.0h0.55M139.1 179.3h0.55M147.3 181.7h0.55M138.9 184.8h0.55M137.4 190.7h0.55M144.3 180.6h0.55M137.1 184.3h0.55M143.3 190.5h0.55M144.5 188.7h0.55M132.7 186.6h0.55M135.2 186.8h0.55M136.2 188.1h0.55M130.9 182.8h0.55M147.2 179.6h0.55M134.1 176.2h0.55M134.1 183.4h0.55M150.1 184.2h0.55M145.0 177.8h0.55M135.7 189.7h0.55M130.9 181.4h0.55M131.4 184.6h0.55M132.2 180.0h0.55M138.4 177.1h0.55M143.8 178.4h0.55M137.8 187.4h0.55M143.4 177.1h0.55M131.6 185.8h0.55M145.4 188.4h0.55M149.6 183.9h0.55M132.7 185.1h0.55M150.5 183.2h0.55M130.2 181.0h0.55M143.4 182.9h0.55M138.1 178.7h0.55" stroke="#222" stroke-width="0.55" opacity="0.6" fill="none"/>
<path d="M135.8 220.0h0.55M153.7 204.9h0.55M140.8 206.3h0.55M137.9 206.4h0.55M164.9 209.9h0.55M126.1 211.1h0.55M153.9 223.2h0.55M167.4 209.2h0.55M154.3 222.5h0.55M153.8 223.1h0.55M151.4 222.0h0.55M140.3 205.8h0.55M150.2 222.7h0.55M158.8 222.6h0.55M165.8 216.7h0.55M141.6 205.8h0.55M161.7 215.9h0.55M136.3 207.7h0.55M144.2 221.4h0.55M141.6 222.5h0.55M166.1 216.9h0.55M153.8 223.0h0.55M140.1 222.7h0.55M155.2 223.2h0.55M133.4 213.2h0.55M148.9 206.0h0.55M152.0 205.7h0.55M166.3 216.2h0.55M143.9 205.9h0.55M165.3 218.6h0.55M157.5 222.8h0.55M158.4 207.1h0.55M159.0 206.3h0.55M163.5 207.4h0.55M150.3 220.7h0.55M135.6 215.4h0.55M130.9 218.8h0.55M163.8 210.1h0.55M145.2 205.1h0.55M167.0 215.1h0.55M160.9 210.6h0.55M164.8 211.6h0.55M150.5 223.6h0.55M156.7 221.8h0.55M147.2 225.2h0.55M139.4 220.9h0.55M131.0 214.9h0.55M160.5 209.4h0.55M138.3 220.8h0.55M167.3 209.7h0.55M135.9 207.6h0.55M133.5 213.4h0.55M161.4 210.2h0.55M155.0 206.2h0.55M134.7 216.8h0.55M136.4 216.6h0.55M131.1 212.6h0.55M162.5 213.2h0.55M138.8 220.0h0.55M158.3 207.6h0.55M150.1 222.0h0.55M155.2 205.1h0.55M145.5 204.6h0.55M160.2 220.8h0.55M135.0 208.8h0.55M162.8 217.6h0.55M136.3 209.6h0.55M148.0 222.0h0.55M139.5 221.4h0.55M134.3 221.2h0.55M146.4 205.8h0.55M147.0 222.4h0.55M139.9 204.5h0.55M157.2 219.7h0.55M148.8 223.4h0.55M136.1 220.0h0.55M146.2 203.8h0.55M159.0 220.4h0.55M136.6 220.5h0.55M133.2 209.4h0.55M131.7 213.7h0.55M164.2 207.9h0.55M138.9 207.8h0.55M144.8 221.8h0.55M150.5 203.3h0.55M166.1 211.3h0.55M137.9 206.8h0.55M152.8 204.9h0.55M155.2 220.8h0.55M141.2 205.1h0.55M146.3 221.6h0.55M136.9 215.2h0.55M137.3 218.7h0.55M144.4 207.4h0.55M165.7 209.6h0.55M149.5 220.1h0.55M141.5 205.7h0.55M139.7 221.8h0.55M165.1 210.9h0.55M166.2 209.4h0.55M166.5 212.8h0.55M156.2 206.6h0.55M165.8 217.6h0.55M140.8 221.6h0.55M150.2 223.5h0.55M158.6 207.3h0.55M133.8 214.4h0.55M167.0 216.7h0.55M128.2 217.1h0.55M163.5 210.4h0.55M160.4 217.9h0.55M159.9 221.8h0.55M165.3 217.4h0.55M148.8 204.4h0.55M145.8 204.7h0.55M144.7 205.2h0.55M153.9 205.0h0.55M167.1 212.6h0.55M153.7 204.5h0.55M140.0 206.0h0.55M157.1 221.2h0.55M164.1 218.8h0.55M136.4 214.5h0.55M165.5 214.0h0.55M137.7 221.9h0.55M158.7 222.1h0.55M139.8 223.0h0.55M141.4 206.2h0.55M135.4 208.0h0.55M169.1 211.8h0.55M164.7 218.9h0.55M154.0 221.6h0.55M139.5 206.0h0.55M154.7 221.8h0.55M131.8 213.8h0.55M168.8 213.2h0.55M165.1 215.1h0.55M158.3 221.9h0.55M133.2 208.4h0.55M134.3 210.7h0.55M143.2 203.6h0.55M143.1 219.7h0.55M158.1 223.0h0.55M161.1 208.3h0.55M159.9 221.1h0.55M160.3 220.0h0.55M160.8 219.5h0.55M139.3 205.6h0.55M163.0 210.9h0.55M134.1 218.9h0.55M136.9 219.8h0.55M149.1 222.9h0.55M147.0 204.4h0.55M136.4 216.5h0.55M134.6 218.7h0.55M167.9 213.7h0.55M136.8 209.7h0.55M131.1 214.3h0.55M145.6 221.5h0.55M164.0 208.1h0.55M162.3 208.3h0.55M152.2 223.8h0.55M167.2 210.9h0.55M168.2 214.6h0.55M133.3 216.0h0.55M159.4 221.2h0.55M134.2 213.8h0.55M165.8 216.9h0.55M142.1 221.6h0.55M135.1 208.3h0.55M151.7 221.0h0.55M165.8 214.6h0.55M135.3 213.9h0.55M144.5 207.0h0.55M158.0 206.5h0.55M155.6 206.1h0.55M149.8 207.3h0.55M166.1 216.6h0.55M162.4 209.3h0.55M154.8 204.2h0.55M157.8 221.4h0.55M166.1 215.8h0.55M166.2 211.3h0.55M163.4 220.7h0.55M161.3 211.0h0.55M147.7 222.6h0.55M132.9 215.9h0.55M144.6 203.7h0.55M135.6 210.2h0.55M164.9 211.3h0.55M167.9 215.0h0.55M168.8 212.0h0.55M159.3 206.4h0.55M128.4 216.9h0.55M135.7 210.3h0.55M160.2 208.4h0.55M161.8 209.0h0.55M141.1 224.0h0.55M142.0 204.8h0.55M143.5 223.6h0.55M165.5 213.5h0.55M164.3 211.9h0.55M162.2 219.8h0.55M163.5 214.6h0.55M126.9 216.9h0.55M167.9 220.8h0.55M139.0 207.4h0.55M164.8 210.3h0.55M135.4 210.0h0.55M158.5 220.7h0.55M141.1 222.4h0.55M132.2 214.0h0.55M136.3 219.5h0.55M153.5 221.9h0.55M133.4 212.5h0.55M153.4 221.6h0.55M160.6 219.7h0.55M154.7 204.4h0.55M150.1 221.8h0.55M154.4 223.9h0.55M170.3 216.5h0.55M143.0 221.7h0.55M146.7 221.9h0.55M153.0 204.9h0.55M161.9 208.0h0.55M157.5 207.1h0.55M166.3 210.0h0.55M158.7 223.1h0.55M167.0 213.0h0.55M148.9 205.9h0.55M144.7 223.6h0.55M165.5 218.1h0.55M131.6 216.4h0.55M148.4 221.6h0.55M152.6 221.4h0.55M162.8 208.9h0.55M156.5 220.7h0.55M137.0 220.3h0.55M155.4 221.2h0.55M155.9 223.1h0.55M144.3 219.6h0.55M133.4 214.7h0.55M138.5 222.3h0.55M139.7 221.5h0.55M160.1 218.8h0.55M139.1 221.2h0.55M148.4 205.1h0.55M165.2 216.5h0.55M134.7 212.5h0.55M151.0 221.9h0.55M140.2 221.1h0.55M134.8 212.4h0.55M151.1 221.9h0.55M164.8 213.9h0.55M149.8 203.8h0.55M160.1 211.7h0.55M145.1 206.0h0.55M144.7 205.0h0.55M135.1 218.1h0.55M135.4 208.0h0.55M145.7 205.0h0.55M153.7 221.8h0.55M136.5 205.8h0.55M167.5 209.1h0.55M138.1 207.3h0.55M151.0 203.5h0.55M140.9 220.5h0.55M161.9 209.6h0.55M151.6 205.6h0.55M160.9 208.8h0.55M136.4 208.6h0.55M161.5 218.9h0.55M132.7 210.4h0.55M152.8 225.4h0.55M162.4 208.5h0.55M133.4 209.3h0.55M140.8 223.2h0.55M163.1 219.1h0.55M142.6 223.1h0.55M131.2 212.1h0.55M143.1 221.5h0.55M155.9 206.6h0.55M142.3 205.8h0.55M170.0 215.8h0.55M151.0 225.4h0.55M132.1 211.7h0.55M159.2 205.8h0.55M163.2 208.5h0.55M165.3 214.9h0.55M139.4 218.6h0.55M162.8 208.0h0.55M147.1 221.4h0.55M159.9 222.4h0.55M131.5 212.3h0.55M155.7 221.7h0.55M144.1 222.2h0.55M140.5 205.3h0.55M162.2 221.3h0.55M162.9 207.3h0.55M168.3 208.2h0.55M165.5 211.9h0.55M167.6 218.3h0.55M166.0 212.2h0.55M160.1 220.5h0.55M160.7 218.4h0.55M154.1 203.1h0.55M141.6 221.8h0.55M133.4 211.3h0.55M133.3 220.9h0.55M139.0 205.3h0.55M164.7 213.6h0.55M159.8 219.4h0.55M130.6 215.3h0.55M139.5 207.6h0.55M133.2 216.0h0.55M152.4 222.8h0.55M156.4 222.4h0.55M149.9 204.6h0.55M165.3 213.6h0.55M152.6 220.6h0.55M157.7 207.8h0.55M150.5 224.2h0.55M144.9 221.7h0.55M148.9 222.7h0.55M147.4 204.2h0.55M143.1 208.8h0.55M141.0 219.9h0.55M134.9 208.7h0.55M160.1 210.6h0.55M134.8 214.9h0.55M131.8 217.1h0.55M132.3 214.8h0.55M165.5 214.4h0.55M148.1 222.9h0.55M162.8 207.5h0.55M135.5 209.2h0.55M131.0 214.6h0.55M132.3 211.8h0.55M134.9 217.7h0.55M136.9 208.0h0.55M135.8 207.7h0.55M167.3 209.7h0.55M161.2 208.7h0.55M149.5 205.7h0.55M133.7 216.3h0.55M135.3 211.1h0.55M148.4 206.1h0.55M137.9 219.3h0.55M140.2 220.5h0.55M135.4 216.7h0.55M137.7 219.7h0.55M163.7 206.5h0.55M154.8 221.5h0.55M139.7 207.8h0.55M140.8 206.2h0.55M138.3 220.7h0.55M135.8 212.8h0.55M142.0 207.8h0.55M141.0 207.3h0.55M163.2 221.5h0.55M160.6 208.6h0.55M143.4 205.3h0.55M132.1 211.3h0.55M165.1 217.3h0.55M135.2 208.7h0.55M167.9 213.7h0.55M133.3 212.2h0.55M151.8 223.7h0.55M149.3 224.8h0.55M148.1 202.6h0.55M136.0 222.5h0.55M165.3 206.9h0.55M165.0 219.4h0.55M164.5 213.0h0.55M133.9 217.0h0.55M134.3 209.6h0.55M150.4 223.3h0.55M161.4 208.1h0.55M140.4 222.1h0.55M162.3 210.8h0.55M135.3 210.0h0.55M150.7 223.4h0.55M162.6 219.1h0.55M157.8 204.9h0.55M164.1 214.1h0.55M158.8 221.3h0.55M143.3 204.9h0.55M159.3 223.2h0.55M161.5 207.7h0.55M160.0 221.5h0.55M154.4 223.0h0.55M167.5 212.0h0.55M139.4 219.2h0.55M166.6 218.3h0.55M165.0 218.9h0.55M156.6 221.2h0.55M156.3 221.9h0.55M140.3 217.4h0.55M146.1 205.7h0.55M142.6 222.2h0.55M140.5 221.4h0.55M166.9 219.7h0.55M136.7 219.7h0.55M165.5 211.8h0.55M137.3 208.1h0.55M153.9 221.9h0.55M159.1 206.1h0.55M156.4 205.6h0.55M155.4 223.6h0.55M164.6 219.2h0.55M159.2 205.8h0.55M159.1 220.3h0.55M132.6 213.1h0.55M145.1 205.5h0.55M161.0 219.8h0.55M165.1 218.4h0.55M134.2 212.0h0.55M167.0 207.4h0.55M147.9 206.4h0.55M141.2 221.5h0.55M134.8 215.3h0.55M134.1 216.8h0.55M161.7 205.2h0.55M160.1 206.9h0.55M143.3 222.9h0.55M131.8 213.8h0.55M150.6 205.1h0.55M151.4 207.3h0.55M143.8 223.5h0.55M140.9 222.1h0.55M162.6 206.4h0.55M151.3 205.6h0.55M147.8 206.0h0.55M165.5 211.2h0.55M152.8 207.9h0.55M158.0 219.9h0.55M150.9 205.8h0.55M161.0 220.0h0.55M133.9 209.2h0.55M162.4 208.7h0.55M167.3 213.0h0.55M130.2 214.8h0.55M140.2 222.1h0.55M166.4 210.4h0.55M159.8 205.2h0.55M133.2 213.8h0.55M163.0 216.7h0.55M167.7 213.4h0.55M164.8 217.3h0.55M165.7 212.3h0.55M154.1 221.9h0.55M153.2 221.1h0.55M134.1 215.8h0.55M135.5 219.5h0.55M163.9 217.0h0.55M138.1 212.2h0.55M136.7 218.8h0.55M148.7 204.9h0.55M142.8 204.6h0.55M162.6 220.5h0.55M143.2 203.2h0.55M165.5 217.4h0.55M158.7 205.7h0.55M145.3 203.9h0.55M166.0 210.3h0.55M146.5 205.4h0.55M133.1 217.9h0.55M167.0 210.0h0.55M165.6 214.8h0.55M160.3 208.6h0.55M132.7 215.2h0.55M165.8 220.8h0.55M143.2 205.5h0.55M158.2 221.9h0.55M161.0 205.4h0.55M162.0 222.6h0.55M167.3 209.2h0.55M131.9 211.8h0.55M134.5 208.3h0.55M165.8 213.4h0.55M133.6 209.9h0.55M165.1 213.7h0.55M147.1 205.7h0.55M162.0 207.5h0.55M129.8 209.7h0.55M149.4 204.9h0.55M146.8 204.0h0.55M145.6 203.3h0.55M164.1 219.2h0.55M152.3 222.8h0.55M150.6 204.7h0.55M140.1 219.2h0.55M166.0 210.2h0.55M132.5 217.3h0.55M148.7 222.6h0.55M149.2 206.8h0.55M142.6 221.1h0.55M134.1 211.2h0.55M130.6 211.8h0.55M157.2 203.9h0.55M152.1 204.3h0.55M149.5 204.4h0.55M154.3 207.1h0.55M137.2 217.1h0.55M151.2 221.8h0.55M136.8 220.0h0.55M152.2 205.7h0.55M132.9 208.0h0.55M162.3 214.7h0.55M139.5 206.7h0.55M157.1 208.4h0.55M161.1 215.3h0.55M133.4 218.1h0.55M144.3 224.1h0.55M140.9 206.2h0.55M136.9 208.0h0.55M141.4 221.7h0.55M136.0 206.0h0.55M152.9 222.5h0.55M164.8 216.7h0.55M165.8 206.4h0.55M164.3 213.5h0.55M148.9 206.0h0.55M133.9 212.0h0.55M167.4 210.3h0.55M154.3 222.2h0.55M136.2 212.1h0.55M166.0 209.1h0.55M135.5 206.8h0.55M162.1 220.8h0.55M131.7 211.6h0.55M135.6 215.3h0.55M160.8 223.0h0.55M134.3 214.4h0.55M164.7 216.5h0.55M137.4 218.6h0.55M137.4 220.0h0.55M138.9 206.0h0.55M135.7 213.0h0.55M131.1 213.6h0.55M158.3 221.3h0.55M139.7 204.8h0.55M138.2 207.1h0.55M150.7 205.9h0.55M134.8 209.3h0.55M136.8 207.0h0.55M161.3 204.9h0.55M156.5 206.3h0.55M135.1 209.0h0.55M161.6 206.2h0.55M147.9 221.4h0.55M166.6 214.8h0.55M163.4 220.0h0.55M153.4 203.2h0.55M166.7 219.4h0.55M160.7 223.9h0.55M153.6 207.0h0.55M148.6 206.0h0.55M163.7 219.1h0.55M162.8 215.7h0.55M164.8 210.7h0.55M130.5 212.2h0.55M134.2 210.9h0.55M159.6 206.8h0.55M130.7 212.3h0.55M156.3 222.8h0.55M134.6 217.4h0.55M156.7 219.9h0.55M145.4 224.0h0.55M156.0 221.8h0.55M136.4 208.1h0.55M139.8 205.9h0.55M163.9 220.3h0.55M168.4 211.7h0.55M164.9 217.6h0.55M164.3 216.8h0.55M169.7 214.9h0.55M164.0 208.7h0.55M166.8 214.5h0.55M134.9 218.9h0.55M141.5 222.5h0.55M165.7 220.4h0.55M136.8 206.4h0.55M162.8 221.2h0.55M155.6 223.1h0.55M133.4 216.5h0.55M139.1 205.0h0.55M162.1 219.8h0.55M141.7 206.5h0.55M138.6 218.9h0.55M157.7 204.5h0.55M132.2 211.2h0.55M164.5 209.3h0.55M138.0 219.3h0.55M135.9 208.9h0.55M167.0 213.4h0.55M132.5 216.5h0.55M167.3 214.7h0.55M165.3 208.5h0.55M167.4 210.4h0.55" stroke="#222" stroke-width="0.55" opacity="0.6" fill="none"/>
<path d="M136.2 184.8h0.55M159.8 205.0h0.55M138.0 181.9h0.55M146.0 191.4h0.55M167.4 200.7h0.55M157.5 183.9h0.55M135.0 175.6h0.55M144.5 170.5h0.55M156.5 194.2h0.55M145.3 198.8h0.55M138.4 200.4h0.55M145.9 191.0h0.55M177.6 194.3h0.55M133.4 208.7h0.55M154.8 172.8h0.55M141.8 180.3h0.55M140.6 178.3h0.55M151.4 218.6h0.55M138.5 173.7h0.55M149.4 189.2h0.55M138.5 216.5h0.55M157.8 202.1h0.55M146.2 213.4h0.55M149.8 193.4h0.55M142.3 211.5h0.55M144.1 173.0h0.55M145.1 205.5h0.55M158.6 194.2h0.55M145.2 200.7h0.55M150.3 172.0h0.55M179.2 199.9h0.55M161.5 187.7h0.55M172.3 194.2h0.55M171.4 191.6h0.55M150.2 181.8h0.55M168.3 204.8h0.55M138.8 211.8h0.55M151.0 188.9h0.55M153.0 215.1h0.55M145.0 176.7h0.55M137.5 214.6h0.55M136.2 216.3h0.55M155.5 220.5h0.55M135.2 190.1h0.55M137.0 217.8h0.55M143.4 211.7h0.55M165.1 213.5h0.55M138.7 204.8h0.55M155.7 215.3h0.55M151.4 194.7h0.55M159.0 179.9h0.55M145.9 181.7h0.55M160.1 175.9h0.55M190.5 204.6h0.55M138.7 178.4h0.55M133.3 185.9h0.55M137.0 189.4h0.55M143.2 202.3h0.55M135.2 213.6h0.55M199.3 179.9h0.55M158.6 198.7h0.55M143.1 201.1h0.55M144.1 204.7h0.55M143.1 215.4h0.55M145.3 219.8h0.55M159.9 183.2h0.55M166.6 203.9h0.55M150.2 170.1h0.55M170.0 180.5h0.55M135.7 190.5h0.55M155.1 198.3h0.55M135.6 201.1h0.55M146.1 216.7h0.55M151.1 206.7h0.55M155.7 185.6h0.55M149.3 172.7h0.55M139.3 185.5h0.55M133.8 213.8h0.55M146.3 178.6h0.55M135.6 188.4h0.55M143.7 212.0h0.55M136.6 178.2h0.55M148.7 203.6h0.55M137.1 176.0h0.55M172.0 170.9h0.55M134.7 180.1h0.55M167.4 204.9h0.55M149.9 182.6h0.55M143.2 195.4h0.55M140.4 208.0h0.55M139.1 172.5h0.55M137.6 179.6h0.55M173.5 185.6h0.55M147.5 172.5h0.55M142.0 216.4h0.55M143.2 217.8h0.55M140.1 210.5h0.55M167.1 213.3h0.55M156.5 170.7h0.55M155.1 206.1h0.55M187.4 210.8h0.55M152.8 193.5h0.55M140.3 202.1h0.55M158.8 170.4h0.55M135.6 206.6h0.55M148.4 217.6h0.55M156.5 203.1h0.55M157.5 177.6h0.55M134.1 209.2h0.55M159.6 191.8h0.55M139.3 186.4h0.55M150.2 178.8h0.55M155.8 175.7h0.55M146.8 218.4h0.55M165.6 188.0h0.55M134.9 218.8h0.55M134.2 205.9h0.55M137.6 189.7h0.55M145.5 192.9h0.55M160.2 204.4h0.55M140.7 180.1h0.55M149.4 204.0h0.55M138.9 178.4h0.55M135.8 192.4h0.55M153.8 190.6h0.55M146.3 185.4h0.55M133.3 173.5h0.55M165.9 201.0h0.55M160.5 221.2h0.55M134.5 182.1h0.55M136.4 182.2h0.55M150.7 178.3h0.55M133.9 212.2h0.55M156.8 210.2h0.55M166.3 203.2h0.55M141.6 183.8h0.55M172.8 177.0h0.55M134.9 183.2h0.55M145.1 219.2h0.55M166.8 217.6h0.55M155.8 194.6h0.55M164.5 172.9h0.55M134.2 176.0h0.55M144.2 177.0h0.55M135.9 185.4h0.55M139.0 214.5h0.55M134.4 214.2h0.55M157.0 170.8h0.55M136.8 171.6h0.55M158.0 216.3h0.55M135.8 220.0h0.55M142.1 200.0h0.55M142.3 171.6h0.55M143.6 206.7h0.55M136.1 171.8h0.55M145.5 199.9h0.55M139.7 215.1h0.55M150.4 199.4h0.55M156.1 207.5h0.55M154.1 199.5h0.55M155.0 203.8h0.55M139.7 172.9h0.55M138.5 192.3h0.55M149.2 196.6h0.55M156.2 172.8h0.55M153.4 183.1h0.55M137.0 187.1h0.55M135.5 212.1h0.55M135.4 178.7h0.55M152.5 209.0h0.55M138.8 191.8h0.55M139.2 198.5h0.55M137.9 212.8h0.55M145.8 201.7h0.55M147.9 205.5h0.55M179.6 204.9h0.55M137.9 189.4h0.55M148.5 212.1h0.55M146.5 216.9h0.55M142.4 196.9h0.55M162.0 208.2h0.55M137.1 187.9h0.55M156.0 205.0h0.55M134.4 191.0h0.55M145.5 189.2h0.55M135.0 191.5h0.55M133.7 180.3h0.55M144.9 203.5h0.55M174.0 171.0h0.55M140.1 193.0h0.55M149.6 188.3h0.55M162.5 196.8h0.55M134.8 174.2h0.55M134.4 181.9h0.55M142.3 184.8h0.55M142.6 199.0h0.55M142.6 186.1h0.55M160.5 187.7h0.55M168.7 189.6h0.55M136.1 185.2h0.55M139.4 177.8h0.55M155.7 186.9h0.55M143.5 197.4h0.55M141.2 187.1h0.55M164.9 173.1h0.55M158.5 191.5h0.55M135.0 185.4h0.55M139.9 192.9h0.55M139.0 189.7h0.55M147.6 216.8h0.55M147.6 181.0h0.55M149.5 210.9h0.55M146.6 214.2h0.55M139.5 189.4h0.55M137.7 182.6h0.55M133.8 182.5h0.55M144.2 219.5h0.55M169.0 186.6h0.55M138.7 200.2h0.55M149.2 180.1h0.55" stroke="#666" stroke-width="0.55" opacity="0.5" fill="none"/>
<path d="M192.1 192.0h0.55M171.5 209.2h0.55M167.1 190.4h0.55M179.3 189.4h0.55M170.6 178.5h0.55M143.1 173.8h0.55M196.1 196.6h0.55M134.4 171.6h0.55M171.0 191.7h0.55M197.3 216.0h0.55M137.8 210.0h0.55M196.9 206.3h0.55M195.0 183.6h0.55M174.0 202.5h0.55M184.8 204.4h0.55M186.4 180.9h0.55M184.7 197.0h0.55M195.5 180.1h0.55M173.4 213.4h0.55M182.4 203.2h0.55M142.6 169.6h0.55M153.8 200.4h0.55M135.3 200.9h0.55M141.0 172.0h0.55M151.2 194.0h0.55M179.7 218.7h0.55M148.0 165.3h0.55M188.8 196.6h0.55M192.8 204.4h0.55M141.6 182.5h0.55M147.4 187.9h0.55M151.7 213.4h0.55M191.3 171.7h0.55M198.0 219.7h0.55M158.2 214.2h0.55M194.5 205.5h0.55M156.7 199.0h0.55M182.9 181.1h0.55M164.0 165.5h0.55M143.3 209.3h0.55M153.2 203.5h0.55M161.0 204.1h0.55M151.7 165.4h0.55M176.5 175.9h0.55M146.5 188.7h0.55M165.3 215.2h0.55M178.4 187.0h0.55M161.8 197.2h0.55M141.6 178.5h0.55M172.3 218.2h0.55" stroke="#888" stroke-width="0.55" opacity="0.5" fill="none"/>
</g>
<rect x="133.20" y="156.70" width="64.80" height="65.10" fill="none" stroke="#555" stroke-width="0.7"/>
<line x1="133.20" y1="221.80" x2="133.20" y2="222.80" stroke="#666" stroke-width="0.4"/>
<text x="133.50" y="226.60" font-size="2.9" text-anchor="middle" fill="#444" class="t">10</text>
<line x1="132.20" y1="221.80" x2="133.20" y2="221.80" stroke="#666" stroke-width="0.4"/>
<text x="132.00" y="222.60" font-size="2.9" text-anchor="end" fill="#444" class="t">10</text>
<line x1="149.40" y1="221.80" x2="149.40" y2="222.80" stroke="#666" stroke-width="0.4"/>
<text x="149.70" y="226.60" font-size="2.9" text-anchor="middle" fill="#444" class="t">10</text>
<line x1="132.20" y1="205.53" x2="133.20" y2="205.53" stroke="#666" stroke-width="0.4"/>
<text x="132.00" y="206.33" font-size="2.9" text-anchor="end" fill="#444" class="t">10</text>
<line x1="165.60" y1="221.80" x2="165.60" y2="222.80" stroke="#666" stroke-width="0.4"/>
<text x="165.90" y="226.60" font-size="2.9" text-anchor="middle" fill="#444" class="t">10</text>
<line x1="132.20" y1="189.25" x2="133.20" y2="189.25" stroke="#666" stroke-width="0.4"/>
<text x="132.00" y="190.05" font-size="2.9" text-anchor="end" fill="#444" class="t">10</text>
<line x1="181.80" y1="221.80" x2="181.80" y2="222.80" stroke="#666" stroke-width="0.4"/>
<text x="182.10" y="226.60" font-size="2.9" text-anchor="middle" fill="#444" class="t">10</text>
<line x1="132.20" y1="172.97" x2="133.20" y2="172.97" stroke="#666" stroke-width="0.4"/>
<text x="132.00" y="173.78" font-size="2.9" text-anchor="end" fill="#444" class="t">10</text>
<line x1="198.00" y1="221.80" x2="198.00" y2="222.80" stroke="#666" stroke-width="0.4"/>
<text x="198.30" y="226.60" font-size="2.9" text-anchor="middle" fill="#444" class="t">10</text>
<line x1="132.20" y1="156.70" x2="133.20" y2="156.70" stroke="#666" stroke-width="0.4"/>
<text x="132.00" y="157.50" font-size="2.9" text-anchor="end" fill="#444" class="t">10</text>
<text x="89.50" y="174.20" font-size="7.2" text-anchor="middle" font-weight="bold" fill="#111" >11.7%</text>
<text x="185.80" y="177.00" font-size="7.2" text-anchor="middle" fill="#111" >0.73%</text>
<line x1="79.50" y1="179.00" x2="73.00" y2="184.00" stroke="#000" stroke-width="1.2"/>
<polygon points="70.6,185.8 75.4,184.6 73.2,181.6" fill="#000"/>
<line x1="173.20" y1="178.00" x2="163.00" y2="183.20" stroke="#000" stroke-width="1.2"/>
<polygon points="160,184.8 165,184.2 163.2,180.8" fill="#000"/>
<text x="225.40" y="150.60" font-size="12" text-anchor="start" font-weight="bold" fill="#111" >C</text>
<text x="238.20" y="182.60" font-size="6.8" text-anchor="middle" transform="rotate(-90 238.20 182.60)" fill="#111" >% Total</text>
<line x1="263.00" y1="142.40" x2="263.00" y2="229.60" stroke="#111" stroke-width="0.95"/>
<line x1="262.60" y1="229.60" x2="283.60" y2="229.60" stroke="#111" stroke-width="0.95"/>
<text x="257.20" y="232.72" font-size="7.0" text-anchor="end" fill="#111" >0</text>
<text x="257.20" y="218.32" font-size="7.0" text-anchor="end" fill="#111" >0.01</text>
<text x="257.20" y="203.92" font-size="7.0" text-anchor="end" fill="#111" >0.02</text>
<text x="257.20" y="189.52" font-size="7.0" text-anchor="end" fill="#111" >0.03</text>
<text x="257.20" y="175.12" font-size="7.0" text-anchor="end" fill="#111" >0.04</text>
<text x="257.20" y="160.72" font-size="7.0" text-anchor="end" fill="#111" >0.05</text>
<text x="257.20" y="146.32" font-size="7.0" text-anchor="end" fill="#111" >0.06</text>
<line x1="270.50" y1="160.00" x2="270.50" y2="182.40" stroke="#111" stroke-width="0.8"/>
<line x1="269.70" y1="160.00" x2="271.30" y2="160.00" stroke="#111" stroke-width="0.6"/>
<rect x="267.60" y="182.40" width="5.80" height="47.20" fill="#fff" stroke="#111" stroke-width="0.85"/>
<line x1="276.20" y1="159.40" x2="276.20" y2="171.40" stroke="#111" stroke-width="0.8"/>
<line x1="275.40" y1="159.40" x2="277.00" y2="159.40" stroke="#111" stroke-width="0.6"/>
<rect x="273.40" y="171.40" width="5.60" height="58.20" fill="#111" stroke="#111" stroke-width="0.85"/>
<text x="272.40" y="240.70" font-size="7.1" text-anchor="middle" fill="#111" >LMPP</text>
<line x1="306.50" y1="142.80" x2="306.50" y2="229.60" stroke="#111" stroke-width="0.95"/>
<line x1="306.10" y1="229.60" x2="324.60" y2="229.60" stroke="#111" stroke-width="0.95"/>
<text x="301.20" y="233.42" font-size="7.0" text-anchor="end" fill="#111" >0</text>
<text x="301.20" y="222.70" font-size="7.0" text-anchor="end" fill="#111" >0.02</text>
<text x="301.20" y="211.98" font-size="7.0" text-anchor="end" fill="#111" >0.04</text>
<text x="301.20" y="201.26" font-size="7.0" text-anchor="end" fill="#111" >0.06</text>
<text x="301.20" y="190.54" font-size="7.0" text-anchor="end" fill="#111" >0.08</text>
<text x="301.20" y="179.82" font-size="7.0" text-anchor="end" fill="#111" >0.1</text>
<text x="301.20" y="169.10" font-size="7.0" text-anchor="end" fill="#111" >0.12</text>
<text x="301.20" y="158.38" font-size="7.0" text-anchor="end" fill="#111" >0.14</text>
<text x="301.20" y="147.66" font-size="7.0" text-anchor="end" fill="#111" >0.16</text>
<line x1="314.60" y1="155.00" x2="314.60" y2="167.40" stroke="#111" stroke-width="0.8"/>
<line x1="313.80" y1="155.00" x2="315.40" y2="155.00" stroke="#111" stroke-width="0.6"/>
<rect x="311.60" y="167.40" width="6.00" height="62.20" fill="#fff" stroke="#111" stroke-width="0.85"/>
<line x1="320.60" y1="226.00" x2="320.60" y2="227.60" stroke="#111" stroke-width="0.8"/>
<line x1="319.80" y1="226.00" x2="321.40" y2="226.00" stroke="#111" stroke-width="0.6"/>
<rect x="317.60" y="227.60" width="6.00" height="2.00" fill="#111" stroke="#111" stroke-width="0.85"/>
<text x="325.00" y="160.20" font-size="6.3" text-anchor="middle" fill="#111" letter-spacing="0.35">***</text>
<text x="317.00" y="240.70" font-size="7.1" text-anchor="middle" fill="#111" >CLP</text>
<line x1="343.60" y1="146.60" x2="343.60" y2="229.60" stroke="#111" stroke-width="0.95"/>
<line x1="343.20" y1="229.60" x2="362.00" y2="229.60" stroke="#111" stroke-width="0.95"/>
<text x="339.00" y="233.52" font-size="7.0" text-anchor="end" fill="#111" >0</text>
<text x="339.00" y="216.92" font-size="7.0" text-anchor="end" fill="#111" >0.5</text>
<text x="339.00" y="200.32" font-size="7.0" text-anchor="end" fill="#111" >1</text>
<text x="339.00" y="183.72" font-size="7.0" text-anchor="end" fill="#111" >1.5</text>
<text x="339.00" y="167.12" font-size="7.0" text-anchor="end" fill="#111" >2</text>
<text x="339.00" y="150.52" font-size="7.0" text-anchor="end" fill="#111" >2.5</text>
<line x1="351.40" y1="150.40" x2="351.40" y2="165.40" stroke="#111" stroke-width="0.8"/>
<line x1="350.60" y1="150.40" x2="352.20" y2="150.40" stroke="#111" stroke-width="0.6"/>
<rect x="348.40" y="165.40" width="6.00" height="64.20" fill="#fff" stroke="#111" stroke-width="0.85"/>
<line x1="357.40" y1="218.00" x2="357.40" y2="220.60" stroke="#111" stroke-width="0.8"/>
<line x1="356.60" y1="218.00" x2="358.20" y2="218.00" stroke="#111" stroke-width="0.6"/>
<rect x="354.40" y="220.60" width="6.00" height="9.00" fill="#111" stroke="#111" stroke-width="0.85"/>
<text x="361.80" y="160.20" font-size="6.3" text-anchor="middle" fill="#111" letter-spacing="0.35">***</text>
<text x="354.00" y="240.70" font-size="7.1" text-anchor="middle" fill="#111" >PreProB</text>
<line x1="390.00" y1="150.00" x2="390.00" y2="229.60" stroke="#111" stroke-width="0.95"/>
<line x1="389.60" y1="229.60" x2="409.00" y2="229.60" stroke="#111" stroke-width="0.95"/>
<text x="387.00" y="234.08" font-size="6.9" text-anchor="end" font-family='"DejaVu Sans", "Liberation Sans", sans-serif' fill="#111" >0</text>
<text x="387.00" y="225.23" font-size="6.9" text-anchor="end" font-family='"DejaVu Sans", "Liberation Sans", sans-serif' fill="#111" >0.5</text>
<text x="387.00" y="216.38" font-size="6.9" text-anchor="end" font-family='"DejaVu Sans", "Liberation Sans", sans-serif' fill="#111" >1</text>
<text x="387.00" y="207.53" font-size="6.9" text-anchor="end" font-family='"DejaVu Sans", "Liberation Sans", sans-serif' fill="#111" >1.5</text>
<text x="387.00" y="198.68" font-size="6.9" text-anchor="end" font-family='"DejaVu Sans", "Liberation Sans", sans-serif' fill="#111" >2</text>
<text x="387.00" y="189.83" font-size="6.9" text-anchor="end" font-family='"DejaVu Sans", "Liberation Sans", sans-serif' fill="#111" >2.5</text>
<text x="387.00" y="180.98" font-size="6.9" text-anchor="end" font-family='"DejaVu Sans", "Liberation Sans", sans-serif' fill="#111" >3</text>
<text x="387.00" y="172.13" font-size="6.9" text-anchor="end" font-family='"DejaVu Sans", "Liberation Sans", sans-serif' fill="#111" >3.5</text>
<text x="387.00" y="163.28" font-size="6.9" text-anchor="end" font-family='"DejaVu Sans", "Liberation Sans", sans-serif' fill="#111" >4</text>
<text x="387.00" y="154.43" font-size="6.9" text-anchor="end" font-family='"DejaVu Sans", "Liberation Sans", sans-serif' fill="#111" >4.5</text>
<line x1="397.20" y1="159.00" x2="397.20" y2="163.40" stroke="#111" stroke-width="0.8"/>
<line x1="396.40" y1="159.00" x2="398.00" y2="159.00" stroke="#111" stroke-width="0.6"/>
<rect x="394.40" y="163.40" width="5.60" height="66.20" fill="#fff" stroke="#111" stroke-width="0.85"/>
<line x1="403.00" y1="227.40" x2="403.00" y2="228.60" stroke="#111" stroke-width="0.8"/>
<line x1="402.20" y1="227.40" x2="403.80" y2="227.40" stroke="#111" stroke-width="0.6"/>
<rect x="400.00" y="228.60" width="6.00" height="1.00" fill="#111" stroke="#111" stroke-width="0.85"/>
<text x="406.50" y="160.20" font-size="6.3" text-anchor="middle" fill="#111" letter-spacing="0.35">***</text>
<text x="399.60" y="240.70" font-size="7.1" text-anchor="middle" fill="#111" >ProB</text>
<line x1="425.00" y1="150.00" x2="425.00" y2="229.60" stroke="#111" stroke-width="0.95"/>
<line x1="424.60" y1="229.60" x2="447.00" y2="229.60" stroke="#111" stroke-width="0.95"/>
<text x="421.80" y="234.08" font-size="6.9" text-anchor="end" font-family='"DejaVu Sans", "Liberation Sans", sans-serif' fill="#111" >0</text>
<text x="421.80" y="222.68" font-size="6.9" text-anchor="end" font-family='"DejaVu Sans", "Liberation Sans", sans-serif' fill="#111" >2</text>
<text x="421.80" y="211.28" font-size="6.9" text-anchor="end" font-family='"DejaVu Sans", "Liberation Sans", sans-serif' fill="#111" >4</text>
<text x="421.80" y="199.88" font-size="6.9" text-anchor="end" font-family='"DejaVu Sans", "Liberation Sans", sans-serif' fill="#111" >6</text>
<text x="421.80" y="188.48" font-size="6.9" text-anchor="end" font-family='"DejaVu Sans", "Liberation Sans", sans-serif' fill="#111" >8</text>
<text x="421.80" y="177.08" font-size="6.9" text-anchor="end" font-family='"DejaVu Sans", "Liberation Sans", sans-serif' fill="#111" >10</text>
<text x="421.80" y="165.68" font-size="6.9" text-anchor="end" font-family='"DejaVu Sans", "Liberation Sans", sans-serif' fill="#111" >12</text>
<text x="421.80" y="154.28" font-size="6.9" text-anchor="end" font-family='"DejaVu Sans", "Liberation Sans", sans-serif' fill="#111" >14</text>
<line x1="432.40" y1="157.00" x2="432.40" y2="173.40" stroke="#111" stroke-width="0.8"/>
<line x1="431.60" y1="157.00" x2="433.20" y2="157.00" stroke="#111" stroke-width="0.6"/>
<rect x="429.40" y="173.40" width="6.00" height="56.20" fill="#fff" stroke="#111" stroke-width="0.85"/>
<line x1="438.40" y1="225.00" x2="438.40" y2="227.40" stroke="#111" stroke-width="0.8"/>
<line x1="437.60" y1="225.00" x2="439.20" y2="225.00" stroke="#111" stroke-width="0.6"/>
<rect x="435.40" y="227.40" width="6.00" height="2.20" fill="#111" stroke="#111" stroke-width="0.85"/>
<text x="442.00" y="160.20" font-size="6.3" text-anchor="middle" fill="#111" letter-spacing="0.35">***</text>
<text x="435.00" y="240.70" font-size="7.1" text-anchor="middle" fill="#111" >PreB</text>
<line x1="458.50" y1="150.00" x2="458.50" y2="229.60" stroke="#111" stroke-width="0.95"/>
<line x1="458.10" y1="229.60" x2="482.00" y2="229.60" stroke="#111" stroke-width="0.95"/>
<text x="452.40" y="234.08" font-size="6.9" text-anchor="end" font-family='"DejaVu Sans", "Liberation Sans", sans-serif' fill="#111" >0</text>
<text x="452.40" y="225.21" font-size="6.9" text-anchor="end" font-family='"DejaVu Sans", "Liberation Sans", sans-serif' fill="#111" >1</text>
<text x="452.40" y="216.34" font-size="6.9" text-anchor="end" font-family='"DejaVu Sans", "Liberation Sans", sans-serif' fill="#111" >2</text>
<text x="452.40" y="207.47" font-size="6.9" text-anchor="end" font-family='"DejaVu Sans", "Liberation Sans", sans-serif' fill="#111" >3</text>
<text x="452.40" y="198.60" font-size="6.9" text-anchor="end" font-family='"DejaVu Sans", "Liberation Sans", sans-serif' fill="#111" >4</text>
<text x="452.40" y="189.73" font-size="6.9" text-anchor="end" font-family='"DejaVu Sans", "Liberation Sans", sans-serif' fill="#111" >5</text>
<text x="452.40" y="180.86" font-size="6.9" text-anchor="end" font-family='"DejaVu Sans", "Liberation Sans", sans-serif' fill="#111" >6</text>
<text x="452.40" y="171.99" font-size="6.9" text-anchor="end" font-family='"DejaVu Sans", "Liberation Sans", sans-serif' fill="#111" >7</text>
<text x="452.40" y="163.12" font-size="6.9" text-anchor="end" font-family='"DejaVu Sans", "Liberation Sans", sans-serif' fill="#111" >8</text>
<text x="452.40" y="154.25" font-size="6.9" text-anchor="end" font-family='"DejaVu Sans", "Liberation Sans", sans-serif' fill="#111" >9</text>
<line x1="466.70" y1="159.60" x2="466.70" y2="166.60" stroke="#111" stroke-width="0.8"/>
<line x1="465.90" y1="159.60" x2="467.50" y2="159.60" stroke="#111" stroke-width="0.6"/>
<rect x="463.40" y="166.60" width="6.60" height="63.00" fill="#fff" stroke="#111" stroke-width="0.85"/>
<line x1="473.30" y1="209.20" x2="473.30" y2="216.60" stroke="#111" stroke-width="0.8"/>
<line x1="472.50" y1="209.20" x2="474.10" y2="209.20" stroke="#111" stroke-width="0.6"/>
<rect x="470.00" y="216.60" width="6.60" height="13.00" fill="#111" stroke="#111" stroke-width="0.85"/>
<text x="475.20" y="160.20" font-size="6.3" text-anchor="middle" fill="#111" letter-spacing="0.35">***</text>
<text x="469.60" y="240.70" font-size="7.1" text-anchor="middle" fill="#111" >B cells</text>
<rect x="484.00" y="182.50" width="5.40" height="4.00" fill="#fff" stroke="#111" stroke-width="0.7"/>
<rect x="484.00" y="189.50" width="5.40" height="4.00" fill="#111" stroke="#111" stroke-width="0.7"/>
<text x="491.00" y="187.20" font-size="7.4" text-anchor="start" fill="#111" >B6xG7</text>
<text x="491.00" y="194.60" font-size="7.4" text-anchor="start" fill="#111" >KRNxG7</text>
<text x="0.00" y="270.80" font-size="12" text-anchor="start" font-weight="bold" fill="#111" >D</text>
<line x1="40.60" y1="262.60" x2="40.60" y2="349.30" stroke="#111" stroke-width="0.95"/>
<line x1="40.20" y1="349.30" x2="68.00" y2="349.30" stroke="#111" stroke-width="0.95"/>
<text x="33.60" y="351.98" font-size="6.6" text-anchor="middle" fill="#111" >0</text>
<text x="33.60" y="341.28" font-size="6.6" text-anchor="middle" fill="#111" >1</text>
<text x="33.60" y="330.58" font-size="6.6" text-anchor="middle" fill="#111" >2</text>
<text x="33.60" y="319.88" font-size="6.6" text-anchor="middle" fill="#111" >3</text>
<text x="33.60" y="309.18" font-size="6.6" text-anchor="middle" fill="#111" >4</text>
<text x="33.60" y="298.48" font-size="6.6" text-anchor="middle" fill="#111" >5</text>
<text x="33.60" y="287.78" font-size="6.6" text-anchor="middle" fill="#111" >6</text>
<text x="33.60" y="277.08" font-size="6.6" text-anchor="middle" fill="#111" >7</text>
<text x="33.60" y="266.38" font-size="6.6" text-anchor="middle" fill="#111" >8</text>
<line x1="50.50" y1="269.00" x2="50.50" y2="291.40" stroke="#111" stroke-width="0.8"/>
<line x1="49.70" y1="269.00" x2="51.30" y2="269.00" stroke="#111" stroke-width="0.6"/>
<rect x="46.60" y="291.40" width="7.80" height="57.90" fill="#fff" stroke="#111" stroke-width="0.85"/>
<line x1="58.00" y1="330.40" x2="58.00" y2="340.60" stroke="#111" stroke-width="0.8"/>
<line x1="57.20" y1="330.40" x2="58.80" y2="330.40" stroke="#111" stroke-width="0.6"/>
<rect x="54.40" y="340.60" width="7.20" height="8.70" fill="#111" stroke="#111" stroke-width="0.85"/>
<text x="60.20" y="283.40" font-size="6.5" text-anchor="middle" fill="#111" >*</text>
<text x="28.4" y="300.8" font-size="6.65" text-anchor="middle" transform="rotate(-90 28.4 300.8)" fill="#111"><tspan font-style="italic">IL-7/Gapdh</tspan> x10-4</text>
<line x1="99.00" y1="262.60" x2="99.00" y2="349.80" stroke="#111" stroke-width="0.95"/>
<line x1="98.60" y1="349.80" x2="129.00" y2="349.80" stroke="#111" stroke-width="0.95"/>
<text x="89.00" y="353.18" font-size="6.6" text-anchor="middle" fill="#111" >0</text>
<text x="89.00" y="343.53" font-size="6.6" text-anchor="middle" fill="#111" >1</text>
<text x="89.00" y="333.88" font-size="6.6" text-anchor="middle" fill="#111" >2</text>
<text x="89.00" y="324.23" font-size="6.6" text-anchor="middle" fill="#111" >3</text>
<text x="89.00" y="314.58" font-size="6.6" text-anchor="middle" fill="#111" >4</text>
<text x="89.00" y="304.93" font-size="6.6" text-anchor="middle" fill="#111" >5</text>
<text x="89.00" y="295.28" font-size="6.6" text-anchor="middle" fill="#111" >6</text>
<text x="89.00" y="285.63" font-size="6.6" text-anchor="middle" fill="#111" >7</text>
<text x="89.00" y="275.98" font-size="6.6" text-anchor="middle" fill="#111" >8</text>
<text x="89.00" y="266.33" font-size="6.6" text-anchor="middle" fill="#111" >9</text>
<line x1="110.00" y1="271.00" x2="110.00" y2="286.00" stroke="#111" stroke-width="0.8"/>
<line x1="109.20" y1="271.00" x2="110.80" y2="271.00" stroke="#111" stroke-width="0.6"/>
<rect x="105.60" y="286.00" width="8.80" height="63.80" fill="#fff" stroke="#111" stroke-width="0.85"/>
<line x1="118.50" y1="311.80" x2="118.50" y2="320.20" stroke="#111" stroke-width="0.8"/>
<line x1="117.70" y1="311.80" x2="119.30" y2="311.80" stroke="#111" stroke-width="0.6"/>
<rect x="114.40" y="320.20" width="8.20" height="29.60" fill="#111" stroke="#111" stroke-width="0.85"/>
<text x="119.40" y="283.00" font-size="6.5" text-anchor="middle" fill="#111" >*</text>
<text x="85.4" y="304.6" font-size="7.0" text-anchor="middle" transform="rotate(-90 85.4 304.6)" fill="#111"><tspan font-style="italic">Flt3L/Gapdh</tspan> x10-3</text>
<line x1="166.00" y1="262.60" x2="166.00" y2="349.80" stroke="#111" stroke-width="0.95"/>
<line x1="165.60" y1="349.80" x2="200.00" y2="349.80" stroke="#111" stroke-width="0.95"/>
<text x="159.80" y="353.28" font-size="6.9" text-anchor="end" fill="#111" >0</text>
<text x="159.80" y="340.88" font-size="6.9" text-anchor="end" fill="#111" >0.5</text>
<text x="159.80" y="328.48" font-size="6.9" text-anchor="end" fill="#111" >1</text>
<text x="159.80" y="316.08" font-size="6.9" text-anchor="end" fill="#111" >1.5</text>
<text x="159.80" y="303.68" font-size="6.9" text-anchor="end" fill="#111" >2</text>
<text x="159.80" y="291.28" font-size="6.9" text-anchor="end" fill="#111" >2.5</text>
<text x="159.80" y="278.88" font-size="6.9" text-anchor="end" fill="#111" >3</text>
<text x="159.80" y="266.48" font-size="6.9" text-anchor="end" fill="#111" >3.5</text>
<line x1="178.50" y1="266.60" x2="178.50" y2="282.40" stroke="#111" stroke-width="0.8"/>
<line x1="177.70" y1="266.60" x2="179.30" y2="266.60" stroke="#111" stroke-width="0.6"/>
<rect x="173.60" y="282.40" width="9.80" height="67.40" fill="#fff" stroke="#111" stroke-width="0.85"/>
<line x1="188.00" y1="296.60" x2="188.00" y2="305.60" stroke="#111" stroke-width="0.8"/>
<line x1="187.20" y1="296.60" x2="188.80" y2="296.60" stroke="#111" stroke-width="0.6"/>
<rect x="183.40" y="305.60" width="9.20" height="44.20" fill="#111" stroke="#111" stroke-width="0.85"/>
<text x="148.6" y="304.4" font-size="7.05" text-anchor="middle" transform="rotate(-90 148.6 304.4)" fill="#111"><tspan font-style="italic">TSLP/Gapdh</tspan> x10-4</text>
<rect x="212.00" y="266.00" width="6.00" height="4.40" fill="#fff" stroke="#111" stroke-width="0.7"/>
<rect x="212.00" y="274.00" width="6.00" height="4.40" fill="#111" stroke="#111" stroke-width="0.7"/>
<text x="220.00" y="271.20" font-size="7.35" text-anchor="start" fill="#111" >G7</text>
<text x="220.00" y="279.20" font-size="7.35" text-anchor="start" fill="#111" >KRNxG7</text>
</svg></body></html>
